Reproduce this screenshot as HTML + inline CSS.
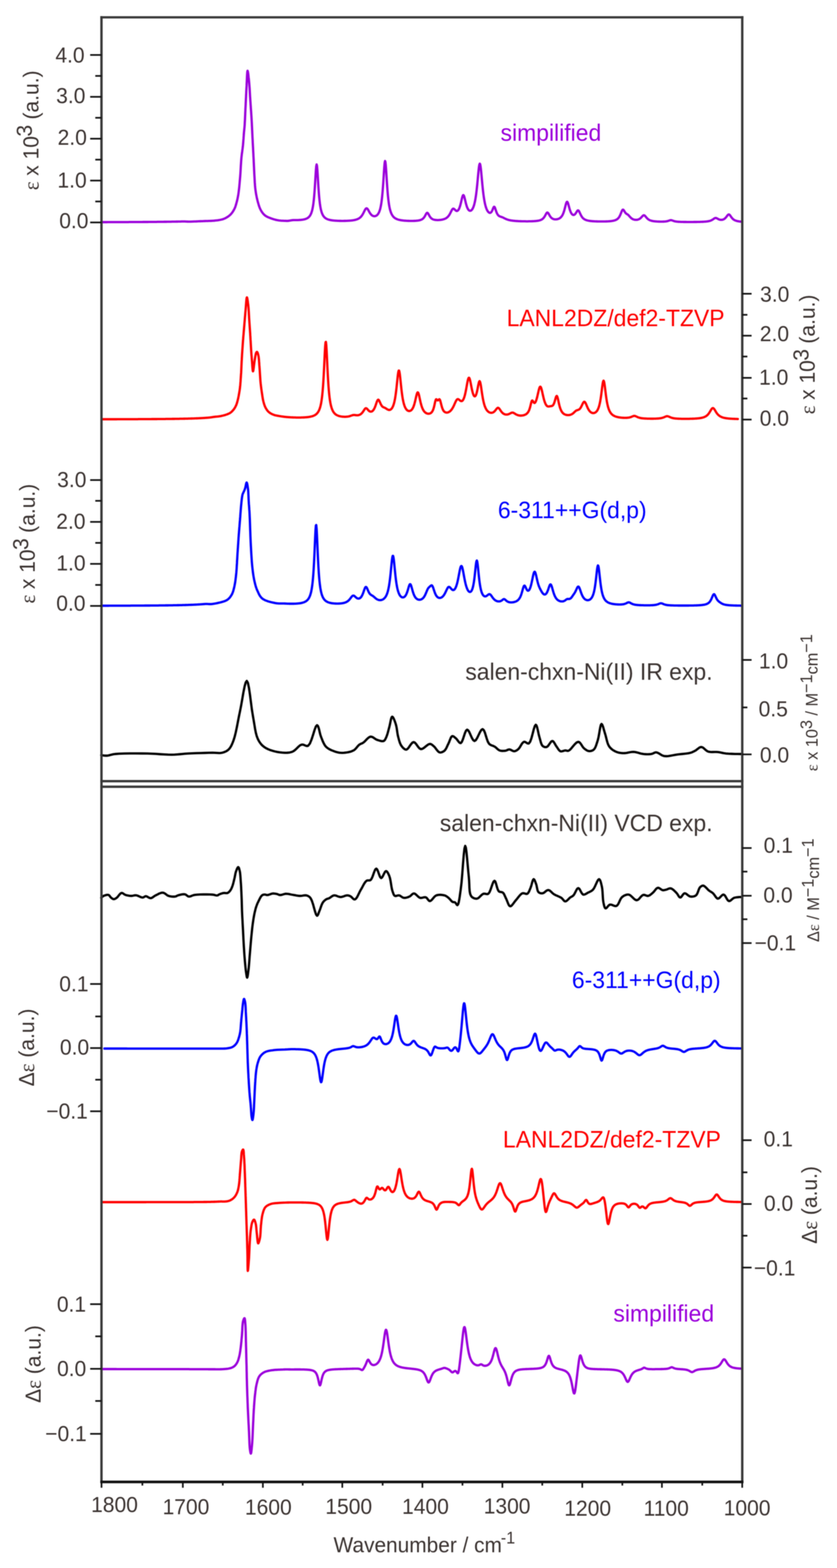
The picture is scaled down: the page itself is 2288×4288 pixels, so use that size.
<!DOCTYPE html><html><head><meta charset="utf-8"><title>IR and VCD spectra</title><style>html,body{margin:0;padding:0;background:#fff}svg{display:block;filter:blur(0.8px)}text{font-family:"Liberation Sans",Arial,sans-serif}</style></head><body>
<svg width="2288" height="4288" viewBox="0 0 2288 4288">
<rect x="0" y="0" width="2288" height="4288" fill="#fff"/>
<path d="M277.5 607.5 L278.5 607.5 L279.5 607.5 L280.5 607.5 L281.5 607.5 L282.5 607.5 L283.5 607.5 L284.5 607.5 L285.5 607.5 L286.5 607.5 L287.5 607.5 L288.5 607.5 L289.5 607.5 L290.5 607.5 L291.5 607.5 L292.5 607.5 L293.5 607.4 L294.5 607.4 L295.5 607.4 L296.5 607.4 L297.5 607.4 L298.5 607.4 L299.5 607.4 L300.5 607.4 L301.5 607.4 L302.5 607.4 L303.5 607.4 L304.5 607.4 L305.5 607.4 L306.5 607.4 L307.5 607.4 L308.5 607.4 L309.5 607.4 L310.5 607.4 L311.5 607.4 L312.5 607.4 L313.5 607.4 L314.5 607.4 L315.5 607.4 L316.5 607.4 L317.5 607.4 L318.5 607.4 L319.5 607.4 L320.5 607.4 L321.5 607.4 L322.5 607.4 L323.5 607.4 L324.5 607.4 L325.5 607.4 L326.5 607.3 L327.5 607.3 L328.5 607.3 L329.5 607.3 L330.5 607.3 L331.5 607.3 L332.5 607.3 L333.5 607.3 L334.5 607.3 L335.5 607.3 L336.5 607.3 L337.5 607.3 L338.5 607.3 L339.5 607.3 L340.5 607.3 L341.5 607.3 L342.5 607.3 L343.5 607.3 L344.5 607.3 L345.5 607.3 L346.5 607.3 L347.5 607.3 L348.5 607.3 L349.5 607.3 L350.5 607.3 L351.5 607.3 L352.5 607.2 L353.5 607.2 L354.5 607.2 L355.5 607.2 L356.5 607.2 L357.5 607.2 L358.5 607.2 L359.5 607.2 L360.5 607.2 L361.5 607.2 L362.5 607.2 L363.5 607.2 L364.5 607.2 L365.5 607.2 L366.5 607.2 L367.5 607.2 L368.5 607.2 L369.5 607.2 L370.5 607.2 L371.5 607.2 L372.5 607.2 L373.5 607.1 L374.5 607.1 L375.5 607.1 L376.5 607.1 L377.5 607.1 L378.5 607.1 L379.5 607.1 L380.5 607.1 L381.5 607.1 L382.5 607.1 L383.5 607.1 L384.5 607.1 L385.5 607.1 L386.5 607.1 L387.5 607.1 L388.5 607.1 L389.5 607.1 L390.5 607 L391.5 607 L392.5 607 L393.5 607 L394.5 607 L395.5 607 L396.5 607 L397.5 607 L398.5 607 L399.5 607 L400.5 607 L401.5 607 L402.5 607 L403.5 607 L404.5 607 L405.5 606.9 L406.5 606.9 L407.5 606.9 L408.5 606.9 L409.5 606.9 L410.5 606.9 L411.5 606.9 L412.5 606.9 L413.5 606.9 L414.5 606.9 L415.5 606.9 L416.5 606.9 L417.5 606.9 L418.5 606.8 L419.5 606.8 L420.5 606.8 L421.5 606.8 L422.5 606.8 L423.5 606.8 L424.5 606.8 L425.5 606.8 L426.5 606.8 L427.5 606.8 L428.5 606.8 L429.5 606.7 L430.5 606.7 L431.5 606.7 L432.5 606.7 L433.5 606.7 L434.5 606.7 L435.5 606.7 L436.5 606.7 L437.5 606.7 L438.5 606.7 L439.5 606.6 L440.5 606.6 L441.5 606.6 L442.5 606.6 L443.5 606.6 L444.5 606.6 L445.5 606.6 L446.5 606.6 L447.5 606.6 L448.5 606.5 L449.5 606.5 L450.5 606.5 L451.5 606.5 L452.5 606.5 L453.5 606.5 L454.5 606.5 L455.5 606.5 L456.5 606.4 L457.5 606.4 L458.5 606.4 L459.5 606.4 L460.5 606.4 L461.5 606.4 L462.5 606.4 L463.5 606.3 L464.5 606.3 L465.5 606.3 L466.5 606.3 L467.5 606.3 L468.5 606.3 L469.5 606.2 L470.5 606.2 L471.5 606.2 L472.5 606.2 L473.5 606.2 L474.5 606.2 L475.5 606.1 L476.5 606.1 L477.5 606.1 L478.5 606.1 L479.5 606.1 L480.5 606.1 L481.5 606 L482.5 606 L483.5 606 L484.5 606 L485.5 606 L486.5 605.9 L487.5 605.9 L488.5 605.9 L489.5 605.9 L490.5 605.9 L491.5 605.8 L492.5 605.8 L493.5 605.8 L494.5 605.8 L495.5 605.7 L496.5 605.7 L497.5 605.7 L498.5 605.7 L499.5 605.6 L500.5 605.6 L501.5 605.6 L502.5 605.6 L503.5 605.6 L504.5 605.7 L505.5 605.7 L506.5 605.7 L507.5 605.8 L508.5 605.8 L509.5 605.9 L510.5 605.9 L511.5 606 L512.5 606 L513.5 606.1 L514.5 606.1 L515.5 606.1 L516.5 606.2 L517.5 606.2 L518.5 606.1 L519.5 606.1 L521.1 606.1 L526.5 605.8 L531.6 605.6 L536.2 605.5 L540 605.3 L542.3 605.2 L544.4 605.1 L546.4 605 L548.3 605 L550.2 604.9 L552.1 604.8 L554 604.8 L555.9 604.7 L557.9 604.6 L560 604.5 L562.6 604.4 L565.3 604.3 L568.1 604.3 L571 604.2 L573.9 604.1 L576.7 604 L579.6 603.9 L582.5 603.7 L585.3 603.5 L588 603.2 L590.5 602.9 L593 602.6 L595.5 602.3 L598 601.9 L600.5 601.5 L602.9 601 L605.2 600.5 L607.6 599.9 L609.8 599.2 L612 598.4 L614 597.6 L615.9 596.7 L617.8 595.7 L619.6 594.6 L621.5 593.5 L623.2 592.4 L624.9 591.2 L626.5 589.9 L628.1 588.6 L629.6 587.2 L631 585.8 L632.3 584.4 L633.5 582.9 L634.7 581.3 L635.9 579.7 L636.9 578 L638 576.4 L639 574.7 L639.9 572.9 L640.8 571.2 L641.7 569.4 L642.4 567.6 L643.2 565.7 L643.8 563.9 L644.4 561.9 L645 560 L645.6 558 L646.1 556 L646.7 554 L647.2 552 L647.8 549.8 L648.3 547.5 L648.9 545.3 L649.4 543 L649.8 540.6 L650.3 538.3 L650.7 535.8 L651.2 533.3 L651.6 530.7 L652 528 L652.5 524.2 L653 520.2 L653.5 516 L654 511.7 L654.4 507.3 L654.8 502.8 L655.2 498.2 L655.6 493.6 L656 489 L656.4 484.4 L656.8 479.3 L657.2 474.1 L657.5 468.7 L657.8 463.3 L658.1 457.8 L658.4 452.4 L658.8 447.1 L659.1 441.9 L659.5 436.8 L659.9 432 L660.3 428.2 L660.7 424.6 L661.1 421 L661.6 417.5 L662.1 414.1 L662.5 410.7 L663 407.4 L663.4 404 L663.8 400.6 L664.2 397.1 L664.5 393.6 L664.8 389.9 L665.1 386.2 L665.4 382.5 L665.7 378.9 L665.9 375.2 L666.2 371.7 L666.4 368.3 L666.7 365.1 L666.9 362.1 L667.1 360.2 L667.3 358.4 L667.4 356.7 L667.6 355.2 L667.8 353.6 L667.9 352 L668.1 350.4 L668.3 348.7 L668.4 346.8 L668.6 344.7 L668.9 340.6 L669.1 336 L669.4 331.1 L669.7 325.8 L669.9 320.3 L670.2 314.6 L670.4 308.9 L670.7 303.2 L670.9 297.7 L671.2 292.3 L671.5 287 L671.7 281.8 L672 276.5 L672.2 271.2 L672.5 265.9 L672.7 260.6 L673 255.4 L673.2 250.2 L673.5 245 L673.8 239.9 L674.1 234.7 L674.3 229 L674.6 222.9 L674.9 216.7 L675.1 210.8 L675.4 205.3 L675.7 200.6 L676 196.9 L676.4 194.5 L676.8 193.6 L677.1 194.1 L677.5 195.5 L677.9 197.7 L678.4 200.5 L678.8 203.8 L679.2 207.5 L679.6 211.3 L680.1 215.2 L680.4 218.9 L680.8 222.4 L681.2 227 L681.6 231.9 L682 237 L682.4 242.2 L682.7 247.6 L683 253.1 L683.3 258.6 L683.6 264.1 L684 269.5 L684.3 274.8 L684.7 280 L685 285.3 L685.4 290.5 L685.7 295.8 L686.1 301 L686.5 306.2 L686.8 311.5 L687.2 316.7 L687.5 322 L687.8 327.2 L688.1 332.4 L688.4 337.7 L688.6 342.9 L688.9 348.2 L689.1 353.4 L689.4 358.6 L689.6 363.9 L689.9 369.1 L690.1 374.4 L690.4 379.6 L690.7 384.8 L690.9 390.1 L691.2 395.3 L691.5 400.6 L691.8 405.8 L692 411 L692.3 416.3 L692.6 421.5 L692.8 426.8 L693.1 432 L693.4 437.3 L693.6 442.6 L693.9 448 L694.1 453.4 L694.4 458.8 L694.6 464.2 L694.9 469.4 L695.1 474.6 L695.4 479.6 L695.7 484.4 L695.9 488.2 L696.1 492 L696.3 495.7 L696.5 499.2 L696.8 502.8 L697 506.2 L697.3 509.7 L697.6 513.1 L698 516.6 L698.4 520 L698.9 523.3 L699.4 526.6 L699.9 529.9 L700.5 533.2 L701.2 536.5 L701.8 539.7 L702.5 542.9 L703.3 546 L704 549.1 L704.8 552 L705.5 554.5 L706.2 556.9 L706.9 559.3 L707.6 561.6 L708.3 563.9 L709.1 566.1 L710 568.3 L710.8 570.4 L711.8 572.4 L712.8 574.4 L713.7 576.1 L714.7 577.7 L715.7 579.3 L716.8 580.8 L717.8 582.3 L719 583.7 L720.2 585.1 L721.4 586.4 L722.7 587.6 L724 588.8 L725.4 589.9 L726.8 590.8 L728.4 591.7 L729.9 592.6 L731.5 593.4 L733.2 594.1 L734.9 594.8 L736.6 595.5 L738.3 596.1 L740 596.8 L741.9 597.5 L743.8 598.2 L745.7 598.8 L747.6 599.4 L749.6 600 L751.6 600.6 L753.7 601.1 L755.7 601.6 L757.8 602 L760 602.4 L762.6 602.8 L765.3 603.1 L768 603.4 L770.9 603.6 L773.7 603.7 L776.6 603.8 L779.4 603.9 L782.1 604 L784.8 604.1 L785.5 604.1 L786.5 604 L787.5 604 L788.5 603.9 L789.5 603.7 L790.5 603.6 L791.5 603.4 L792.5 603.2 L793.5 603 L794.5 602.9 L795.5 602.7 L796.5 602.5 L797.5 602.4 L798.5 602.2 L799.5 602.1 L800.5 602 L801.5 601.9 L802.5 601.9 L803.5 601.9 L804.5 601.9 L805.5 601.9 L806.5 601.9 L807.5 601.9 L808.5 601.9 L809.5 601.9 L810.5 601.9 L811.5 601.9 L812.5 601.8 L813.5 601.8 L814.5 601.8 L815.5 601.8 L816.5 601.7 L817.5 601.7 L818.5 601.6 L819.5 601.5 L820.5 601.5 L821.5 601.4 L822.5 601.3 L823.5 601.2 L824.5 601.1 L825.5 601 L826.5 600.8 L827.5 600.7 L828.5 600.5 L829.5 600.3 L830.5 600.1 L831.5 599.9 L832.5 599.7 L833.5 599.4 L834.5 599.1 L835.5 598.8 L836.5 598.4 L837.5 598 L838.5 597.5 L839.5 597 L840.5 596.4 L841.5 595.8 L842.5 595.1 L843.5 594.2 L844.5 593.3 L845.5 592.2 L846.5 591 L847.5 589.6 L848.5 587.9 L849.5 586 L850.5 583.8 L851.5 581.1 L852.5 578 L853.5 574.3 L854.5 569.8 L855.5 564.3 L856.5 557.7 L857.5 549.7 L858.5 539.9 L859.5 528.1 L860.5 514.2 L861.5 498.4 L862.5 481.6 L863.5 465.9 L864.5 454.3 L865.5 449.7 L866.5 453.4 L867.5 464.5 L868.5 480 L869.5 496.7 L870.5 512.7 L871.5 526.9 L872.5 538.9 L873.5 549 L874.5 557.2 L875.5 564 L876.5 569.6 L877.5 574.2 L878.5 578 L879.5 581.2 L880.5 584 L881.5 586.3 L882.5 588.2 L883.5 589.9 L884.5 591.4 L885.5 592.7 L886.5 593.8 L887.5 594.8 L888.5 595.7 L889.5 596.4 L890.5 597.1 L891.5 597.7 L892.5 598.3 L893.5 598.8 L894.5 599.2 L895.5 599.6 L896.5 600 L897.5 600.3 L898.5 600.7 L899.5 600.9 L900.5 601.2 L901.5 601.4 L902.5 601.6 L903.5 601.9 L904.5 602 L905.5 602.2 L906.5 602.4 L907.5 602.5 L908.5 602.6 L909.5 602.8 L910.5 602.9 L911.5 603 L912.5 603.1 L913.5 603.2 L914.5 603.3 L915.5 603.4 L916.5 603.4 L917.5 603.5 L918.5 603.6 L919.5 603.6 L920.5 603.7 L921.5 603.7 L922.5 603.8 L923.5 603.8 L924.5 603.9 L925.5 603.9 L926.5 603.9 L927.5 604 L928.5 604 L929.5 604 L930.5 604 L931.5 604 L932.5 604.1 L933.5 604.1 L934.5 604.1 L935.5 604.1 L936.5 604.1 L937.5 604.1 L938.5 604.1 L939.5 604.1 L940.5 604 L941.5 604 L942.5 604 L943.5 604 L944.5 604 L945.5 603.9 L946.5 603.9 L947.5 603.9 L948.5 603.8 L949.5 603.8 L950.5 603.7 L951.5 603.7 L952.5 603.6 L953.5 603.6 L954.5 603.5 L955.5 603.4 L956.5 603.4 L957.5 603.3 L958.5 603.2 L959.5 603.1 L960.5 603 L961.5 602.9 L962.5 602.8 L963.5 602.6 L964.5 602.5 L965.5 602.3 L966.5 602.2 L967.5 602 L968.5 601.8 L969.5 601.6 L970.5 601.4 L971.5 601.1 L972.5 600.9 L973.5 600.6 L974.5 600.3 L975.5 599.9 L976.5 599.5 L977.5 599.1 L978.5 598.7 L979.5 598.2 L980.5 597.6 L981.5 597 L982.5 596.4 L983.5 595.6 L984.5 594.8 L985.5 593.9 L986.5 592.9 L987.5 591.8 L988.5 590.5 L989.5 589.2 L990.5 587.7 L991.5 586 L992.5 584.3 L993.5 582.4 L994.5 580.4 L995.5 578.4 L996.5 576.3 L997.5 574.4 L998.5 572.7 L999.5 571.2 L1000.5 570.2 L1001.5 569.7 L1002.5 569.7 L1003.5 570.2 L1004.5 571.2 L1005.5 572.6 L1006.5 574.2 L1007.5 575.9 L1008.5 577.8 L1009.5 579.6 L1010.5 581.3 L1011.5 582.9 L1012.5 584.3 L1013.5 585.6 L1014.5 586.8 L1015.5 587.8 L1016.5 588.7 L1017.5 589.4 L1018.5 590 L1019.5 590.5 L1020.5 590.8 L1021.5 591.1 L1022.5 591.2 L1023.5 591.3 L1024.5 591.2 L1025.5 591.1 L1026.5 590.8 L1027.5 590.4 L1028.5 589.9 L1029.5 589.3 L1030.5 588.5 L1031.5 587.6 L1032.5 586.4 L1033.5 585.1 L1034.5 583.5 L1035.5 581.7 L1036.5 579.5 L1037.5 577 L1038.5 573.9 L1039.5 570.3 L1040.5 566 L1041.5 560.9 L1042.5 554.8 L1043.5 547.5 L1044.5 538.7 L1045.5 528.3 L1046.5 516.1 L1047.5 502 L1048.5 486.6 L1049.5 470.7 L1050.5 456.2 L1051.5 445.2 L1052.5 440.3 L1053.5 442.5 L1054.5 451.4 L1055.5 465 L1056.5 480.7 L1057.5 496.6 L1058.5 511.4 L1059.5 524.4 L1060.5 535.7 L1061.5 545.2 L1062.5 553.2 L1063.5 560 L1064.5 565.6 L1065.5 570.4 L1066.5 574.4 L1067.5 577.8 L1068.5 580.7 L1069.5 583.3 L1070.5 585.4 L1071.5 587.3 L1072.5 589 L1073.5 590.4 L1074.5 591.7 L1075.5 592.9 L1076.5 593.9 L1077.5 594.8 L1078.5 595.6 L1079.5 596.3 L1080.5 597 L1081.5 597.6 L1082.5 598.1 L1083.5 598.6 L1084.5 599 L1085.5 599.4 L1086.5 599.8 L1087.5 600.2 L1088.5 600.5 L1089.5 600.8 L1090.5 601 L1091.5 601.3 L1092.5 601.5 L1093.5 601.7 L1094.5 601.9 L1095.5 602.1 L1096.5 602.3 L1097.5 602.4 L1098.5 602.6 L1099.5 602.7 L1100.5 602.9 L1101.5 603 L1102.5 603.1 L1103.5 603.2 L1104.5 603.3 L1105.5 603.4 L1106.5 603.5 L1107.5 603.5 L1108.5 603.6 L1109.5 603.7 L1110.5 603.7 L1111.5 603.8 L1112.5 603.9 L1113.5 603.9 L1114.5 603.9 L1115.5 604 L1116.5 604 L1117.5 604 L1118.5 604.1 L1119.5 604.1 L1120.5 604.1 L1121.5 604.1 L1122.5 604.1 L1123.5 604.1 L1124.5 604.1 L1125.5 604.1 L1126.5 604.1 L1127.5 604.1 L1128.5 604.1 L1129.5 604.1 L1130.5 604.1 L1131.5 604 L1132.5 604 L1133.5 604 L1134.5 603.9 L1135.5 603.9 L1136.5 603.8 L1137.5 603.7 L1138.5 603.6 L1139.5 603.5 L1140.5 603.4 L1141.5 603.3 L1142.5 603.2 L1143.5 603 L1144.5 602.9 L1145.5 602.7 L1146.5 602.4 L1147.5 602.2 L1148.5 601.9 L1149.5 601.6 L1150.5 601.2 L1151.5 600.8 L1152.5 600.4 L1153.5 599.8 L1154.5 599.2 L1155.5 598.5 L1156.5 597.6 L1157.5 596.6 L1158.5 595.5 L1159.5 594.2 L1160.5 592.7 L1161.5 591 L1162.5 589.2 L1163.5 587.3 L1164.5 585.4 L1165.5 583.8 L1166.5 582.6 L1167.5 582 L1168.5 582.1 L1169.5 582.9 L1170.5 584.3 L1171.5 586 L1172.5 587.8 L1173.5 589.7 L1174.5 591.4 L1175.5 592.9 L1176.5 594.3 L1177.5 595.5 L1178.5 596.5 L1179.5 597.4 L1180.5 598.1 L1181.5 598.8 L1182.5 599.3 L1183.5 599.8 L1184.5 600.2 L1185.5 600.5 L1186.5 600.8 L1187.5 601 L1188.5 601.2 L1189.5 601.4 L1190.5 601.5 L1191.5 601.6 L1192.5 601.7 L1193.5 601.7 L1194.5 601.8 L1195.5 601.8 L1196.5 601.8 L1197.5 601.8 L1198.5 601.8 L1199.5 601.7 L1200.5 601.7 L1201.5 601.6 L1202.5 601.5 L1203.5 601.4 L1204.5 601.3 L1205.5 601.2 L1206.5 601 L1207.5 600.8 L1208.5 600.6 L1209.5 600.4 L1210.5 600.2 L1211.5 599.9 L1212.5 599.6 L1213.5 599.3 L1214.5 599 L1215.5 598.6 L1216.5 598.2 L1217.5 597.7 L1218.5 597.2 L1219.5 596.6 L1220.5 595.9 L1221.5 595.2 L1222.5 594.4 L1223.5 593.5 L1224.5 592.5 L1225.5 591.4 L1226.5 590.1 L1227.5 588.7 L1228.5 587.2 L1229.5 585.5 L1230.5 583.7 L1231.5 581.7 L1232.5 579.7 L1233.5 577.7 L1234.5 575.7 L1235.5 573.9 L1236.5 572.4 L1237.5 571.3 L1238.5 570.7 L1239.5 570.6 L1240.5 570.9 L1241.5 571.6 L1242.5 572.5 L1243.5 573.5 L1244.5 574.5 L1245.5 575.4 L1246.5 576.1 L1247.5 576.6 L1248.5 576.8 L1249.5 576.8 L1250.5 576.4 L1251.5 575.7 L1252.5 574.7 L1253.5 573.3 L1254.5 571.6 L1255.5 569.4 L1256.5 566.9 L1257.5 563.8 L1258.5 560.4 L1259.5 556.5 L1260.5 552.4 L1261.5 548 L1262.5 543.7 L1263.5 539.7 L1264.5 536.5 L1265.5 534.3 L1266.5 533.5 L1267.5 534.2 L1268.5 536.2 L1269.5 539.3 L1270.5 543.2 L1271.5 547.4 L1272.5 551.6 L1273.5 555.7 L1274.5 559.4 L1275.5 562.8 L1276.5 565.8 L1277.5 568.3 L1278.5 570.4 L1279.5 572.2 L1280.5 573.6 L1281.5 574.7 L1282.5 575.5 L1283.5 576.1 L1284.5 576.4 L1285.5 576.4 L1286.5 576.2 L1287.5 575.8 L1288.5 575.1 L1289.5 574.1 L1290.5 572.9 L1291.5 571.4 L1292.5 569.6 L1293.5 567.5 L1294.5 565 L1295.5 562 L1296.5 558.6 L1297.5 554.6 L1298.5 550 L1299.5 544.6 L1300.5 538.6 L1301.5 531.6 L1302.5 523.7 L1303.5 514.9 L1304.5 505.2 L1305.5 494.7 L1306.5 483.9 L1307.5 473.1 L1308.5 463.2 L1309.5 455.1 L1310.5 449.6 L1311.5 447.5 L1312.5 449 L1313.5 454 L1314.5 461.8 L1315.5 471.6 L1316.5 482.4 L1317.5 493.4 L1318.5 504.1 L1319.5 514.2 L1320.5 523.3 L1321.5 531.6 L1322.5 538.9 L1323.5 545.3 L1324.5 551 L1325.5 555.9 L1326.5 560.2 L1327.5 564 L1328.5 567.3 L1329.5 570.1 L1330.5 572.6 L1331.5 574.7 L1332.5 576.5 L1333.5 578 L1334.5 579.3 L1335.5 580.3 L1336.5 581.1 L1337.5 581.7 L1338.5 582 L1339.5 582.1 L1340.5 581.9 L1341.5 581.4 L1342.5 580.6 L1343.5 579.4 L1344.5 577.8 L1345.5 575.8 L1346.5 573.5 L1347.5 571 L1348.5 568.5 L1349.5 566.5 L1350.5 565.5 L1351.5 565.6 L1352.5 567 L1353.5 569.4 L1354.5 572.4 L1355.5 575.5 L1356.5 578.4 L1357.5 581.1 L1358.5 583.4 L1359.5 585.3 L1360.5 586.9 L1361.5 588.2 L1362.5 589.3 L1363.5 590.1 L1364.5 590.8 L1365.5 591.4 L1366.5 591.8 L1367.5 592.2 L1368.5 592.6 L1369.5 592.9 L1370.5 593.2 L1371.5 593.5 L1372.5 593.9 L1373.5 594.3 L1374.5 594.7 L1375.5 595.2 L1376.5 595.6 L1377.5 596.2 L1378.5 596.7 L1379.5 597.2 L1380.5 597.7 L1381.5 598.2 L1382.5 598.6 L1383.5 599.1 L1384.5 599.5 L1385.5 599.9 L1386.5 600.3 L1387.5 600.6 L1388.5 600.9 L1389.5 601.2 L1390.5 601.5 L1391.5 601.8 L1392.5 602 L1393.5 602.2 L1394.5 602.4 L1395.5 602.6 L1396.5 602.8 L1397.5 602.9 L1398.5 603.1 L1399.5 603.2 L1400.5 603.4 L1401.5 603.5 L1402.5 603.6 L1403.5 603.7 L1404.5 603.8 L1405.5 603.9 L1406.5 604 L1407.5 604.1 L1408.5 604.2 L1409.5 604.3 L1410.5 604.4 L1411.5 604.4 L1412.5 604.5 L1413.5 604.5 L1414.5 604.6 L1415.5 604.7 L1416.5 604.7 L1417.5 604.8 L1418.5 604.8 L1419.5 604.8 L1420.5 604.9 L1421.5 604.9 L1422.5 605 L1423.5 605 L1424.5 605 L1425.5 605.1 L1426.5 605.1 L1427.5 605.1 L1428.5 605.1 L1429.5 605.2 L1430.5 605.2 L1431.5 605.2 L1432.5 605.2 L1433.5 605.2 L1434.5 605.2 L1435.5 605.2 L1436.5 605.2 L1437.5 605.3 L1438.5 605.3 L1439.5 605.3 L1440.5 605.3 L1441.5 605.3 L1442.5 605.3 L1443.5 605.3 L1444.5 605.2 L1445.5 605.2 L1446.5 605.2 L1447.5 605.2 L1448.5 605.2 L1449.5 605.2 L1450.5 605.1 L1451.5 605.1 L1452.5 605.1 L1453.5 605.1 L1454.5 605 L1455.5 605 L1456.5 604.9 L1457.5 604.9 L1458.5 604.8 L1459.5 604.8 L1460.5 604.7 L1461.5 604.7 L1462.5 604.6 L1463.5 604.5 L1464.5 604.4 L1465.5 604.3 L1466.5 604.2 L1467.5 604.1 L1468.5 603.9 L1469.5 603.8 L1470.5 603.6 L1471.5 603.5 L1472.5 603.3 L1473.5 603 L1474.5 602.8 L1475.5 602.5 L1476.5 602.2 L1477.5 601.8 L1478.5 601.4 L1479.5 601 L1480.5 600.5 L1481.5 599.9 L1482.5 599.2 L1483.5 598.4 L1484.5 597.5 L1485.5 596.5 L1486.5 595.3 L1487.5 594 L1488.5 592.5 L1489.5 590.8 L1490.5 589 L1491.5 587.1 L1492.5 585.3 L1493.5 583.6 L1494.5 582.2 L1495.5 581.4 L1496.5 581.2 L1497.5 581.7 L1498.5 582.7 L1499.5 584.2 L1500.5 585.9 L1501.5 587.7 L1502.5 589.5 L1503.5 591.1 L1504.5 592.5 L1505.5 593.8 L1506.5 595 L1507.5 595.9 L1508.5 596.7 L1509.5 597.4 L1510.5 598 L1511.5 598.5 L1512.5 598.9 L1513.5 599.2 L1514.5 599.5 L1515.5 599.7 L1516.5 599.8 L1517.5 599.9 L1518.5 599.9 L1519.5 599.9 L1520.5 599.8 L1521.5 599.7 L1522.5 599.6 L1523.5 599.4 L1524.5 599.1 L1525.5 598.8 L1526.5 598.5 L1527.5 598.1 L1528.5 597.6 L1529.5 597 L1530.5 596.4 L1531.5 595.7 L1532.5 594.8 L1533.5 593.8 L1534.5 592.7 L1535.5 591.4 L1536.5 590 L1537.5 588.3 L1538.5 586.3 L1539.5 584.1 L1540.5 581.5 L1541.5 578.6 L1542.5 575.3 L1543.5 571.7 L1544.5 567.8 L1545.5 563.8 L1546.5 559.9 L1547.5 556.4 L1548.5 553.7 L1549.5 552.1 L1550.5 551.9 L1551.5 553 L1552.5 555.3 L1553.5 558.4 L1554.5 562 L1555.5 565.8 L1556.5 569.5 L1557.5 572.9 L1558.5 575.9 L1559.5 578.6 L1560.5 580.9 L1561.5 582.8 L1562.5 584.3 L1563.5 585.6 L1564.5 586.6 L1565.5 587.2 L1566.5 587.7 L1567.5 587.9 L1568.5 587.8 L1569.5 587.5 L1570.5 586.9 L1571.5 586.1 L1572.5 585 L1573.5 583.7 L1574.5 582.2 L1575.5 580.6 L1576.5 578.9 L1577.5 577.4 L1578.5 576.1 L1579.5 575.4 L1580.5 575.3 L1581.5 575.9 L1582.5 577.1 L1583.5 578.9 L1584.5 581 L1585.5 583.2 L1586.5 585.4 L1587.5 587.5 L1588.5 589.4 L1589.5 591.2 L1590.5 592.7 L1591.5 594.1 L1592.5 595.4 L1593.5 596.4 L1594.5 597.4 L1595.5 598.2 L1596.5 598.9 L1597.5 599.6 L1598.5 600.2 L1599.5 600.7 L1600.5 601.1 L1601.5 601.5 L1602.5 601.9 L1603.5 602.2 L1604.5 602.5 L1605.5 602.8 L1606.5 603 L1607.5 603.3 L1608.5 603.5 L1609.5 603.7 L1610.5 603.8 L1611.5 604 L1612.5 604.1 L1613.5 604.3 L1614.5 604.4 L1615.5 604.5 L1616.5 604.6 L1617.5 604.7 L1618.5 604.8 L1619.5 604.9 L1620.5 605 L1621.5 605 L1622.5 605.1 L1623.5 605.2 L1624.5 605.2 L1625.5 605.3 L1626.5 605.3 L1627.5 605.4 L1628.5 605.4 L1629.5 605.4 L1630.5 605.5 L1631.5 605.5 L1632.5 605.5 L1633.5 605.6 L1634.5 605.6 L1635.5 605.6 L1636.5 605.6 L1637.5 605.7 L1638.5 605.7 L1639.5 605.7 L1640.5 605.7 L1641.5 605.7 L1642.5 605.7 L1643.5 605.7 L1644.5 605.7 L1645.5 605.7 L1646.5 605.7 L1647.5 605.7 L1648.5 605.7 L1649.5 605.7 L1650.5 605.7 L1651.5 605.6 L1652.5 605.6 L1653.5 605.6 L1654.5 605.6 L1655.5 605.6 L1656.5 605.5 L1657.5 605.5 L1658.5 605.5 L1659.5 605.4 L1660.5 605.4 L1661.5 605.3 L1662.5 605.3 L1663.5 605.2 L1664.5 605.1 L1665.5 605.1 L1666.5 605 L1667.5 604.9 L1668.5 604.8 L1669.5 604.7 L1670.5 604.6 L1671.5 604.5 L1672.5 604.3 L1673.5 604.2 L1674.5 604 L1675.5 603.8 L1676.5 603.6 L1677.5 603.4 L1678.5 603.2 L1679.5 602.9 L1680.5 602.6 L1681.5 602.3 L1682.5 601.9 L1683.5 601.4 L1684.5 601 L1685.5 600.4 L1686.5 599.8 L1687.5 599.1 L1688.5 598.3 L1689.5 597.3 L1690.5 596.2 L1691.5 595 L1692.5 593.6 L1693.5 591.9 L1694.5 590 L1695.5 587.9 L1696.5 585.6 L1697.5 583 L1698.5 580.4 L1699.5 577.9 L1700.5 575.7 L1701.5 574.1 L1702.5 573.3 L1703.5 573.3 L1704.5 574.1 L1705.5 575.4 L1706.5 577.1 L1707.5 578.8 L1708.5 580.4 L1709.5 581.8 L1710.5 583 L1711.5 583.9 L1712.5 584.6 L1713.5 585.3 L1714.5 585.9 L1715.5 586.5 L1716.5 587.2 L1717.5 588.1 L1718.5 589.1 L1719.5 590.2 L1720.5 591.3 L1721.5 592.5 L1722.5 593.6 L1723.5 594.6 L1724.5 595.6 L1725.5 596.5 L1726.5 597.3 L1727.5 598 L1728.5 598.6 L1729.5 599.1 L1730.5 599.6 L1731.5 600 L1732.5 600.3 L1733.5 600.6 L1734.5 600.8 L1735.5 600.9 L1736.5 601.1 L1737.5 601.1 L1738.5 601.2 L1739.5 601.1 L1740.5 601.1 L1741.5 601 L1742.5 600.8 L1743.5 600.6 L1744.5 600.3 L1745.5 599.9 L1746.5 599.5 L1747.5 599 L1748.5 598.4 L1749.5 597.8 L1750.5 597 L1751.5 596.1 L1752.5 595.1 L1753.5 594.1 L1754.5 593 L1755.5 591.8 L1756.5 590.8 L1757.5 589.8 L1758.5 589.1 L1759.5 588.7 L1760.5 588.7 L1761.5 589 L1762.5 589.7 L1763.5 590.7 L1764.5 591.8 L1765.5 593 L1766.5 594.2 L1767.5 595.4 L1768.5 596.5 L1769.5 597.5 L1770.5 598.5 L1771.5 599.3 L1772.5 600 L1773.5 600.7 L1774.5 601.3 L1775.5 601.8 L1776.5 602.2 L1777.5 602.7 L1778.5 603 L1779.5 603.3 L1780.5 603.6 L1781.5 603.9 L1782.5 604.1 L1783.5 604.3 L1784.5 604.5 L1785.5 604.7 L1786.5 604.8 L1787.5 605 L1788.5 605.1 L1789.5 605.2 L1790.5 605.3 L1791.5 605.4 L1792.5 605.5 L1793.5 605.6 L1794.5 605.7 L1795.5 605.7 L1796.5 605.8 L1797.5 605.8 L1798.5 605.9 L1799.5 605.9 L1800.5 606 L1801.5 606 L1802.5 606 L1803.5 606.1 L1804.5 606.1 L1805.5 606.1 L1806.5 606.1 L1807.5 606.1 L1808.5 606.1 L1809.5 606.1 L1810.5 606.1 L1811.5 606.1 L1812.5 606 L1813.5 606 L1814.5 606 L1815.5 605.9 L1816.5 605.9 L1817.5 605.8 L1818.5 605.7 L1819.5 605.6 L1820.5 605.5 L1821.5 605.3 L1822.5 605.1 L1823.5 604.9 L1824.5 604.7 L1825.5 604.4 L1826.5 604.1 L1827.5 603.8 L1828.5 603.4 L1829.5 603.1 L1830.5 602.7 L1831.5 602.4 L1832.5 602.2 L1833.5 602.1 L1834.5 602.1 L1835.5 602.2 L1836.5 602.5 L1837.5 602.8 L1838.5 603.2 L1839.5 603.6 L1840.5 603.9 L1841.5 604.3 L1842.5 604.6 L1843.5 604.9 L1844.5 605.1 L1845.5 605.4 L1846.5 605.6 L1847.5 605.7 L1848.5 605.9 L1849.5 606 L1850.5 606.1 L1851.5 606.2 L1852.5 606.3 L1853.5 606.4 L1854.5 606.5 L1855.5 606.5 L1856.5 606.6 L1857.5 606.6 L1858.5 606.7 L1859.5 606.7 L1860.5 606.8 L1861.5 606.8 L1862.5 606.8 L1863.5 606.9 L1864.5 606.9 L1865.5 606.9 L1866.5 606.9 L1867.5 606.9 L1868.5 607 L1869.5 607 L1870.5 607 L1871.5 607 L1872.5 607 L1873.5 607 L1874.5 607 L1875.5 607 L1876.5 607.1 L1877.5 607.1 L1878.5 607.1 L1879.5 607.1 L1880.5 607.1 L1881.5 607.1 L1882.5 607.1 L1883.5 607.1 L1884.5 607.1 L1885.5 607.1 L1886.5 607.1 L1887.5 607.1 L1888.5 607.1 L1889.5 607.1 L1890.5 607.1 L1891.5 607.1 L1892.5 607.1 L1893.5 607.1 L1894.5 607.1 L1895.5 607.1 L1896.5 607 L1897.5 607 L1898.5 607 L1899.5 607 L1900.5 607 L1901.5 607 L1902.5 607 L1903.5 607 L1904.5 607 L1905.5 606.9 L1906.5 606.9 L1907.5 606.9 L1908.5 606.9 L1909.5 606.9 L1910.5 606.8 L1911.5 606.8 L1912.5 606.8 L1913.5 606.8 L1914.5 606.7 L1915.5 606.7 L1916.5 606.7 L1917.5 606.6 L1918.5 606.6 L1919.5 606.6 L1920.5 606.5 L1921.5 606.5 L1922.5 606.4 L1923.5 606.4 L1924.5 606.3 L1925.5 606.2 L1926.5 606.2 L1927.5 606.1 L1928.5 606 L1929.5 605.9 L1930.5 605.8 L1931.5 605.7 L1932.5 605.6 L1933.5 605.4 L1934.5 605.3 L1935.5 605.1 L1936.5 604.9 L1937.5 604.7 L1938.5 604.5 L1939.5 604.3 L1940.5 604 L1941.5 603.7 L1942.5 603.3 L1943.5 602.9 L1944.5 602.5 L1945.5 602 L1946.5 601.4 L1947.5 600.8 L1948.5 600.2 L1949.5 599.5 L1950.5 598.8 L1951.5 598.1 L1952.5 597.4 L1953.5 596.8 L1954.5 596.4 L1955.5 596.1 L1956.5 596.1 L1957.5 596.2 L1958.5 596.5 L1959.5 596.9 L1960.5 597.5 L1961.5 598 L1962.5 598.6 L1963.5 599.1 L1964.5 599.6 L1965.5 600 L1966.5 600.4 L1967.5 600.7 L1968.5 600.9 L1969.5 601.1 L1970.5 601.2 L1971.5 601.2 L1972.5 601.2 L1973.5 601.1 L1974.5 600.9 L1975.5 600.7 L1976.5 600.4 L1977.5 600 L1978.5 599.5 L1979.5 599 L1980.5 598.3 L1981.5 597.5 L1982.5 596.6 L1983.5 595.6 L1984.5 594.4 L1985.5 593.2 L1986.5 591.9 L1987.5 590.5 L1988.5 589.2 L1989.5 588 L1990.5 587.1 L1991.5 586.6 L1992.5 586.5 L1993.5 586.8 L1994.5 587.6 L1995.5 588.7 L1996.5 590 L1997.5 591.5 L1998.5 592.9 L1999.5 594.3 L2000.5 595.6 L2001.5 596.8 L2002.5 597.9 L2003.5 598.8 L2004.5 599.7 L2005.5 600.5 L2006.5 601.1 L2007.5 601.7 L2008.5 602.2 L2009.5 602.7 L2010.5 603.1 L2011.5 603.5 L2012.5 603.8 L2013.5 604.1 L2014.5 604.4 L2015.5 604.6 L2016.5 604.8 L2017.5 605 L2018.5 605.2 L2019.5 605.4 L2020.5 605.5 L2021.5 605.6 L2022.5 605.8 L2023.5 605.9 L2024.5 606 L2025.5 606.1 L2026.5 606.2 L2027.5 606.2 L2028.5 606.3" fill="none" stroke="#9B00DB" stroke-width="6.3" stroke-linejoin="round" stroke-linecap="round"/>
<path d="M278.9 1146.5 L279.9 1146.5 L280.9 1146.5 L281.9 1146.5 L282.9 1146.5 L283.9 1146.5 L284.9 1146.5 L285.9 1146.5 L286.9 1146.5 L287.9 1146.5 L288.9 1146.5 L289.9 1146.5 L290.9 1146.5 L291.9 1146.5 L292.9 1146.5 L293.9 1146.5 L294.9 1146.5 L295.9 1146.5 L296.9 1146.5 L297.9 1146.5 L298.9 1146.5 L299.9 1146.5 L300.9 1146.5 L301.9 1146.5 L302.9 1146.5 L303.9 1146.5 L304.9 1146.5 L305.9 1146.5 L306.9 1146.5 L307.9 1146.5 L308.9 1146.5 L309.9 1146.5 L310.9 1146.5 L311.9 1146.5 L312.9 1146.5 L313.9 1146.5 L314.9 1146.5 L315.9 1146.5 L316.9 1146.5 L317.9 1146.5 L318.9 1146.5 L319.9 1146.4 L320.9 1146.4 L321.9 1146.4 L322.9 1146.4 L323.9 1146.4 L324.9 1146.4 L325.9 1146.4 L326.9 1146.4 L327.9 1146.4 L328.9 1146.4 L329.9 1146.4 L330.9 1146.4 L331.9 1146.4 L332.9 1146.4 L333.9 1146.4 L334.9 1146.4 L335.9 1146.4 L336.9 1146.4 L337.9 1146.4 L338.9 1146.4 L339.9 1146.4 L340.9 1146.4 L341.9 1146.4 L342.9 1146.4 L343.9 1146.4 L344.9 1146.4 L345.9 1146.4 L346.9 1146.4 L347.9 1146.4 L348.9 1146.4 L349.9 1146.4 L350.9 1146.4 L351.9 1146.3 L352.9 1146.3 L353.9 1146.3 L354.9 1146.3 L355.9 1146.3 L356.9 1146.3 L357.9 1146.3 L358.9 1146.3 L359.9 1146.3 L360.9 1146.3 L361.9 1146.3 L362.9 1146.3 L363.9 1146.3 L364.9 1146.3 L365.9 1146.3 L366.9 1146.3 L367.9 1146.3 L368.9 1146.3 L369.9 1146.3 L370.9 1146.3 L371.9 1146.3 L372.9 1146.3 L373.9 1146.3 L374.9 1146.3 L375.9 1146.3 L376.9 1146.3 L377.9 1146.2 L378.9 1146.2 L379.9 1146.2 L380.9 1146.2 L381.9 1146.2 L382.9 1146.2 L383.9 1146.2 L384.9 1146.2 L385.9 1146.2 L386.9 1146.2 L387.9 1146.2 L388.9 1146.2 L389.9 1146.2 L390.9 1146.2 L391.9 1146.2 L392.9 1146.2 L393.9 1146.2 L394.9 1146.2 L395.9 1146.2 L396.9 1146.2 L397.9 1146.1 L398.9 1146.1 L399.9 1146.1 L400.9 1146.1 L401.9 1146.1 L402.9 1146.1 L403.9 1146.1 L404.9 1146.1 L405.9 1146.1 L406.9 1146.1 L407.9 1146.1 L408.9 1146.1 L409.9 1146.1 L410.9 1146.1 L411.9 1146.1 L412.9 1146.1 L413.9 1146.1 L414.9 1146 L415.9 1146 L416.9 1146 L417.9 1146 L418.9 1146 L419.9 1146 L420.9 1146 L421.9 1146 L422.9 1146 L423.9 1146 L424.9 1146 L425.9 1146 L426.9 1146 L427.9 1146 L428.9 1146 L429.9 1145.9 L430.9 1145.9 L431.9 1145.9 L432.9 1145.9 L433.9 1145.9 L434.9 1145.9 L435.9 1145.9 L436.9 1145.9 L437.9 1145.9 L438.9 1145.9 L439.9 1145.9 L440.9 1145.9 L441.9 1145.8 L442.9 1145.8 L443.9 1145.8 L444.9 1145.8 L445.9 1145.8 L446.9 1145.8 L447.9 1145.8 L448.9 1145.8 L449.9 1145.8 L450.9 1145.8 L451.9 1145.8 L452.9 1145.7 L453.9 1145.7 L454.9 1145.7 L455.9 1145.7 L456.9 1145.7 L457.9 1145.7 L458.9 1145.7 L459.9 1145.7 L460.9 1145.7 L461.9 1145.6 L462.9 1145.6 L463.9 1145.6 L464.9 1145.6 L465.9 1145.6 L466.9 1145.6 L467.9 1145.6 L468.9 1145.6 L469.9 1145.6 L470.9 1145.5 L471.9 1145.5 L472.9 1145.5 L473.9 1145.5 L474.9 1145.5 L475.9 1145.5 L476.9 1145.5 L477.9 1145.4 L478.9 1145.4 L479.9 1145.4 L480.9 1145.4 L481.9 1145.4 L482.9 1145.4 L483.9 1145.4 L484.9 1145.3 L485.9 1145.3 L486.9 1145.3 L487.9 1145.3 L488.9 1145.3 L489.9 1145.3 L490.9 1145.2 L491.9 1145.2 L492.9 1145.2 L493.9 1145.2 L494.9 1145.2 L495.9 1145.2 L496.9 1145.1 L497.9 1145.1 L498.9 1145.1 L499.9 1145.1 L500.9 1145.1 L501.9 1145 L502.9 1145 L503.9 1145 L504.9 1145 L505.9 1144.9 L506.9 1144.9 L507.9 1144.9 L508.9 1144.9 L509.9 1144.9 L510.9 1144.8 L511.9 1144.8 L512.9 1144.8 L513.9 1144.8 L514.9 1144.7 L515.9 1144.7 L516.9 1144.7 L517.9 1144.7 L518.9 1144.6 L519.9 1144.6 L520.9 1144.6 L521.9 1144.5 L522.9 1144.5 L523.9 1144.5 L524.9 1144.5 L525.9 1144.4 L526.9 1144.4 L527.9 1144.4 L528.9 1144.3 L529.9 1144.3 L530.9 1144.3 L531.9 1144.2 L532.9 1144.2 L533.9 1144.2 L534.9 1144.1 L535.9 1144.1 L536.9 1144 L537.9 1144 L538.9 1144 L539.9 1143.9 L540.9 1143.9 L541.9 1143.8 L542.9 1143.8 L543.9 1143.7 L544.9 1143.7 L545.9 1143.6 L546.9 1143.6 L547.9 1143.6 L548.9 1143.5 L549.9 1143.4 L550.9 1143.4 L551.9 1143.3 L552.9 1143.3 L553.9 1143.2 L554.9 1143.2 L555.9 1143.1 L556.9 1143.1 L557.9 1143 L558.9 1142.9 L559.9 1142.9 L560.9 1142.8 L561.9 1142.7 L562.9 1142.7 L563.9 1142.6 L564.9 1142.5 L565.9 1142.4 L566.9 1142.4 L567.9 1142.3 L568.9 1142.2 L569.9 1142.1 L570.9 1142 L571.9 1141.9 L572.9 1141.8 L573.9 1141.7 L574.9 1141.6 L575.9 1141.4 L576.9 1141.3 L577.9 1141.1 L578.9 1141 L579.9 1140.8 L580.9 1140.7 L581.9 1140.5 L582.9 1140.4 L583.9 1140.2 L584.9 1140.1 L585.9 1140 L586.9 1139.9 L587.9 1139.7 L588.9 1139.6 L589.9 1139.5 L590.9 1139.4 L591.9 1139.3 L594 1139.2 L597.2 1138.8 L600 1138.4 L601.9 1138.1 L603.7 1137.8 L605.5 1137.4 L607.2 1137 L608.9 1136.7 L610.5 1136.3 L612.1 1135.8 L613.7 1135.4 L615.2 1134.9 L616.8 1134.4 L618.2 1133.9 L619.5 1133.5 L620.9 1133 L622.2 1132.5 L623.5 1132 L624.8 1131.4 L626.1 1130.8 L627.3 1130.2 L628.5 1129.5 L629.6 1128.8 L630.7 1128 L631.8 1127.2 L632.8 1126.3 L633.8 1125.3 L634.8 1124.4 L635.7 1123.4 L636.6 1122.3 L637.5 1121.3 L638.4 1120.3 L639.2 1119.2 L640 1118.2 L640.7 1117.1 L641.4 1116.1 L642.1 1115 L642.7 1113.9 L643.3 1112.8 L643.9 1111.6 L644.5 1110.4 L645.1 1109.2 L645.6 1108 L646.2 1106.5 L646.8 1105 L647.3 1103.5 L647.8 1101.9 L648.3 1100.2 L648.7 1098.6 L649.2 1096.9 L649.6 1095.3 L650 1093.6 L650.4 1092 L650.8 1090.4 L651.2 1088.8 L651.5 1087.2 L651.8 1085.6 L652.1 1084 L652.5 1082.4 L652.7 1080.8 L653 1079.2 L653.3 1077.6 L653.6 1076 L653.9 1074.4 L654.1 1072.9 L654.4 1071.4 L654.6 1069.9 L654.9 1068.4 L655.1 1066.9 L655.3 1065.3 L655.6 1063.6 L655.8 1061.9 L656 1060 L656.3 1056.9 L656.7 1053.6 L657 1050.1 L657.3 1046.3 L657.6 1042.5 L657.8 1038.6 L658.1 1034.6 L658.4 1030.6 L658.6 1026.6 L658.9 1022.7 L659.2 1018.5 L659.4 1014.2 L659.6 1009.9 L659.8 1005.5 L660 1001.1 L660.2 996.7 L660.4 992.3 L660.6 987.9 L660.9 983.5 L661.1 979.1 L661.4 974.7 L661.6 970.4 L661.9 966 L662.2 961.7 L662.5 957.3 L662.8 952.9 L663.1 948.6 L663.4 944.2 L663.7 939.9 L664 935.5 L664.3 931.1 L664.7 926.8 L665 922.4 L665.4 918 L665.8 913.6 L666.1 909.3 L666.5 904.9 L666.9 900.5 L667.2 896.2 L667.6 891.8 L668 887.4 L668.3 883 L668.7 878.6 L669.1 874.1 L669.4 869.7 L669.8 865.3 L670.2 860.9 L670.5 856.6 L670.9 852.4 L671.3 848.2 L671.6 844.2 L672 839.9 L672.3 835.3 L672.7 830.6 L673 826.2 L673.4 822.1 L673.7 818.5 L674.1 815.8 L674.5 814 L674.9 813.3 L675.2 813.6 L675.6 814.6 L676 816.1 L676.3 818.1 L676.7 820.4 L677.1 823 L677.5 825.6 L677.8 828.4 L678.2 831.1 L678.5 833.6 L678.9 837.3 L679.3 841.3 L679.6 845.5 L679.9 849.9 L680.2 854.4 L680.4 859 L680.7 863.7 L680.9 868.3 L681.2 872.9 L681.5 877.3 L681.8 881.7 L682.1 886.1 L682.4 890.5 L682.7 894.9 L683 899.3 L683.3 903.7 L683.6 908.1 L683.9 912.4 L684.1 916.7 L684.4 920.9 L684.6 924.7 L684.8 928.5 L685.1 932.2 L685.3 935.9 L685.5 939.6 L685.7 943.2 L685.9 946.8 L686.1 950.3 L686.3 953.8 L686.5 957.3 L686.7 960.3 L686.9 963.3 L687.1 966.3 L687.3 969.2 L687.5 972.1 L687.8 974.9 L688 977.8 L688.2 980.6 L688.5 983.5 L688.7 986.4 L689 989.6 L689.2 993.2 L689.5 997 L689.7 1000.8 L690 1004.6 L690.3 1008 L690.6 1011 L690.9 1013.4 L691.2 1014.9 L691.6 1015.5 L692 1014.9 L692.4 1013.3 L692.8 1010.9 L693.2 1007.9 L693.7 1004.3 L694.1 1000.5 L694.6 996.7 L695.1 992.9 L695.5 989.4 L696 986.4 L696.4 984 L696.8 981.4 L697.2 978.8 L697.6 976.3 L698 973.8 L698.5 971.4 L698.9 969.2 L699.4 967.3 L699.9 965.7 L700.4 964.5 L700.6 964.1 L700.8 963.8 L701 963.5 L701.2 963.2 L701.4 962.9 L701.7 962.7 L701.9 962.6 L702.1 962.4 L702.3 962.4 L702.5 962.4 L702.9 962.6 L703.3 963.1 L703.7 963.8 L704.1 964.6 L704.5 965.7 L704.8 966.8 L705.2 968 L705.6 969.3 L705.9 970.5 L706.2 971.8 L706.7 974.1 L707.1 976.6 L707.4 979.3 L707.7 982.3 L708 985.3 L708.2 988.5 L708.5 991.8 L708.7 995.1 L708.9 998.5 L709.2 1001.8 L709.5 1005.9 L709.8 1010.3 L710.1 1014.8 L710.4 1019.4 L710.7 1024.1 L711 1028.7 L711.3 1033.3 L711.6 1037.8 L711.9 1042.1 L712.3 1046.2 L712.6 1049.4 L713 1052.4 L713.3 1055.4 L713.7 1058.3 L714 1061.2 L714.4 1064 L714.8 1066.8 L715.2 1069.6 L715.6 1072.3 L716 1075 L716.4 1077.4 L716.7 1079.8 L717.1 1082.2 L717.4 1084.6 L717.8 1086.9 L718.2 1089.2 L718.6 1091.5 L719 1093.7 L719.5 1095.9 L720 1098 L720.5 1099.8 L721 1101.7 L721.5 1103.4 L722 1105.2 L722.6 1106.9 L723.2 1108.6 L723.8 1110.3 L724.5 1111.9 L725.2 1113.5 L726 1115 L726.7 1116.4 L727.5 1117.7 L728.3 1119 L729.1 1120.2 L730 1121.5 L730.9 1122.7 L731.8 1123.8 L732.8 1124.9 L733.9 1126 L735 1127 L736.3 1128 L737.6 1129 L739 1129.9 L740.4 1130.8 L742 1131.6 L743.5 1132.3 L745.1 1133.1 L746.7 1133.7 L748.3 1134.4 L750 1135 L750.9 1135.3 L751.9 1135.6 L752.9 1135.8 L753.9 1136 L754.9 1136.2 L755.9 1136.4 L756.9 1136.6 L757.9 1136.8 L758.9 1137 L759.9 1137.1 L760.9 1137.3 L761.9 1137.5 L762.9 1137.7 L763.9 1137.8 L764.9 1138 L765.9 1138.2 L766.9 1138.3 L767.9 1138.5 L768.9 1138.7 L769.9 1138.8 L770.9 1139 L771.9 1139.1 L772.9 1139.2 L773.9 1139.4 L774.9 1139.5 L775.9 1139.6 L776.9 1139.8 L777.9 1139.9 L778.9 1140 L779.9 1140.1 L780.9 1140.2 L781.9 1140.3 L782.9 1140.4 L783.9 1140.5 L784.9 1140.6 L785.9 1140.6 L786.9 1140.7 L787.9 1140.8 L788.9 1140.9 L789.9 1140.9 L790.9 1141 L791.9 1141.1 L792.9 1141.1 L793.9 1141.2 L794.9 1141.3 L795.9 1141.3 L796.9 1141.4 L797.9 1141.4 L798.9 1141.4 L799.9 1141.5 L800.9 1141.5 L801.9 1141.6 L802.9 1141.6 L803.9 1141.6 L804.9 1141.7 L805.9 1141.7 L806.9 1141.7 L807.9 1141.7 L808.9 1141.8 L809.9 1141.8 L810.9 1141.8 L811.9 1141.8 L812.9 1141.8 L813.9 1141.8 L814.9 1141.8 L815.9 1141.8 L816.9 1141.8 L817.9 1141.8 L818.9 1141.8 L819.9 1141.8 L820.9 1141.8 L821.9 1141.8 L822.9 1141.8 L823.9 1141.7 L824.9 1141.7 L825.9 1141.7 L826.9 1141.7 L827.9 1141.6 L828.9 1141.6 L829.9 1141.5 L830.9 1141.5 L831.9 1141.4 L832.9 1141.4 L833.9 1141.3 L834.9 1141.2 L835.9 1141.2 L836.9 1141.1 L837.9 1141 L838.9 1140.9 L839.9 1140.8 L840.9 1140.7 L841.9 1140.6 L842.9 1140.5 L843.9 1140.3 L844.9 1140.2 L845.9 1140 L846.9 1139.8 L847.9 1139.6 L848.9 1139.4 L849.9 1139.2 L850.9 1139 L851.9 1138.7 L852.9 1138.5 L853.9 1138.2 L854.9 1137.8 L855.9 1137.5 L856.9 1137.1 L857.9 1136.7 L858.9 1136.2 L859.9 1135.7 L860.9 1135.1 L861.9 1134.5 L862.9 1133.8 L863.9 1133.1 L864.9 1132.2 L865.9 1131.3 L866.9 1130.2 L867.9 1129 L868.9 1127.7 L869.9 1126.2 L870.9 1124.5 L871.9 1122.5 L872.9 1120.2 L873.9 1117.6 L874.9 1114.5 L875.9 1111 L876.9 1106.8 L877.9 1101.8 L878.9 1095.9 L879.9 1088.8 L880.9 1080.3 L881.9 1070.1 L882.9 1057.9 L883.9 1043.2 L884.9 1026 L885.9 1006.4 L886.9 985.2 L887.9 964.3 L888.9 946.7 L889.9 936 L890.9 935 L891.9 943.9 L892.9 960.3 L893.9 980.9 L894.9 1002.2 L895.9 1022.2 L896.9 1039.9 L897.9 1055.1 L898.9 1067.8 L899.9 1078.4 L900.9 1087.2 L901.9 1094.5 L902.9 1100.6 L903.9 1105.8 L904.9 1110.1 L905.9 1113.8 L906.9 1116.9 L907.9 1119.6 L908.9 1121.9 L909.9 1123.9 L910.9 1125.7 L911.9 1127.3 L912.9 1128.6 L913.9 1129.8 L914.9 1130.9 L915.9 1131.8 L916.9 1132.7 L917.9 1133.5 L918.9 1134.1 L919.9 1134.8 L920.9 1135.3 L921.9 1135.8 L922.9 1136.3 L923.9 1136.7 L924.9 1137.1 L925.9 1137.4 L926.9 1137.7 L927.9 1138 L928.9 1138.2 L929.9 1138.5 L930.9 1138.7 L931.9 1138.8 L932.9 1139 L933.9 1139.2 L934.9 1139.3 L935.9 1139.4 L936.9 1139.5 L937.9 1139.6 L938.9 1139.6 L939.9 1139.7 L940.9 1139.7 L941.9 1139.8 L942.9 1139.8 L943.9 1139.8 L944.9 1139.7 L945.9 1139.7 L946.9 1139.6 L947.9 1139.5 L948.9 1139.4 L949.9 1139.3 L950.9 1139.2 L951.9 1139 L952.9 1138.8 L953.9 1138.6 L954.9 1138.4 L955.9 1138.1 L956.9 1137.8 L957.9 1137.4 L958.9 1137.1 L959.9 1136.7 L960.9 1136.3 L961.9 1136 L962.9 1135.6 L963.9 1135.4 L964.9 1135.1 L965.9 1135 L966.9 1134.9 L967.9 1134.9 L968.9 1134.9 L969.9 1135 L970.9 1135.1 L971.9 1135.3 L972.9 1135.4 L973.9 1135.5 L974.9 1135.6 L975.9 1135.6 L976.9 1135.6 L977.9 1135.6 L978.9 1135.5 L979.9 1135.3 L980.9 1135 L981.9 1134.7 L982.9 1134.3 L983.9 1133.9 L984.9 1133.3 L985.9 1132.7 L986.9 1131.9 L987.9 1131.1 L988.9 1130.1 L989.9 1129 L990.9 1127.8 L991.9 1126.4 L992.9 1125 L993.9 1123.4 L994.9 1121.9 L995.9 1120.3 L996.9 1118.9 L997.9 1117.7 L998.9 1116.9 L999.9 1116.4 L1000.9 1116.4 L1001.9 1116.8 L1002.9 1117.5 L1003.9 1118.5 L1004.9 1119.6 L1005.9 1120.8 L1006.9 1121.9 L1007.9 1122.9 L1008.9 1123.8 L1009.9 1124.5 L1010.9 1125.1 L1011.9 1125.5 L1012.9 1125.7 L1013.9 1125.7 L1014.9 1125.6 L1015.9 1125.3 L1016.9 1124.9 L1017.9 1124.2 L1018.9 1123.4 L1019.9 1122.3 L1020.9 1121.1 L1021.9 1119.6 L1022.9 1117.8 L1023.9 1115.8 L1024.9 1113.5 L1025.9 1111 L1026.9 1108.2 L1027.9 1105.2 L1028.9 1102.3 L1029.9 1099.4 L1030.9 1096.8 L1031.9 1094.8 L1032.9 1093.5 L1033.9 1093 L1034.9 1093.4 L1035.9 1094.6 L1036.9 1096.3 L1037.9 1098.5 L1038.9 1100.8 L1039.9 1103.1 L1040.9 1105.2 L1041.9 1107.2 L1042.9 1108.8 L1043.9 1110.2 L1044.9 1111.4 L1045.9 1112.3 L1046.9 1113 L1047.9 1113.5 L1048.9 1114 L1049.9 1114.4 L1050.9 1114.8 L1051.9 1115.2 L1052.9 1115.7 L1053.9 1116.3 L1054.9 1116.9 L1055.9 1117.6 L1056.9 1118.2 L1057.9 1118.9 L1058.9 1119.5 L1059.9 1120 L1060.9 1120.4 L1061.9 1120.8 L1062.9 1121 L1063.9 1121.1 L1064.9 1121 L1065.9 1120.8 L1066.9 1120.4 L1067.9 1119.9 L1068.9 1119.1 L1069.9 1118.2 L1070.9 1117 L1071.9 1115.6 L1072.9 1113.8 L1073.9 1111.8 L1074.9 1109.4 L1075.9 1106.6 L1076.9 1103.3 L1077.9 1099.5 L1078.9 1095 L1079.9 1089.8 L1080.9 1083.7 L1081.9 1076.8 L1082.9 1069 L1083.9 1060.3 L1084.9 1050.9 L1085.9 1041.2 L1086.9 1031.7 L1087.9 1023.2 L1088.9 1016.8 L1089.9 1013.4 L1090.9 1013.4 L1091.9 1016.9 L1092.9 1023.3 L1093.9 1031.8 L1094.9 1041.4 L1095.9 1051.2 L1096.9 1060.6 L1097.9 1069.3 L1098.9 1077.2 L1099.9 1084.2 L1100.9 1090.3 L1101.9 1095.5 L1102.9 1100.1 L1103.9 1104 L1104.9 1107.4 L1105.9 1110.3 L1106.9 1112.8 L1107.9 1114.9 L1108.9 1116.8 L1109.9 1118.3 L1110.9 1119.7 L1111.9 1120.8 L1112.9 1121.7 L1113.9 1122.5 L1114.9 1123.1 L1115.9 1123.5 L1116.9 1123.8 L1117.9 1124 L1118.9 1124 L1119.9 1123.9 L1120.9 1123.6 L1121.9 1123.2 L1122.9 1122.7 L1123.9 1122 L1124.9 1121.1 L1125.9 1119.9 L1126.9 1118.6 L1127.9 1117 L1128.9 1115.2 L1129.9 1113 L1130.9 1110.5 L1131.9 1107.6 L1132.9 1104.3 L1133.9 1100.6 L1134.9 1096.6 L1135.9 1092.2 L1136.9 1087.7 L1137.9 1083.3 L1138.9 1079.3 L1139.9 1076 L1140.9 1073.8 L1141.9 1073 L1142.9 1073.6 L1143.9 1075.8 L1144.9 1079 L1145.9 1083.1 L1146.9 1087.6 L1147.9 1092.3 L1148.9 1096.9 L1149.9 1101.2 L1150.9 1105.1 L1151.9 1108.7 L1152.9 1111.8 L1153.9 1114.6 L1154.9 1117.1 L1155.9 1119.3 L1156.9 1121.2 L1157.9 1122.8 L1158.9 1124.3 L1159.9 1125.5 L1160.9 1126.6 L1161.9 1127.5 L1162.9 1128.4 L1163.9 1129.1 L1164.9 1129.6 L1165.9 1130.1 L1166.9 1130.6 L1167.9 1130.9 L1168.9 1131.1 L1169.9 1131.3 L1170.9 1131.4 L1171.9 1131.4 L1172.9 1131.3 L1173.9 1131.1 L1174.9 1130.8 L1175.9 1130.5 L1176.9 1130 L1177.9 1129.3 L1178.9 1128.5 L1179.9 1127.5 L1180.9 1126.3 L1181.9 1124.8 L1182.9 1122.9 L1183.9 1120.7 L1184.9 1117.9 L1185.9 1114.6 L1186.9 1110.7 L1187.9 1106.3 L1188.9 1101.7 L1189.9 1097.3 L1190.9 1094 L1191.9 1092.1 L1192.9 1091.8 L1193.9 1092.7 L1194.9 1093.9 L1195.9 1094.8 L1196.9 1095 L1197.9 1094.4 L1198.9 1093.4 L1199.9 1092.4 L1200.9 1091.8 L1201.9 1092.4 L1202.9 1094.2 L1203.9 1097.3 L1204.9 1101.1 L1205.9 1105.2 L1206.9 1109.1 L1207.9 1112.7 L1208.9 1115.8 L1209.9 1118.4 L1210.9 1120.6 L1211.9 1122.4 L1212.9 1123.9 L1213.9 1125.1 L1214.9 1126 L1215.9 1126.8 L1216.9 1127.3 L1217.9 1127.8 L1218.9 1128.1 L1219.9 1128.2 L1220.9 1128.3 L1221.9 1128.3 L1222.9 1128.2 L1223.9 1128 L1224.9 1127.7 L1225.9 1127.3 L1226.9 1126.8 L1227.9 1126.2 L1228.9 1125.6 L1229.9 1124.9 L1230.9 1124 L1231.9 1123 L1232.9 1122 L1233.9 1120.8 L1234.9 1119.5 L1235.9 1118 L1236.9 1116.4 L1237.9 1114.7 L1238.9 1112.9 L1239.9 1110.9 L1240.9 1108.8 L1241.9 1106.5 L1242.9 1104.3 L1243.9 1102 L1244.9 1099.8 L1245.9 1097.7 L1246.9 1095.8 L1247.9 1094.2 L1248.9 1092.9 L1249.9 1092 L1250.9 1091.6 L1251.9 1091.5 L1252.9 1091.8 L1253.9 1092.3 L1254.9 1093 L1255.9 1093.9 L1256.9 1094.8 L1257.9 1095.6 L1258.9 1096.2 L1259.9 1096.7 L1260.9 1096.9 L1261.9 1096.9 L1262.9 1096.6 L1263.9 1095.9 L1264.9 1094.9 L1265.9 1093.5 L1266.9 1091.7 L1267.9 1089.5 L1268.9 1086.8 L1269.9 1083.6 L1270.9 1080 L1271.9 1075.8 L1272.9 1071.1 L1273.9 1066.1 L1274.9 1060.7 L1275.9 1055.1 L1276.9 1049.5 L1277.9 1044.2 L1278.9 1039.6 L1279.9 1036 L1280.9 1033.7 L1281.9 1033 L1282.9 1033.8 L1283.9 1036.1 L1284.9 1039.6 L1285.9 1044 L1286.9 1049 L1287.9 1054.3 L1288.9 1059.4 L1289.9 1064.3 L1290.9 1068.8 L1291.9 1072.8 L1292.9 1076.2 L1293.9 1079 L1294.9 1081.2 L1295.9 1082.7 L1296.9 1083.6 L1297.9 1083.9 L1298.9 1083.5 L1299.9 1082.4 L1300.9 1080.6 L1301.9 1078.1 L1302.9 1074.8 L1303.9 1070.9 L1304.9 1066.3 L1305.9 1061.2 L1306.9 1055.9 L1307.9 1050.9 L1308.9 1046.6 L1309.9 1043.6 L1310.9 1042.4 L1311.9 1043.4 L1312.9 1046.4 L1313.9 1051.1 L1314.9 1057.1 L1315.9 1063.8 L1316.9 1070.7 L1317.9 1077.4 L1318.9 1083.6 L1319.9 1089.4 L1320.9 1094.5 L1321.9 1099.1 L1322.9 1103.1 L1323.9 1106.7 L1324.9 1109.8 L1325.9 1112.5 L1326.9 1114.9 L1327.9 1117 L1328.9 1118.8 L1329.9 1120.5 L1330.9 1121.9 L1331.9 1123.1 L1332.9 1124.2 L1333.9 1125.1 L1334.9 1126 L1335.9 1126.7 L1336.9 1127.3 L1337.9 1127.8 L1338.9 1128.2 L1339.9 1128.5 L1340.9 1128.7 L1341.9 1128.8 L1342.9 1128.9 L1343.9 1128.8 L1344.9 1128.7 L1345.9 1128.5 L1346.9 1128.2 L1347.9 1127.7 L1348.9 1127.2 L1349.9 1126.5 L1350.9 1125.7 L1351.9 1124.8 L1352.9 1123.7 L1353.9 1122.5 L1354.9 1121.3 L1355.9 1120 L1356.9 1118.6 L1357.9 1117.4 L1358.9 1116.4 L1359.9 1115.6 L1360.9 1115.2 L1361.9 1115.2 L1362.9 1115.7 L1363.9 1116.5 L1364.9 1117.6 L1365.9 1119 L1366.9 1120.5 L1367.9 1122 L1368.9 1123.5 L1369.9 1124.9 L1370.9 1126.2 L1371.9 1127.4 L1372.9 1128.5 L1373.9 1129.4 L1374.9 1130.3 L1375.9 1131 L1376.9 1131.6 L1377.9 1132.2 L1378.9 1132.6 L1379.9 1133 L1380.9 1133.3 L1381.9 1133.5 L1382.9 1133.6 L1383.9 1133.7 L1384.9 1133.7 L1385.9 1133.7 L1386.9 1133.5 L1387.9 1133.4 L1388.9 1133.1 L1389.9 1132.8 L1390.9 1132.4 L1391.9 1132 L1392.9 1131.5 L1393.9 1131 L1394.9 1130.4 L1395.9 1129.9 L1396.9 1129.4 L1397.9 1129 L1398.9 1128.6 L1399.9 1128.4 L1400.9 1128.4 L1401.9 1128.5 L1402.9 1128.7 L1403.9 1129.1 L1404.9 1129.7 L1405.9 1130.2 L1406.9 1130.9 L1407.9 1131.5 L1408.9 1132.2 L1409.9 1132.8 L1410.9 1133.3 L1411.9 1133.9 L1412.9 1134.3 L1413.9 1134.7 L1414.9 1135.1 L1415.9 1135.4 L1416.9 1135.7 L1417.9 1135.9 L1418.9 1136.1 L1419.9 1136.3 L1420.9 1136.4 L1421.9 1136.5 L1422.9 1136.5 L1423.9 1136.5 L1424.9 1136.5 L1425.9 1136.4 L1426.9 1136.3 L1427.9 1136.2 L1428.9 1136.1 L1429.9 1135.9 L1430.9 1135.7 L1431.9 1135.4 L1432.9 1135.1 L1433.9 1134.7 L1434.9 1134.3 L1435.9 1133.9 L1436.9 1133.4 L1437.9 1132.8 L1438.9 1132.1 L1439.9 1131.3 L1440.9 1130.3 L1441.9 1129.3 L1442.9 1128 L1443.9 1126.6 L1444.9 1124.8 L1445.9 1122.8 L1446.9 1120.3 L1447.9 1117.4 L1448.9 1114.1 L1449.9 1110.2 L1450.9 1106.1 L1451.9 1101.9 L1452.9 1098.3 L1453.9 1095.9 L1454.9 1095.1 L1455.9 1095.7 L1456.9 1097.3 L1457.9 1099.1 L1458.9 1100.6 L1459.9 1101.6 L1460.9 1102 L1461.9 1101.7 L1462.9 1100.7 L1463.9 1099.2 L1464.9 1097.1 L1465.9 1094.4 L1466.9 1091.3 L1467.9 1087.7 L1468.9 1083.7 L1469.9 1079.4 L1470.9 1075 L1471.9 1070.6 L1472.9 1066.4 L1473.9 1062.8 L1474.9 1059.9 L1475.9 1058.1 L1476.9 1057.4 L1477.9 1058.1 L1478.9 1059.9 L1479.9 1062.8 L1480.9 1066.4 L1481.9 1070.6 L1482.9 1075.1 L1483.9 1079.6 L1484.9 1084 L1485.9 1088.2 L1486.9 1092.1 L1487.9 1095.6 L1488.9 1098.7 L1489.9 1101.4 L1490.9 1103.8 L1491.9 1105.8 L1492.9 1107.4 L1493.9 1108.8 L1494.9 1109.9 L1495.9 1110.7 L1496.9 1111.2 L1497.9 1111.5 L1498.9 1111.7 L1499.9 1111.7 L1500.9 1111.5 L1501.9 1111.4 L1502.9 1111.2 L1503.9 1111 L1504.9 1110.8 L1505.9 1110.7 L1506.9 1110.6 L1507.9 1110.4 L1508.9 1110.1 L1509.9 1109.7 L1510.9 1108.9 L1511.9 1107.8 L1512.9 1106.4 L1513.9 1104.4 L1514.9 1102 L1515.9 1099 L1516.9 1095.7 L1517.9 1092.1 L1518.9 1088.6 L1519.9 1085.5 L1520.9 1083.5 L1521.9 1082.8 L1522.9 1083.8 L1523.9 1086.3 L1524.9 1090 L1525.9 1094.4 L1526.9 1099 L1527.9 1103.6 L1528.9 1107.8 L1529.9 1111.6 L1530.9 1115 L1531.9 1117.9 L1532.9 1120.4 L1533.9 1122.6 L1534.9 1124.5 L1535.9 1126.1 L1536.9 1127.5 L1537.9 1128.8 L1538.9 1129.8 L1539.9 1130.7 L1540.9 1131.5 L1541.9 1132.2 L1542.9 1132.8 L1543.9 1133.3 L1544.9 1133.7 L1545.9 1134.1 L1546.9 1134.4 L1547.9 1134.6 L1548.9 1134.8 L1549.9 1135 L1550.9 1135.1 L1551.9 1135.2 L1552.9 1135.2 L1553.9 1135.2 L1554.9 1135.1 L1555.9 1135 L1556.9 1134.8 L1557.9 1134.6 L1558.9 1134.4 L1559.9 1134.1 L1560.9 1133.7 L1561.9 1133.3 L1562.9 1132.8 L1563.9 1132.2 L1564.9 1131.6 L1565.9 1130.8 L1566.9 1130.1 L1567.9 1129.2 L1568.9 1128.3 L1569.9 1127.3 L1570.9 1126.3 L1571.9 1125.4 L1572.9 1124.5 L1573.9 1123.7 L1574.9 1123 L1575.9 1122.4 L1576.9 1122 L1577.9 1121.7 L1578.9 1121.4 L1579.9 1121.1 L1580.9 1120.8 L1581.9 1120.3 L1582.9 1119.8 L1583.9 1119 L1584.9 1118.1 L1585.9 1116.9 L1586.9 1115.5 L1587.9 1113.9 L1588.9 1112.1 L1589.9 1110.1 L1590.9 1108 L1591.9 1105.9 L1592.9 1103.8 L1593.9 1101.9 L1594.9 1100.4 L1595.9 1099.3 L1596.9 1098.7 L1597.9 1098.8 L1598.9 1099.6 L1599.9 1100.9 L1600.9 1102.7 L1601.9 1104.8 L1602.9 1107.1 L1603.9 1109.5 L1604.9 1111.9 L1605.9 1114.2 L1606.9 1116.3 L1607.9 1118.3 L1608.9 1120.1 L1609.9 1121.7 L1610.9 1123.1 L1611.9 1124.4 L1612.9 1125.5 L1613.9 1126.4 L1614.9 1127.2 L1615.9 1127.9 L1616.9 1128.5 L1617.9 1128.9 L1618.9 1129.3 L1619.9 1129.5 L1620.9 1129.6 L1621.9 1129.7 L1622.9 1129.6 L1623.9 1129.4 L1624.9 1129.2 L1625.9 1128.8 L1626.9 1128.3 L1627.9 1127.7 L1628.9 1126.9 L1629.9 1126 L1630.9 1124.9 L1631.9 1123.7 L1632.9 1122.2 L1633.9 1120.4 L1634.9 1118.3 L1635.9 1115.9 L1636.9 1113.1 L1637.9 1109.8 L1638.9 1105.9 L1639.9 1101.5 L1640.9 1096.3 L1641.9 1090.4 L1642.9 1083.7 L1643.9 1076.3 L1644.9 1068.5 L1645.9 1060.4 L1646.9 1052.9 L1647.9 1046.6 L1648.9 1042.4 L1649.9 1041 L1650.9 1042.6 L1651.9 1046.9 L1652.9 1053.4 L1653.9 1061.1 L1654.9 1069.3 L1655.9 1077.3 L1656.9 1084.9 L1657.9 1091.7 L1658.9 1097.8 L1659.9 1103.1 L1660.9 1107.8 L1661.9 1111.8 L1662.9 1115.3 L1663.9 1118.3 L1664.9 1121 L1665.9 1123.3 L1666.9 1125.3 L1667.9 1127.1 L1668.9 1128.6 L1669.9 1130 L1670.9 1131.2 L1671.9 1132.3 L1672.9 1133.3 L1673.9 1134.1 L1674.9 1134.9 L1675.9 1135.6 L1676.9 1136.2 L1677.9 1136.8 L1678.9 1137.4 L1679.9 1137.8 L1680.9 1138.3 L1681.9 1138.7 L1682.9 1139 L1683.9 1139.4 L1684.9 1139.7 L1685.9 1140 L1686.9 1140.2 L1687.9 1140.5 L1688.9 1140.7 L1689.9 1140.9 L1690.9 1141.1 L1691.9 1141.3 L1692.9 1141.4 L1693.9 1141.6 L1694.9 1141.7 L1695.9 1141.9 L1696.9 1142 L1697.9 1142.1 L1698.9 1142.2 L1699.9 1142.3 L1700.9 1142.3 L1701.9 1142.4 L1702.9 1142.5 L1703.9 1142.5 L1704.9 1142.6 L1705.9 1142.6 L1706.9 1142.6 L1707.9 1142.7 L1708.9 1142.7 L1709.9 1142.7 L1710.9 1142.6 L1711.9 1142.6 L1712.9 1142.6 L1713.9 1142.5 L1714.9 1142.4 L1715.9 1142.3 L1716.9 1142.2 L1717.9 1142.1 L1718.9 1141.9 L1719.9 1141.8 L1720.9 1141.6 L1721.9 1141.3 L1722.9 1141 L1723.9 1140.7 L1724.9 1140.4 L1725.9 1140 L1726.9 1139.6 L1727.9 1139.2 L1728.9 1138.7 L1729.9 1138.3 L1730.9 1137.9 L1731.9 1137.6 L1732.9 1137.4 L1733.9 1137.4 L1734.9 1137.4 L1735.9 1137.6 L1736.9 1137.9 L1737.9 1138.3 L1738.9 1138.7 L1739.9 1139.2 L1740.9 1139.7 L1741.9 1140.2 L1742.9 1140.6 L1743.9 1141.1 L1744.9 1141.5 L1745.9 1141.8 L1746.9 1142.1 L1747.9 1142.4 L1748.9 1142.7 L1749.9 1142.9 L1750.9 1143.1 L1751.9 1143.3 L1752.9 1143.5 L1753.9 1143.6 L1754.9 1143.8 L1755.9 1143.9 L1756.9 1144 L1757.9 1144.1 L1758.9 1144.2 L1759.9 1144.3 L1760.9 1144.4 L1761.9 1144.4 L1762.9 1144.5 L1763.9 1144.5 L1764.9 1144.6 L1765.9 1144.7 L1766.9 1144.7 L1767.9 1144.7 L1768.9 1144.8 L1769.9 1144.8 L1770.9 1144.8 L1771.9 1144.9 L1772.9 1144.9 L1773.9 1144.9 L1774.9 1144.9 L1775.9 1144.9 L1776.9 1144.9 L1777.9 1145 L1778.9 1145 L1779.9 1145 L1780.9 1145 L1781.9 1145 L1782.9 1145 L1783.9 1145 L1784.9 1145 L1785.9 1145 L1786.9 1144.9 L1787.9 1144.9 L1788.9 1144.9 L1789.9 1144.9 L1790.9 1144.9 L1791.9 1144.8 L1792.9 1144.8 L1793.9 1144.7 L1794.9 1144.7 L1795.9 1144.6 L1796.9 1144.6 L1797.9 1144.5 L1798.9 1144.5 L1799.9 1144.4 L1800.9 1144.3 L1801.9 1144.2 L1802.9 1144.1 L1803.9 1143.9 L1804.9 1143.8 L1805.9 1143.6 L1806.9 1143.5 L1807.9 1143.3 L1808.9 1143 L1809.9 1142.8 L1810.9 1142.5 L1811.9 1142.2 L1812.9 1141.9 L1813.9 1141.5 L1814.9 1141.1 L1815.9 1140.7 L1816.9 1140.3 L1817.9 1139.8 L1818.9 1139.4 L1819.9 1139 L1820.9 1138.6 L1821.9 1138.4 L1822.9 1138.2 L1823.9 1138.2 L1824.9 1138.3 L1825.9 1138.5 L1826.9 1138.8 L1827.9 1139.2 L1828.9 1139.6 L1829.9 1140 L1830.9 1140.5 L1831.9 1140.9 L1832.9 1141.3 L1833.9 1141.7 L1834.9 1142.1 L1835.9 1142.4 L1836.9 1142.7 L1837.9 1143 L1838.9 1143.2 L1839.9 1143.5 L1840.9 1143.6 L1841.9 1143.8 L1842.9 1144 L1843.9 1144.1 L1844.9 1144.3 L1845.9 1144.4 L1846.9 1144.5 L1847.9 1144.6 L1848.9 1144.7 L1849.9 1144.7 L1850.9 1144.8 L1851.9 1144.9 L1852.9 1144.9 L1853.9 1145 L1854.9 1145 L1855.9 1145.1 L1856.9 1145.1 L1857.9 1145.1 L1858.9 1145.2 L1859.9 1145.2 L1860.9 1145.2 L1861.9 1145.3 L1862.9 1145.3 L1863.9 1145.3 L1864.9 1145.3 L1865.9 1145.3 L1866.9 1145.3 L1867.9 1145.3 L1868.9 1145.3 L1869.9 1145.4 L1870.9 1145.4 L1871.9 1145.4 L1872.9 1145.4 L1873.9 1145.4 L1874.9 1145.4 L1875.9 1145.4 L1876.9 1145.4 L1877.9 1145.3 L1878.9 1145.3 L1879.9 1145.3 L1880.9 1145.3 L1881.9 1145.3 L1882.9 1145.3 L1883.9 1145.3 L1884.9 1145.3 L1885.9 1145.2 L1886.9 1145.2 L1887.9 1145.2 L1888.9 1145.2 L1889.9 1145.1 L1890.9 1145.1 L1891.9 1145.1 L1892.9 1145 L1893.9 1145 L1894.9 1145 L1895.9 1144.9 L1896.9 1144.9 L1897.9 1144.8 L1898.9 1144.8 L1899.9 1144.7 L1900.9 1144.7 L1901.9 1144.6 L1902.9 1144.5 L1903.9 1144.5 L1904.9 1144.4 L1905.9 1144.3 L1906.9 1144.2 L1907.9 1144.1 L1908.9 1144 L1909.9 1143.9 L1910.9 1143.8 L1911.9 1143.7 L1912.9 1143.5 L1913.9 1143.4 L1914.9 1143.2 L1915.9 1143.1 L1916.9 1142.9 L1917.9 1142.7 L1918.9 1142.4 L1919.9 1142.2 L1920.9 1141.9 L1921.9 1141.7 L1922.9 1141.3 L1923.9 1141 L1924.9 1140.6 L1925.9 1140.2 L1926.9 1139.8 L1927.9 1139.3 L1928.9 1138.7 L1929.9 1138.1 L1930.9 1137.4 L1931.9 1136.7 L1932.9 1135.8 L1933.9 1134.9 L1934.9 1133.9 L1935.9 1132.8 L1936.9 1131.5 L1937.9 1130.2 L1938.9 1128.7 L1939.9 1127.1 L1940.9 1125.5 L1941.9 1123.8 L1942.9 1122.1 L1943.9 1120.4 L1944.9 1118.9 L1945.9 1117.6 L1946.9 1116.7 L1947.9 1116.1 L1948.9 1116 L1949.9 1116.3 L1950.9 1117 L1951.9 1118.1 L1952.9 1119.5 L1953.9 1121 L1954.9 1122.7 L1955.9 1124.4 L1956.9 1126.1 L1957.9 1127.7 L1958.9 1129.2 L1959.9 1130.6 L1960.9 1131.9 L1961.9 1133 L1962.9 1134.1 L1963.9 1135.1 L1964.9 1135.9 L1965.9 1136.7 L1966.9 1137.4 L1967.9 1138.1 L1968.9 1138.7 L1969.9 1139.2 L1970.9 1139.7 L1971.9 1140.2 L1972.9 1140.6 L1973.9 1141 L1974.9 1141.4 L1975.9 1141.7 L1976.9 1142 L1977.9 1142.3 L1978.9 1142.5 L1979.9 1142.8 L1980.9 1143 L1981.9 1143.2 L1982.9 1143.4 L1983.9 1143.5 L1984.9 1143.7 L1985.9 1143.9 L1986.9 1144 L1987.9 1144.1 L1988.9 1144.2 L1989.9 1144.3 L1990.9 1144.5 L1991.9 1144.6 L1992.9 1144.6 L1993.9 1144.7 L1994.9 1144.8 L1995.9 1144.9 L1996.9 1145 L1997.9 1145 L1998.9 1145.1 L1999.9 1145.1 L2000.9 1145.2 L2001.9 1145.3 L2002.9 1145.3 L2003.9 1145.4 L2004.9 1145.4 L2005.9 1145.4 L2006.9 1145.5 L2007.9 1145.5 L2008.9 1145.6 L2009.9 1145.6 L2010.9 1145.6 L2011.9 1145.7 L2012.9 1145.7 L2013.9 1145.7 L2014.9 1145.8 L2015.9 1145.8 L2016.9 1145.8" fill="none" stroke="#FF0000" stroke-width="6.3" stroke-linejoin="round" stroke-linecap="round"/>
<path d="M277.5 1656.5 L278.5 1656.5 L279.5 1656.5 L280.5 1656.5 L281.5 1656.5 L282.5 1656.5 L283.5 1656.5 L284.5 1656.5 L285.5 1656.5 L286.5 1656.5 L287.5 1656.5 L288.5 1656.5 L289.5 1656.5 L290.5 1656.5 L291.5 1656.5 L292.5 1656.5 L293.5 1656.5 L294.5 1656.5 L295.5 1656.5 L296.5 1656.5 L297.5 1656.4 L298.5 1656.4 L299.5 1656.4 L300.5 1656.4 L301.5 1656.4 L302.5 1656.4 L303.5 1656.4 L304.5 1656.4 L305.5 1656.4 L306.5 1656.4 L307.5 1656.4 L308.5 1656.4 L309.5 1656.4 L310.5 1656.4 L311.5 1656.4 L312.5 1656.4 L313.5 1656.4 L314.5 1656.4 L315.5 1656.4 L316.5 1656.4 L317.5 1656.4 L318.5 1656.4 L319.5 1656.4 L320.5 1656.4 L321.5 1656.4 L322.5 1656.4 L323.5 1656.4 L324.5 1656.4 L325.5 1656.4 L326.5 1656.4 L327.5 1656.4 L328.5 1656.4 L329.5 1656.4 L330.5 1656.4 L331.5 1656.3 L332.5 1656.3 L333.5 1656.3 L334.5 1656.3 L335.5 1656.3 L336.5 1656.3 L337.5 1656.3 L338.5 1656.3 L339.5 1656.3 L340.5 1656.3 L341.5 1656.3 L342.5 1656.3 L343.5 1656.3 L344.5 1656.3 L345.5 1656.3 L346.5 1656.3 L347.5 1656.3 L348.5 1656.3 L349.5 1656.3 L350.5 1656.3 L351.5 1656.3 L352.5 1656.3 L353.5 1656.3 L354.5 1656.3 L355.5 1656.3 L356.5 1656.3 L357.5 1656.2 L358.5 1656.2 L359.5 1656.2 L360.5 1656.2 L361.5 1656.2 L362.5 1656.2 L363.5 1656.2 L364.5 1656.2 L365.5 1656.2 L366.5 1656.2 L367.5 1656.2 L368.5 1656.2 L369.5 1656.2 L370.5 1656.2 L371.5 1656.2 L372.5 1656.2 L373.5 1656.2 L374.5 1656.2 L375.5 1656.2 L376.5 1656.2 L377.5 1656.2 L378.5 1656.1 L379.5 1656.1 L380.5 1656.1 L381.5 1656.1 L382.5 1656.1 L383.5 1656.1 L384.5 1656.1 L385.5 1656.1 L386.5 1656.1 L387.5 1656.1 L388.5 1656.1 L389.5 1656.1 L390.5 1656.1 L391.5 1656.1 L392.5 1656.1 L393.5 1656.1 L394.5 1656.1 L395.5 1656 L396.5 1656 L397.5 1656 L398.5 1656 L399.5 1656 L400.5 1656 L401.5 1656 L402.5 1656 L403.5 1656 L404.5 1656 L405.5 1656 L406.5 1656 L407.5 1656 L408.5 1656 L409.5 1656 L410.5 1655.9 L411.5 1655.9 L412.5 1655.9 L413.5 1655.9 L414.5 1655.9 L415.5 1655.9 L416.5 1655.9 L417.5 1655.9 L418.5 1655.9 L419.5 1655.9 L420.5 1655.9 L421.5 1655.9 L422.5 1655.9 L423.5 1655.8 L424.5 1655.8 L425.5 1655.8 L426.5 1655.8 L427.5 1655.8 L428.5 1655.8 L429.5 1655.8 L430.5 1655.8 L431.5 1655.8 L432.5 1655.8 L433.5 1655.8 L434.5 1655.7 L435.5 1655.7 L436.5 1655.7 L437.5 1655.7 L438.5 1655.7 L439.5 1655.7 L440.5 1655.7 L441.5 1655.7 L442.5 1655.7 L443.5 1655.7 L444.5 1655.6 L445.5 1655.6 L446.5 1655.6 L447.5 1655.6 L448.5 1655.6 L449.5 1655.6 L450.5 1655.6 L451.5 1655.6 L452.5 1655.5 L453.5 1655.5 L454.5 1655.5 L455.5 1655.5 L456.5 1655.5 L457.5 1655.5 L458.5 1655.5 L459.5 1655.5 L460.5 1655.4 L461.5 1655.4 L462.5 1655.4 L463.5 1655.4 L464.5 1655.4 L465.5 1655.4 L466.5 1655.4 L467.5 1655.3 L468.5 1655.3 L469.5 1655.3 L470.5 1655.3 L471.5 1655.3 L472.5 1655.3 L473.5 1655.2 L474.5 1655.2 L475.5 1655.2 L476.5 1655.2 L477.5 1655.2 L478.5 1655.2 L479.5 1655.1 L480.5 1655.1 L481.5 1655.1 L482.5 1655.1 L483.5 1655.1 L484.5 1655 L485.5 1655 L486.5 1655 L487.5 1655 L488.5 1655 L489.5 1654.9 L490.5 1654.9 L491.5 1654.9 L492.5 1654.9 L493.5 1654.9 L494.5 1654.8 L495.5 1654.8 L496.5 1654.8 L497.5 1654.8 L498.5 1654.7 L499.5 1654.7 L500.5 1654.7 L501.5 1654.7 L502.5 1654.6 L503.5 1654.6 L504.5 1654.6 L505.5 1654.6 L506.5 1654.5 L507.5 1654.5 L508.5 1654.5 L509.5 1654.4 L510.5 1654.4 L511.5 1654.4 L512.5 1654.3 L513.5 1654.3 L514.5 1654.3 L515.5 1654.2 L516.5 1654.2 L517.5 1654.2 L518.5 1654.1 L519.5 1654.1 L520.5 1654.1 L521.5 1654 L522.5 1654 L523.5 1654 L524.5 1653.9 L525.5 1653.9 L526.5 1653.8 L527.5 1653.8 L528.5 1653.8 L529.5 1653.7 L530.5 1653.7 L531.5 1653.6 L532.5 1653.6 L533.5 1653.5 L534.5 1653.5 L535.5 1653.4 L536.5 1653.4 L537.5 1653.3 L538.5 1653.3 L539.5 1653.2 L540.5 1653.2 L541.5 1653.1 L542.5 1653 L543.5 1653 L544.5 1652.9 L545.5 1652.9 L546.5 1652.8 L547.5 1652.7 L548.5 1652.7 L549.5 1652.6 L550.5 1652.5 L551.5 1652.4 L552.5 1652.4 L553.5 1652.3 L554.5 1652.2 L555.5 1652.1 L556.5 1652 L557.5 1652 L558.5 1651.9 L559.5 1651.8 L560.5 1651.7 L561.5 1651.6 L562.5 1651.6 L563.5 1651.6 L564.5 1651.6 L565.5 1651.6 L566.5 1651.7 L567.5 1651.7 L568.5 1651.8 L569.5 1651.9 L570.5 1651.9 L571.5 1652 L572.5 1652 L573.5 1652 L574.5 1652.1 L575.5 1652.1 L576.5 1652 L577.5 1652 L578.5 1651.9 L579.5 1651.8 L582.6 1651.3 L587.2 1650.6 L591.3 1649.9 L594.9 1649.1 L597.8 1648.4 L600.6 1647.8 L603.5 1647.1 L606.3 1646.3 L609.1 1645.6 L611.7 1644.7 L614.3 1643.8 L616.7 1642.8 L619 1641.7 L621.1 1640.4 L622.7 1639.3 L624.2 1638.1 L625.5 1636.8 L626.8 1635.5 L628.1 1634.1 L629.2 1632.7 L630.3 1631.2 L631.3 1629.6 L632.3 1628 L633.3 1626.4 L634.3 1624.6 L635.2 1622.7 L636 1620.7 L636.7 1618.7 L637.4 1616.7 L638 1614.6 L638.6 1612.4 L639.2 1610.2 L639.7 1607.9 L640.3 1605.5 L641 1602.4 L641.6 1599.2 L642.2 1596 L642.8 1592.6 L643.3 1589.1 L643.8 1585.5 L644.2 1581.9 L644.7 1578.2 L645.1 1574.4 L645.5 1570.6 L646 1565.8 L646.4 1560.8 L646.8 1555.7 L647.1 1550.4 L647.4 1545.1 L647.8 1539.7 L648 1534.3 L648.4 1528.9 L648.7 1523.5 L649 1518.2 L649.3 1512.9 L649.7 1507.6 L650 1502.3 L650.4 1497 L650.7 1491.7 L651.1 1486.4 L651.4 1481.2 L651.8 1476 L652.1 1470.8 L652.5 1465.8 L652.8 1461.3 L653.2 1456.8 L653.5 1452.4 L653.9 1448.1 L654.2 1443.8 L654.6 1439.5 L654.9 1435.2 L655.3 1430.9 L655.6 1426.5 L656 1422.2 L656.3 1417.8 L656.7 1413.3 L657 1408.7 L657.3 1404.2 L657.7 1399.6 L658 1395.2 L658.4 1390.8 L658.7 1386.5 L659.1 1382.4 L659.5 1378.5 L659.8 1375.5 L660.1 1372.5 L660.4 1369.6 L660.7 1366.7 L661.1 1363.8 L661.4 1361.2 L661.8 1358.6 L662.2 1356.3 L662.6 1354.2 L663 1352.4 L663.2 1351.6 L663.5 1351 L663.7 1350.3 L663.9 1349.8 L664.2 1349.3 L664.4 1348.8 L664.7 1348.2 L664.9 1347.7 L665.2 1347.1 L665.5 1346.5 L665.9 1345.6 L666.3 1344.7 L666.7 1343.8 L667.2 1342.8 L667.6 1341.8 L668.1 1340.8 L668.5 1339.7 L669 1338.6 L669.4 1337.5 L669.8 1336.4 L670.3 1334.8 L670.8 1332.8 L671.2 1330.6 L671.7 1328.4 L672.1 1326.2 L672.6 1324.1 L673 1322.3 L673.4 1320.9 L673.8 1319.9 L674.2 1319.6 L674.6 1319.9 L675 1320.7 L675.4 1322 L675.8 1323.6 L676.2 1325.5 L676.5 1327.6 L676.9 1329.8 L677.2 1332.1 L677.5 1334.3 L677.8 1336.4 L678.2 1339.5 L678.5 1342.8 L678.7 1346.3 L678.9 1350 L679.1 1353.8 L679.3 1357.7 L679.4 1361.5 L679.6 1365.4 L679.8 1369.1 L680 1372.7 L680.2 1375.9 L680.4 1379 L680.7 1382 L680.9 1384.9 L681.1 1387.8 L681.3 1390.9 L681.5 1394 L681.8 1397.3 L682 1400.9 L682.2 1404.7 L682.5 1411.8 L682.9 1419.7 L683.2 1428.2 L683.5 1437.3 L683.8 1446.6 L684.2 1456.1 L684.5 1465.6 L684.9 1474.9 L685.3 1483.7 L685.7 1492 L686.1 1498.6 L686.4 1505.2 L686.8 1511.7 L687.2 1518.1 L687.6 1524.3 L688 1530.4 L688.4 1536.4 L688.9 1542.2 L689.4 1547.7 L690 1553.1 L690.4 1557 L690.9 1560.8 L691.3 1564.5 L691.8 1568 L692.3 1571.5 L692.8 1574.9 L693.4 1578.2 L694 1581.5 L694.6 1584.8 L695.3 1588 L695.9 1590.8 L696.6 1593.6 L697.2 1596.3 L697.9 1598.9 L698.6 1601.6 L699.4 1604.2 L700.2 1606.7 L701.1 1609.2 L702 1611.7 L703.1 1614.2 L704.2 1616.6 L705.3 1619.1 L706.4 1621.6 L707.6 1624.1 L708.8 1626.5 L710.2 1628.8 L711.6 1631 L713.3 1633.1 L715.1 1635.1 L717.1 1636.9 L719.8 1638.8 L722.9 1640.5 L726.2 1642.1 L729.8 1643.4 L733.5 1644.7 L737.3 1645.7 L741.1 1646.7 L744.9 1647.6 L748.5 1648.4 L752 1649.1 L755.1 1649.6 L758.6 1650.1 L760.5 1650.2 L761.5 1650.3 L762.5 1650.3 L763.5 1650.4 L764.5 1650.4 L765.5 1650.4 L766.5 1650.4 L767.5 1650.3 L768.5 1650.3 L769.5 1650.3 L770.5 1650.3 L771.5 1650.3 L772.5 1650.3 L773.5 1650.3 L774.5 1650.3 L775.5 1650.3 L776.5 1650.4 L777.5 1650.4 L778.5 1650.5 L779.5 1650.5 L780.5 1650.6 L781.5 1650.6 L782.5 1650.7 L783.5 1650.7 L784.5 1650.8 L785.5 1650.8 L786.5 1650.8 L787.5 1650.9 L788.5 1650.9 L789.5 1650.9 L790.5 1651 L791.5 1651 L792.5 1651 L793.5 1651 L794.5 1651 L795.5 1651 L796.5 1651 L797.5 1651 L798.5 1651 L799.5 1651 L800.5 1651 L801.5 1651 L802.5 1651 L803.5 1651 L804.5 1650.9 L805.5 1650.9 L806.5 1650.9 L807.5 1650.8 L808.5 1650.8 L809.5 1650.7 L810.5 1650.6 L811.5 1650.6 L812.5 1650.5 L813.5 1650.4 L814.5 1650.3 L815.5 1650.2 L816.5 1650.1 L817.5 1650 L818.5 1649.9 L819.5 1649.8 L820.5 1649.6 L821.5 1649.4 L822.5 1649.3 L823.5 1649.1 L824.5 1648.9 L825.5 1648.6 L826.5 1648.4 L827.5 1648.1 L828.5 1647.8 L829.5 1647.5 L830.5 1647.1 L831.5 1646.8 L832.5 1646.3 L833.5 1645.9 L834.5 1645.3 L835.5 1644.8 L836.5 1644.1 L837.5 1643.4 L838.5 1642.6 L839.5 1641.8 L840.5 1640.8 L841.5 1639.7 L842.5 1638.4 L843.5 1637 L844.5 1635.4 L845.5 1633.5 L846.5 1631.3 L847.5 1628.8 L848.5 1625.9 L849.5 1622.5 L850.5 1618.5 L851.5 1613.7 L852.5 1607.9 L853.5 1601 L854.5 1592.6 L855.5 1582.4 L856.5 1570 L857.5 1555 L858.5 1537 L859.5 1516.1 L860.5 1492.9 L861.5 1469.6 L862.5 1449.4 L863.5 1437 L864.5 1435.8 L865.5 1446.2 L866.5 1465.1 L867.5 1488.2 L868.5 1511.6 L869.5 1533.1 L870.5 1551.7 L871.5 1567.3 L872.5 1580.2 L873.5 1590.8 L874.5 1599.5 L875.5 1606.7 L876.5 1612.7 L877.5 1617.7 L878.5 1621.8 L879.5 1625.4 L880.5 1628.4 L881.5 1631 L882.5 1633.2 L883.5 1635.1 L884.5 1636.8 L885.5 1638.2 L886.5 1639.5 L887.5 1640.7 L888.5 1641.7 L889.5 1642.6 L890.5 1643.4 L891.5 1644.1 L892.5 1644.8 L893.5 1645.4 L894.5 1645.9 L895.5 1646.4 L896.5 1646.8 L897.5 1647.2 L898.5 1647.5 L899.5 1647.9 L900.5 1648.2 L901.5 1648.4 L902.5 1648.7 L903.5 1648.9 L904.5 1649.1 L905.5 1649.3 L906.5 1649.5 L907.5 1649.6 L908.5 1649.8 L909.5 1649.9 L910.5 1650 L911.5 1650.1 L912.5 1650.2 L913.5 1650.3 L914.5 1650.4 L915.5 1650.4 L916.5 1650.5 L917.5 1650.5 L918.5 1650.6 L919.5 1650.6 L920.5 1650.6 L921.5 1650.6 L922.5 1650.6 L923.5 1650.6 L924.5 1650.6 L925.5 1650.6 L926.5 1650.5 L927.5 1650.5 L928.5 1650.4 L929.5 1650.4 L930.5 1650.3 L931.5 1650.2 L932.5 1650.1 L933.5 1650 L934.5 1649.8 L935.5 1649.7 L936.5 1649.5 L937.5 1649.3 L938.5 1649.1 L939.5 1648.9 L940.5 1648.7 L941.5 1648.4 L942.5 1648.1 L943.5 1647.7 L944.5 1647.4 L945.5 1646.9 L946.5 1646.5 L947.5 1646 L948.5 1645.4 L949.5 1644.8 L950.5 1644.1 L951.5 1643.3 L952.5 1642.4 L953.5 1641.5 L954.5 1640.5 L955.5 1639.3 L956.5 1638.1 L957.5 1636.8 L958.5 1635.5 L959.5 1634.2 L960.5 1632.8 L961.5 1631.6 L962.5 1630.5 L963.5 1629.6 L964.5 1629 L965.5 1628.8 L966.5 1628.8 L967.5 1629.1 L968.5 1629.7 L969.5 1630.5 L970.5 1631.4 L971.5 1632.3 L972.5 1633.3 L973.5 1634.1 L974.5 1634.9 L975.5 1635.6 L976.5 1636.1 L977.5 1636.5 L978.5 1636.8 L979.5 1636.9 L980.5 1636.9 L981.5 1636.7 L982.5 1636.4 L983.5 1635.9 L984.5 1635.3 L985.5 1634.4 L986.5 1633.4 L987.5 1632.2 L988.5 1630.7 L989.5 1628.9 L990.5 1626.9 L991.5 1624.7 L992.5 1622.1 L993.5 1619.4 L994.5 1616.5 L995.5 1613.6 L996.5 1610.8 L997.5 1608.3 L998.5 1606.4 L999.5 1605.3 L1000.5 1605.1 L1001.5 1605.7 L1002.5 1607.1 L1003.5 1609 L1004.5 1611.3 L1005.5 1613.7 L1006.5 1616.1 L1007.5 1618.3 L1008.5 1620.2 L1009.5 1621.9 L1010.5 1623.4 L1011.5 1624.5 L1012.5 1625.5 L1013.5 1626.3 L1014.5 1627 L1015.5 1627.6 L1016.5 1628.2 L1017.5 1628.7 L1018.5 1629.4 L1019.5 1630 L1020.5 1630.8 L1021.5 1631.6 L1022.5 1632.4 L1023.5 1633.3 L1024.5 1634.2 L1025.5 1635.1 L1026.5 1635.9 L1027.5 1636.8 L1028.5 1637.5 L1029.5 1638.2 L1030.5 1638.8 L1031.5 1639.3 L1032.5 1639.8 L1033.5 1640.2 L1034.5 1640.5 L1035.5 1640.8 L1036.5 1641 L1037.5 1641.1 L1038.5 1641.2 L1039.5 1641.2 L1040.5 1641.1 L1041.5 1641 L1042.5 1640.8 L1043.5 1640.5 L1044.5 1640.2 L1045.5 1639.8 L1046.5 1639.3 L1047.5 1638.7 L1048.5 1638 L1049.5 1637.2 L1050.5 1636.3 L1051.5 1635.3 L1052.5 1634.1 L1053.5 1632.8 L1054.5 1631.3 L1055.5 1629.5 L1056.5 1627.5 L1057.5 1625.1 L1058.5 1622.5 L1059.5 1619.4 L1060.5 1615.8 L1061.5 1611.7 L1062.5 1607 L1063.5 1601.5 L1064.5 1595.1 L1065.5 1587.9 L1066.5 1579.6 L1067.5 1570.5 L1068.5 1560.5 L1069.5 1550.1 L1070.5 1540 L1071.5 1530.9 L1072.5 1523.9 L1073.5 1520.1 L1074.5 1520.1 L1075.5 1523.8 L1076.5 1530.7 L1077.5 1539.6 L1078.5 1549.7 L1079.5 1560 L1080.5 1569.9 L1081.5 1578.9 L1082.5 1587.1 L1083.5 1594.2 L1084.5 1600.4 L1085.5 1605.8 L1086.5 1610.4 L1087.5 1614.4 L1088.5 1617.8 L1089.5 1620.7 L1090.5 1623.2 L1091.5 1625.3 L1092.5 1627.2 L1093.5 1628.7 L1094.5 1630 L1095.5 1631 L1096.5 1631.9 L1097.5 1632.6 L1098.5 1633.1 L1099.5 1633.5 L1100.5 1633.7 L1101.5 1633.7 L1102.5 1633.6 L1103.5 1633.3 L1104.5 1632.8 L1105.5 1632.2 L1106.5 1631.3 L1107.5 1630.2 L1108.5 1628.9 L1109.5 1627.3 L1110.5 1625.4 L1111.5 1623.2 L1112.5 1620.7 L1113.5 1617.8 L1114.5 1614.7 L1115.5 1611.3 L1116.5 1607.8 L1117.5 1604.4 L1118.5 1601.4 L1119.5 1599.1 L1120.5 1597.7 L1121.5 1597.6 L1122.5 1598.6 L1123.5 1600.7 L1124.5 1603.7 L1125.5 1607.1 L1126.5 1610.8 L1127.5 1614.4 L1128.5 1617.9 L1129.5 1621.1 L1130.5 1623.9 L1131.5 1626.5 L1132.5 1628.7 L1133.5 1630.7 L1134.5 1632.4 L1135.5 1633.8 L1136.5 1635.1 L1137.5 1636.1 L1138.5 1637 L1139.5 1637.8 L1140.5 1638.4 L1141.5 1639 L1142.5 1639.4 L1143.5 1639.7 L1144.5 1639.9 L1145.5 1640 L1146.5 1640.1 L1147.5 1640.1 L1148.5 1639.9 L1149.5 1639.7 L1150.5 1639.4 L1151.5 1639.1 L1152.5 1638.6 L1153.5 1638 L1154.5 1637.3 L1155.5 1636.5 L1156.5 1635.6 L1157.5 1634.5 L1158.5 1633.2 L1159.5 1631.8 L1160.5 1630.1 L1161.5 1628.3 L1162.5 1626.3 L1163.5 1624.1 L1164.5 1621.8 L1165.5 1619.4 L1166.5 1616.9 L1167.5 1614.5 L1168.5 1612.3 L1169.5 1610.4 L1170.5 1608.7 L1171.5 1607.4 L1172.5 1606.3 L1173.5 1605.4 L1174.5 1604.5 L1175.5 1603.6 L1176.5 1602.7 L1177.5 1601.8 L1178.5 1601.1 L1179.5 1600.7 L1180.5 1600.9 L1181.5 1601.8 L1182.5 1603.4 L1183.5 1605.7 L1184.5 1608.4 L1185.5 1611.4 L1186.5 1614.5 L1187.5 1617.5 L1188.5 1620.3 L1189.5 1622.9 L1190.5 1625.1 L1191.5 1627.1 L1192.5 1628.8 L1193.5 1630.2 L1194.5 1631.4 L1195.5 1632.5 L1196.5 1633.3 L1197.5 1633.9 L1198.5 1634.4 L1199.5 1634.8 L1200.5 1635 L1201.5 1635.2 L1202.5 1635.2 L1203.5 1635 L1204.5 1634.8 L1205.5 1634.5 L1206.5 1634 L1207.5 1633.4 L1208.5 1632.8 L1209.5 1631.9 L1210.5 1631 L1211.5 1629.9 L1212.5 1628.7 L1213.5 1627.3 L1214.5 1625.8 L1215.5 1624.1 L1216.5 1622.2 L1217.5 1620.3 L1218.5 1618.2 L1219.5 1616 L1220.5 1613.9 L1221.5 1611.7 L1222.5 1609.8 L1223.5 1608.1 L1224.5 1606.6 L1225.5 1605.6 L1226.5 1605.1 L1227.5 1604.9 L1228.5 1605.2 L1229.5 1605.9 L1230.5 1606.8 L1231.5 1607.9 L1232.5 1609.1 L1233.5 1610.2 L1234.5 1611.3 L1235.5 1612.2 L1236.5 1612.9 L1237.5 1613.4 L1238.5 1613.7 L1239.5 1613.6 L1240.5 1613.3 L1241.5 1612.7 L1242.5 1611.8 L1243.5 1610.6 L1244.5 1609 L1245.5 1607.1 L1246.5 1604.8 L1247.5 1602.1 L1248.5 1599 L1249.5 1595.5 L1250.5 1591.5 L1251.5 1587.1 L1252.5 1582.3 L1253.5 1577.2 L1254.5 1571.9 L1255.5 1566.6 L1256.5 1561.4 L1257.5 1556.6 L1258.5 1552.6 L1259.5 1549.7 L1260.5 1548 L1261.5 1547.8 L1262.5 1549 L1263.5 1551.6 L1264.5 1555.4 L1265.5 1560 L1266.5 1565.2 L1267.5 1570.6 L1268.5 1576.2 L1269.5 1581.5 L1270.5 1586.6 L1271.5 1591.3 L1272.5 1595.7 L1273.5 1599.6 L1274.5 1603.1 L1275.5 1606.2 L1276.5 1608.9 L1277.5 1611.3 L1278.5 1613.3 L1279.5 1614.9 L1280.5 1616.3 L1281.5 1617.4 L1282.5 1618.2 L1283.5 1618.6 L1284.5 1618.8 L1285.5 1618.7 L1286.5 1618.2 L1287.5 1617.4 L1288.5 1616.2 L1289.5 1614.6 L1290.5 1612.5 L1291.5 1609.8 L1292.5 1606.4 L1293.5 1602.3 L1294.5 1597.2 L1295.5 1591.2 L1296.5 1584.1 L1297.5 1575.9 L1298.5 1566.7 L1299.5 1557 L1300.5 1547.6 L1301.5 1539.6 L1302.5 1534.4 L1303.5 1532.9 L1304.5 1535.6 L1305.5 1541.9 L1306.5 1550.7 L1307.5 1560.7 L1308.5 1570.8 L1309.5 1580.2 L1310.5 1588.7 L1311.5 1596.1 L1312.5 1602.4 L1313.5 1607.8 L1314.5 1612.3 L1315.5 1616.1 L1316.5 1619.3 L1317.5 1621.9 L1318.5 1624.1 L1319.5 1626 L1320.5 1627.4 L1321.5 1628.6 L1322.5 1629.5 L1323.5 1630.2 L1324.5 1630.6 L1325.5 1630.9 L1326.5 1630.9 L1327.5 1630.8 L1328.5 1630.5 L1329.5 1630 L1330.5 1629.4 L1331.5 1628.7 L1332.5 1627.9 L1333.5 1627.1 L1334.5 1626.3 L1335.5 1625.6 L1336.5 1625.1 L1337.5 1624.9 L1338.5 1625 L1339.5 1625.4 L1340.5 1626.1 L1341.5 1627.1 L1342.5 1628.3 L1343.5 1629.7 L1344.5 1631.1 L1345.5 1632.6 L1346.5 1634 L1347.5 1635.3 L1348.5 1636.6 L1349.5 1637.7 L1350.5 1638.8 L1351.5 1639.7 L1352.5 1640.6 L1353.5 1641.3 L1354.5 1642 L1355.5 1642.6 L1356.5 1643.1 L1357.5 1643.5 L1358.5 1643.9 L1359.5 1644.2 L1360.5 1644.4 L1361.5 1644.6 L1362.5 1644.7 L1363.5 1644.7 L1364.5 1644.7 L1365.5 1644.6 L1366.5 1644.4 L1367.5 1644.2 L1368.5 1643.8 L1369.5 1643.3 L1370.5 1642.8 L1371.5 1642.1 L1372.5 1641.4 L1373.5 1640.6 L1374.5 1639.8 L1375.5 1639.1 L1376.5 1638.6 L1377.5 1638.3 L1378.5 1638.4 L1379.5 1638.8 L1380.5 1639.5 L1381.5 1640.4 L1382.5 1641.3 L1383.5 1642.2 L1384.5 1643.1 L1385.5 1643.8 L1386.5 1644.5 L1387.5 1645.1 L1388.5 1645.6 L1389.5 1646 L1390.5 1646.4 L1391.5 1646.7 L1392.5 1646.9 L1393.5 1647.1 L1394.5 1647.2 L1395.5 1647.3 L1396.5 1647.3 L1397.5 1647.4 L1398.5 1647.3 L1399.5 1647.3 L1400.5 1647.2 L1401.5 1647.1 L1402.5 1647 L1403.5 1646.8 L1404.5 1646.6 L1405.5 1646.4 L1406.5 1646.1 L1407.5 1645.8 L1408.5 1645.5 L1409.5 1645.1 L1410.5 1644.7 L1411.5 1644.2 L1412.5 1643.6 L1413.5 1643 L1414.5 1642.3 L1415.5 1641.5 L1416.5 1640.6 L1417.5 1639.5 L1418.5 1638.4 L1419.5 1637 L1420.5 1635.5 L1421.5 1633.8 L1422.5 1631.8 L1423.5 1629.5 L1424.5 1626.9 L1425.5 1624 L1426.5 1620.7 L1427.5 1617.2 L1428.5 1613.5 L1429.5 1609.9 L1430.5 1606.6 L1431.5 1603.9 L1432.5 1602.1 L1433.5 1601.5 L1434.5 1601.9 L1435.5 1603.3 L1436.5 1605.3 L1437.5 1607.5 L1438.5 1609.7 L1439.5 1611.7 L1440.5 1613.3 L1441.5 1614.4 L1442.5 1615.2 L1443.5 1615.4 L1444.5 1615.2 L1445.5 1614.5 L1446.5 1613.4 L1447.5 1611.8 L1448.5 1609.7 L1449.5 1607.2 L1450.5 1604.2 L1451.5 1600.7 L1452.5 1596.7 L1453.5 1592.4 L1454.5 1587.7 L1455.5 1582.8 L1456.5 1577.9 L1457.5 1573.3 L1458.5 1569.2 L1459.5 1566.1 L1460.5 1564.1 L1461.5 1563.5 L1462.5 1564.3 L1463.5 1566.4 L1464.5 1569.6 L1465.5 1573.5 L1466.5 1577.9 L1467.5 1582.4 L1468.5 1586.8 L1469.5 1591 L1470.5 1594.8 L1471.5 1598.2 L1472.5 1601.2 L1473.5 1603.9 L1474.5 1606.3 L1475.5 1608.5 L1476.5 1610.5 L1477.5 1612.5 L1478.5 1614.3 L1479.5 1616.1 L1480.5 1617.8 L1481.5 1619.5 L1482.5 1621 L1483.5 1622.3 L1484.5 1623.4 L1485.5 1624.3 L1486.5 1625.1 L1487.5 1625.5 L1488.5 1625.8 L1489.5 1625.7 L1490.5 1625.4 L1491.5 1624.9 L1492.5 1624 L1493.5 1622.9 L1494.5 1621.4 L1495.5 1619.6 L1496.5 1617.4 L1497.5 1615 L1498.5 1612.2 L1499.5 1609.3 L1500.5 1606.2 L1501.5 1603.4 L1502.5 1600.9 L1503.5 1599.1 L1504.5 1598.2 L1505.5 1598.3 L1506.5 1599.6 L1507.5 1601.8 L1508.5 1604.7 L1509.5 1608 L1510.5 1611.6 L1511.5 1615.2 L1512.5 1618.6 L1513.5 1621.8 L1514.5 1624.7 L1515.5 1627.3 L1516.5 1629.7 L1517.5 1631.7 L1518.5 1633.6 L1519.5 1635.2 L1520.5 1636.6 L1521.5 1637.8 L1522.5 1638.9 L1523.5 1639.9 L1524.5 1640.7 L1525.5 1641.4 L1526.5 1642.1 L1527.5 1642.6 L1528.5 1643.1 L1529.5 1643.5 L1530.5 1643.9 L1531.5 1644.2 L1532.5 1644.4 L1533.5 1644.6 L1534.5 1644.7 L1535.5 1644.7 L1536.5 1644.7 L1537.5 1644.7 L1538.5 1644.6 L1539.5 1644.4 L1540.5 1644.1 L1541.5 1643.8 L1542.5 1643.3 L1543.5 1642.8 L1544.5 1642.1 L1545.5 1641.4 L1546.5 1640.6 L1547.5 1639.9 L1548.5 1639.1 L1549.5 1638.6 L1550.5 1638.2 L1551.5 1638 L1552.5 1638 L1553.5 1638 L1554.5 1638.1 L1555.5 1638.1 L1556.5 1637.9 L1557.5 1637.6 L1558.5 1637.1 L1559.5 1636.5 L1560.5 1635.7 L1561.5 1634.7 L1562.5 1633.5 L1563.5 1632.2 L1564.5 1630.8 L1565.5 1629.3 L1566.5 1627.8 L1567.5 1626.3 L1568.5 1624.9 L1569.5 1623.4 L1570.5 1621.9 L1571.5 1620.3 L1572.5 1618.5 L1573.5 1616.5 L1574.5 1614.4 L1575.5 1612.2 L1576.5 1609.9 L1577.5 1607.8 L1578.5 1606 L1579.5 1604.7 L1580.5 1604.1 L1581.5 1604.3 L1582.5 1605.3 L1583.5 1607 L1584.5 1609.3 L1585.5 1612 L1586.5 1614.9 L1587.5 1617.9 L1588.5 1620.8 L1589.5 1623.5 L1590.5 1626 L1591.5 1628.2 L1592.5 1630.3 L1593.5 1632.1 L1594.5 1633.7 L1595.5 1635.1 L1596.5 1636.3 L1597.5 1637.3 L1598.5 1638.2 L1599.5 1639 L1600.5 1639.7 L1601.5 1640.2 L1602.5 1640.6 L1603.5 1640.9 L1604.5 1641.1 L1605.5 1641.3 L1606.5 1641.3 L1607.5 1641.3 L1608.5 1641.1 L1609.5 1640.9 L1610.5 1640.6 L1611.5 1640.1 L1612.5 1639.6 L1613.5 1638.9 L1614.5 1638.1 L1615.5 1637.1 L1616.5 1635.9 L1617.5 1634.5 L1618.5 1632.9 L1619.5 1631 L1620.5 1628.7 L1621.5 1626.1 L1622.5 1622.9 L1623.5 1619.2 L1624.5 1614.9 L1625.5 1609.8 L1626.5 1603.8 L1627.5 1596.9 L1628.5 1589.1 L1629.5 1580.5 L1630.5 1571.4 L1631.5 1562.4 L1632.5 1554.5 L1633.5 1548.8 L1634.5 1546.3 L1635.5 1547.5 L1636.5 1552.1 L1637.5 1559.4 L1638.5 1568.3 L1639.5 1577.6 L1640.5 1586.6 L1641.5 1594.9 L1642.5 1602.3 L1643.5 1608.8 L1644.5 1614.4 L1645.5 1619.2 L1646.5 1623.3 L1647.5 1626.9 L1648.5 1629.9 L1649.5 1632.5 L1650.5 1634.8 L1651.5 1636.7 L1652.5 1638.4 L1653.5 1639.9 L1654.5 1641.2 L1655.5 1642.4 L1656.5 1643.4 L1657.5 1644.3 L1658.5 1645.1 L1659.5 1645.9 L1660.5 1646.5 L1661.5 1647.1 L1662.5 1647.7 L1663.5 1648.2 L1664.5 1648.6 L1665.5 1649 L1666.5 1649.4 L1667.5 1649.7 L1668.5 1650 L1669.5 1650.3 L1670.5 1650.6 L1671.5 1650.8 L1672.5 1651.1 L1673.5 1651.3 L1674.5 1651.5 L1675.5 1651.6 L1676.5 1651.8 L1677.5 1652 L1678.5 1652.1 L1679.5 1652.2 L1680.5 1652.3 L1681.5 1652.5 L1682.5 1652.6 L1683.5 1652.6 L1684.5 1652.7 L1685.5 1652.8 L1686.5 1652.9 L1687.5 1652.9 L1688.5 1653 L1689.5 1653 L1690.5 1653.1 L1691.5 1653.1 L1692.5 1653.1 L1693.5 1653.1 L1694.5 1653.1 L1695.5 1653.1 L1696.5 1653.1 L1697.5 1653 L1698.5 1653 L1699.5 1652.9 L1700.5 1652.8 L1701.5 1652.7 L1702.5 1652.6 L1703.5 1652.4 L1704.5 1652.3 L1705.5 1652.1 L1706.5 1651.8 L1707.5 1651.5 L1708.5 1651.2 L1709.5 1650.8 L1710.5 1650.4 L1711.5 1650 L1712.5 1649.5 L1713.5 1648.9 L1714.5 1648.4 L1715.5 1648 L1716.5 1647.6 L1717.5 1647.3 L1718.5 1647.2 L1719.5 1647.3 L1720.5 1647.5 L1721.5 1647.9 L1722.5 1648.4 L1723.5 1649 L1724.5 1649.6 L1725.5 1650.1 L1726.5 1650.6 L1727.5 1651.1 L1728.5 1651.6 L1729.5 1652 L1730.5 1652.3 L1731.5 1652.7 L1732.5 1652.9 L1733.5 1653.2 L1734.5 1653.4 L1735.5 1653.6 L1736.5 1653.8 L1737.5 1653.9 L1738.5 1654.1 L1739.5 1654.2 L1740.5 1654.3 L1741.5 1654.4 L1742.5 1654.5 L1743.5 1654.6 L1744.5 1654.7 L1745.5 1654.7 L1746.5 1654.8 L1747.5 1654.9 L1748.5 1654.9 L1749.5 1655 L1750.5 1655 L1751.5 1655 L1752.5 1655.1 L1753.5 1655.1 L1754.5 1655.1 L1755.5 1655.2 L1756.5 1655.2 L1757.5 1655.2 L1758.5 1655.2 L1759.5 1655.3 L1760.5 1655.3 L1761.5 1655.3 L1762.5 1655.3 L1763.5 1655.3 L1764.5 1655.3 L1765.5 1655.3 L1766.5 1655.3 L1767.5 1655.3 L1768.5 1655.3 L1769.5 1655.3 L1770.5 1655.3 L1771.5 1655.3 L1772.5 1655.3 L1773.5 1655.3 L1774.5 1655.3 L1775.5 1655.3 L1776.5 1655.3 L1777.5 1655.3 L1778.5 1655.2 L1779.5 1655.2 L1780.5 1655.2 L1781.5 1655.1 L1782.5 1655.1 L1783.5 1655 L1784.5 1655 L1785.5 1654.9 L1786.5 1654.8 L1787.5 1654.7 L1788.5 1654.6 L1789.5 1654.5 L1790.5 1654.4 L1791.5 1654.2 L1792.5 1654.1 L1793.5 1653.9 L1794.5 1653.6 L1795.5 1653.4 L1796.5 1653.1 L1797.5 1652.8 L1798.5 1652.5 L1799.5 1652.1 L1800.5 1651.7 L1801.5 1651.2 L1802.5 1650.8 L1803.5 1650.4 L1804.5 1650.1 L1805.5 1649.9 L1806.5 1649.8 L1807.5 1649.8 L1808.5 1650 L1809.5 1650.3 L1810.5 1650.6 L1811.5 1651 L1812.5 1651.5 L1813.5 1651.9 L1814.5 1652.3 L1815.5 1652.7 L1816.5 1653 L1817.5 1653.4 L1818.5 1653.6 L1819.5 1653.9 L1820.5 1654.1 L1821.5 1654.3 L1822.5 1654.5 L1823.5 1654.6 L1824.5 1654.8 L1825.5 1654.9 L1826.5 1655 L1827.5 1655.1 L1828.5 1655.2 L1829.5 1655.2 L1830.5 1655.3 L1831.5 1655.4 L1832.5 1655.4 L1833.5 1655.5 L1834.5 1655.5 L1835.5 1655.6 L1836.5 1655.6 L1837.5 1655.7 L1838.5 1655.7 L1839.5 1655.7 L1840.5 1655.7 L1841.5 1655.8 L1842.5 1655.8 L1843.5 1655.8 L1844.5 1655.8 L1845.5 1655.9 L1846.5 1655.9 L1847.5 1655.9 L1848.5 1655.9 L1849.5 1655.9 L1850.5 1655.9 L1851.5 1655.9 L1852.5 1655.9 L1853.5 1656 L1854.5 1656 L1855.5 1656 L1856.5 1656 L1857.5 1656 L1858.5 1656 L1859.5 1656 L1860.5 1656 L1861.5 1656 L1862.5 1656 L1863.5 1656 L1864.5 1656 L1865.5 1656 L1866.5 1656 L1867.5 1656 L1868.5 1656 L1869.5 1656 L1870.5 1656 L1871.5 1656 L1872.5 1656 L1873.5 1656 L1874.5 1656 L1875.5 1656 L1876.5 1656 L1877.5 1656 L1878.5 1656 L1879.5 1656 L1880.5 1656 L1881.5 1656 L1882.5 1656 L1883.5 1655.9 L1884.5 1655.9 L1885.5 1655.9 L1886.5 1655.9 L1887.5 1655.9 L1888.5 1655.9 L1889.5 1655.9 L1890.5 1655.9 L1891.5 1655.8 L1892.5 1655.8 L1893.5 1655.8 L1894.5 1655.8 L1895.5 1655.8 L1896.5 1655.8 L1897.5 1655.7 L1898.5 1655.7 L1899.5 1655.7 L1900.5 1655.7 L1901.5 1655.6 L1902.5 1655.6 L1903.5 1655.6 L1904.5 1655.5 L1905.5 1655.5 L1906.5 1655.4 L1907.5 1655.4 L1908.5 1655.3 L1909.5 1655.3 L1910.5 1655.2 L1911.5 1655.2 L1912.5 1655.1 L1913.5 1655 L1914.5 1655 L1915.5 1654.9 L1916.5 1654.8 L1917.5 1654.7 L1918.5 1654.6 L1919.5 1654.5 L1920.5 1654.4 L1921.5 1654.2 L1922.5 1654.1 L1923.5 1653.9 L1924.5 1653.8 L1925.5 1653.6 L1926.5 1653.4 L1927.5 1653.1 L1928.5 1652.9 L1929.5 1652.6 L1930.5 1652.2 L1931.5 1651.9 L1932.5 1651.4 L1933.5 1651 L1934.5 1650.4 L1935.5 1649.8 L1936.5 1649.1 L1937.5 1648.3 L1938.5 1647.4 L1939.5 1646.4 L1940.5 1645.1 L1941.5 1643.7 L1942.5 1642.1 L1943.5 1640.3 L1944.5 1638.3 L1945.5 1636 L1946.5 1633.6 L1947.5 1631.2 L1948.5 1628.9 L1949.5 1626.9 L1950.5 1625.6 L1951.5 1625 L1952.5 1625.2 L1953.5 1626.3 L1954.5 1628 L1955.5 1630.1 L1956.5 1632.3 L1957.5 1634.5 L1958.5 1636.5 L1959.5 1638.4 L1960.5 1640 L1961.5 1641.4 L1962.5 1642.6 L1963.5 1643.6 L1964.5 1644.5 L1965.5 1645.4 L1966.5 1646.1 L1967.5 1646.8 L1968.5 1647.5 L1969.5 1648.2 L1970.5 1648.9 L1971.5 1649.5 L1972.5 1650.1 L1973.5 1650.7 L1974.5 1651.2 L1975.5 1651.6 L1976.5 1652 L1977.5 1652.4 L1978.5 1652.7 L1979.5 1653 L1980.5 1653.3 L1981.5 1653.5 L1982.5 1653.8 L1983.5 1654 L1984.5 1654.1 L1985.5 1654.3 L1986.5 1654.4 L1987.5 1654.6 L1988.5 1654.7 L1989.5 1654.8 L1990.5 1654.9 L1991.5 1655 L1992.5 1655.1 L1993.5 1655.2 L1994.5 1655.3 L1995.5 1655.3 L1996.5 1655.4 L1997.5 1655.4 L1998.5 1655.5 L1999.5 1655.6 L2000.5 1655.6 L2001.5 1655.7 L2002.5 1655.7 L2003.5 1655.7 L2004.5 1655.8 L2005.5 1655.8 L2006.5 1655.9 L2007.5 1655.9 L2008.5 1655.9 L2009.5 1655.9 L2010.5 1656 L2011.5 1656 L2012.5 1656 L2013.5 1656 L2014.5 1656.1 L2015.5 1656.1 L2016.5 1656.1 L2017.5 1656.1 L2018.5 1656.2 L2019.5 1656.2 L2020.5 1656.2 L2021.5 1656.2 L2022.5 1656.2 L2023.5 1656.2 L2024.5 1656.3 L2025.5 1656.3 L2026.5 1656.3 L2027.5 1656.3 L2028.5 1656.3" fill="none" stroke="#0000FF" stroke-width="6.3" stroke-linejoin="round" stroke-linecap="round"/>
<path d="M276.7 2065.1 L277.5 2065.2 L279.5 2065.5 L282.3 2065.9 L285.7 2066.3 L289.1 2066.5 L292.2 2066.5 L295.5 2066.1 L298.8 2065.4 L302.1 2064.5 L305.7 2063.6 L309.8 2062.7 L314.4 2062 L325.9 2061.1 L340 2060.6 L355.8 2060.4 L372.3 2060.4 L388.4 2060.5 L403.1 2060.7 L414.9 2061.1 L426.5 2061.7 L437.8 2062.5 L448.8 2063.2 L459.4 2063.7 L469.6 2063.8 L477.4 2063.6 L484.7 2063.1 L491.8 2062.5 L498.9 2061.8 L506.2 2061.2 L514 2060.7 L524.7 2060.2 L536.3 2059.7 L548.3 2059.3 L560.1 2059 L571.1 2058.7 L580.6 2058.5 L585.8 2058.6 L590.6 2058.8 L595.1 2059.1 L599.3 2059.3 L603.3 2059.1 L607.2 2058.5 L610.5 2057.6 L613.7 2056.5 L616.7 2055.2 L619.6 2053.7 L622.3 2051.8 L624.9 2049.6 L627.6 2046.6 L630 2043.2 L632.2 2039.4 L634.2 2035.1 L636.2 2030.4 L638.2 2025.2 L641.5 2014.7 L644.6 2002.2 L647.5 1988.4 L650.3 1973.8 L653.1 1959.3 L656 1945.3 L659.1 1929.6 L662.3 1911.5 L665.4 1893.3 L668.6 1877.4 L671.7 1866.2 L674.6 1862 L677.6 1867.2 L680.5 1880.8 L683.3 1899.7 L686 1920.9 L688.7 1941.6 L691.5 1958.7 L693.5 1970.3 L695.4 1981.7 L697.2 1992.8 L699.2 2003.2 L701.7 2012.6 L704.8 2020.8 L707.2 2025.5 L709.7 2029.7 L712.5 2033.5 L715.4 2036.9 L718.8 2040.1 L722.5 2043 L727.4 2046.1 L733 2048.9 L739 2051.3 L745.3 2053.3 L751.7 2055 L758 2056.3 L764.6 2057.4 L771.5 2058.2 L778.5 2058.6 L785.4 2058.5 L791.9 2057.8 L798 2056.3 L803 2053.7 L807.7 2050 L812.1 2045.7 L816.3 2041.6 L820.4 2038.2 L824.6 2036.3 L827.7 2036.2 L830.7 2037.1 L833.7 2038.4 L836.7 2039.6 L839.6 2040.1 L842.3 2039.4 L847.1 2033.4 L851.6 2022.4 L855.9 2009.2 L859.8 1996.5 L863.4 1986.9 L866.7 1983.2 L868.8 1984.9 L870.7 1989.4 L872.4 1995.5 L874 2002.5 L875.7 2009.4 L877.7 2015.3 L879.6 2020.1 L881.5 2025 L883.5 2029.7 L885.7 2034.2 L888.2 2038.4 L891.1 2042 L894.2 2044.8 L897.7 2047.3 L901.5 2049.4 L905.4 2051.3 L909.3 2052.9 L913.2 2054.4 L916.8 2055.7 L920.4 2056.7 L924 2057.6 L927.7 2058.3 L931.5 2058.7 L935.4 2058.8 L940.4 2058.6 L945.9 2058 L951.5 2057.1 L956.9 2055.9 L962 2054.2 L966.5 2052.2 L969.6 2050 L972.4 2047.3 L974.9 2044.4 L977.2 2041.5 L979.6 2038.8 L982 2036.6 L983.9 2035.4 L985.7 2034.5 L987.4 2033.7 L989.3 2033 L991.1 2032.1 L993.1 2030.9 L996.1 2028.4 L999.4 2025.1 L1002.7 2021.5 L1006.2 2018.2 L1009.6 2015.7 L1013 2014.5 L1015.9 2014.8 L1018.9 2016 L1021.8 2017.9 L1024.8 2020 L1027.8 2021.9 L1030.8 2023.3 L1033.8 2024.3 L1037.1 2025.3 L1040.3 2026.2 L1043.4 2026.8 L1046.2 2026.9 L1048.6 2026.4 L1050.1 2025.6 L1051.3 2024.4 L1052.4 2023 L1053.3 2021.4 L1054.2 2019.6 L1055.2 2017.6 L1056.8 2013.8 L1058.4 2009.3 L1059.9 2004.3 L1061.3 1999 L1062.7 1993.7 L1064.1 1988.7 L1065.4 1983.3 L1066.7 1977 L1067.9 1970.8 L1069.2 1965.4 L1070.6 1961.5 L1072.1 1959.9 L1073.6 1960.8 L1075.3 1963.2 L1077 1966.9 L1078.8 1971.2 L1080.4 1975.7 L1081.8 1979.9 L1083.2 1985.2 L1084.4 1991.1 L1085.3 1997.3 L1086.2 2003.6 L1087.2 2009.7 L1088.5 2015.3 L1089.7 2019.8 L1090.9 2024.3 L1092.2 2028.7 L1093.7 2032.8 L1095.4 2036.5 L1097.4 2039.8 L1099.3 2042.2 L1101.4 2044.7 L1103.6 2046.8 L1105.9 2048.6 L1108.3 2049.7 L1110.7 2050 L1113.8 2048.3 L1117.1 2044.5 L1120.4 2039.6 L1123.8 2034.8 L1127.2 2031 L1130.6 2029.5 L1133.9 2030.8 L1137.1 2034.2 L1140.3 2038.7 L1143.6 2043.2 L1147 2046.9 L1150.6 2048.6 L1154.5 2047.8 L1158.8 2045.3 L1163.1 2041.8 L1167.4 2038.3 L1171.4 2035.5 L1175 2034.4 L1177.1 2034.7 L1179 2035.5 L1180.8 2036.6 L1182.5 2038 L1184.3 2039.5 L1186.1 2041.1 L1188.6 2043.6 L1191.1 2046.8 L1193.7 2050.3 L1196.3 2053.5 L1198.9 2056.1 L1201.6 2057.5 L1203.8 2057.8 L1206.1 2057.5 L1208.4 2056.8 L1210.7 2055.8 L1212.9 2054.5 L1214.9 2053 L1217.1 2050.6 L1219.1 2047.6 L1220.9 2044.1 L1222.6 2040.3 L1224.3 2036.6 L1226 2033.1 L1227.7 2029.4 L1229.3 2025.2 L1230.9 2021.1 L1232.5 2017.3 L1234.3 2014.5 L1236.2 2013.1 L1237.7 2013.1 L1239.3 2013.7 L1240.9 2014.7 L1242.6 2016.1 L1244.3 2017.5 L1246 2018.9 L1248.2 2021.1 L1250.4 2024 L1252.7 2027.1 L1254.9 2029.8 L1257.1 2031.7 L1259.3 2032.2 L1262.3 2029.1 L1265.2 2022.3 L1268.1 2013.6 L1270.9 2004.9 L1273.9 1998.2 L1277 1995.4 L1280.1 1997.6 L1283.4 2003.2 L1286.7 2010.7 L1290.1 2018.2 L1293.5 2024 L1297 2026.4 L1300.7 2024 L1304.5 2017.9 L1308.3 2010 L1312.1 2002.2 L1315.8 1996.2 L1319.2 1994 L1322.4 1996.6 L1325.3 2002.9 L1327.9 2011.3 L1330.7 2020.3 L1333.6 2028.4 L1337 2034 L1339.4 2036.1 L1342 2037.6 L1344.7 2038.7 L1347.4 2039.6 L1350 2040.7 L1352.5 2042 L1354.8 2043.7 L1357 2045.6 L1359.1 2047.6 L1361.2 2049.4 L1363.4 2051 L1365.8 2052.2 L1368.3 2052.9 L1370.9 2053.3 L1373.6 2053.5 L1376.2 2053.4 L1378.9 2053.3 L1381.3 2053 L1383.3 2052.6 L1385.1 2051.8 L1386.9 2051 L1388.7 2050.3 L1390.5 2049.7 L1392.4 2049.5 L1394.6 2049.9 L1396.8 2050.9 L1399.1 2052.1 L1401.3 2053.3 L1403.6 2054.1 L1405.7 2054.4 L1407.6 2054.1 L1409.5 2053.5 L1411.3 2052.6 L1413.2 2051.4 L1415 2050.1 L1416.8 2048.6 L1419.4 2045.7 L1421.9 2041.9 L1424.4 2037.7 L1426.9 2033.6 L1429.6 2030.5 L1432.3 2028.7 L1434.5 2028.7 L1436.7 2029.7 L1439 2031.1 L1441.3 2032.5 L1443.5 2033.4 L1445.6 2033.1 L1449.4 2028 L1452.9 2018.1 L1456.1 2006.1 L1459.1 1994.4 L1461.9 1985.6 L1464.5 1982.1 L1466.4 1983.9 L1468.1 1988.5 L1469.7 1994.9 L1471.3 2002.2 L1472.8 2009.3 L1474.4 2015.3 L1475.7 2019.9 L1477 2024.6 L1478.2 2029.3 L1479.6 2033.5 L1481.2 2037.1 L1483.2 2039.8 L1484.8 2041.1 L1486.6 2042.1 L1488.5 2042.8 L1490.4 2043.2 L1492.4 2043.2 L1494.3 2042.9 L1496.9 2041.2 L1499.6 2037.9 L1502.3 2034 L1505 2030.2 L1507.5 2027.4 L1509.9 2026.4 L1511.9 2027.2 L1513.8 2029.3 L1515.6 2032.1 L1517.4 2035.2 L1519.2 2038.4 L1521 2041.1 L1522.8 2043.6 L1524.5 2046.2 L1526.2 2048.9 L1528 2051.2 L1529.9 2053.2 L1532 2054.4 L1534.1 2054.8 L1536.3 2054.5 L1538.6 2053.9 L1540.9 2053.2 L1543.2 2052.5 L1545.3 2052.2 L1546.9 2052.3 L1548.3 2052.6 L1549.7 2053 L1551.1 2053.3 L1552.6 2053.3 L1554.2 2053 L1558.1 2050.4 L1562.5 2045.6 L1567.3 2039.8 L1572.1 2034.3 L1576.7 2030.2 L1580.8 2028.7 L1583.7 2029.8 L1586.4 2032.5 L1588.9 2036 L1591.3 2039.9 L1593.8 2043.6 L1596.4 2046.4 L1598.6 2048.2 L1600.8 2049.8 L1603 2051.3 L1605.2 2052.6 L1607.4 2053.5 L1609.7 2054 L1611.9 2054.1 L1614.3 2053.9 L1616.6 2053.4 L1618.9 2052.6 L1621 2051.5 L1623 2050 L1625.4 2047.2 L1627.5 2043.4 L1629.3 2039.1 L1630.9 2034.3 L1632.5 2029.2 L1634.1 2024.2 L1636 2016.6 L1637.7 2007.2 L1639.3 1997.4 L1640.9 1988.7 L1642.5 1982.4 L1644.3 1979.9 L1645.8 1981.1 L1647.4 1984.6 L1649.1 1989.6 L1650.7 1995.4 L1652.4 2001.2 L1654 2006.5 L1655.7 2012.2 L1657.2 2018.3 L1658.8 2024.6 L1660.5 2030.7 L1662.5 2036.3 L1665.1 2041 L1667.6 2044.2 L1670.3 2047 L1673.2 2049.5 L1676.3 2051.7 L1679.6 2053.6 L1682.9 2055.3 L1686.3 2056.7 L1689.9 2057.8 L1693.5 2058.6 L1697.3 2059.1 L1701.1 2059.5 L1705 2059.7 L1709.3 2059.5 L1713.7 2058.8 L1718.2 2057.9 L1722.7 2057 L1727.2 2056.4 L1731.7 2056.2 L1736.2 2056.7 L1740.7 2057.6 L1745.1 2058.8 L1749.6 2060.1 L1754 2061.2 L1758.3 2061.9 L1762.2 2062.3 L1766.1 2062.5 L1769.9 2062.6 L1773.6 2062.5 L1777.2 2062.3 L1780.5 2061.9 L1782.9 2061.3 L1785.1 2060.3 L1787.2 2059.3 L1789.3 2058.3 L1791.5 2057.7 L1793.8 2057.5 L1797.1 2058.3 L1800.6 2060 L1804.2 2062.2 L1807.9 2064.6 L1811.9 2066.5 L1816 2067.7 L1821.4 2068 L1827.1 2067.6 L1833.2 2066.7 L1839.3 2065.5 L1845.5 2064.3 L1851.5 2063.3 L1857.6 2062.6 L1864 2062 L1870.4 2061.4 L1876.5 2060.7 L1882.1 2059.9 L1887 2058.8 L1889.6 2058 L1891.9 2057.1 L1894 2056.2 L1896.1 2055.2 L1898.1 2054.1 L1900.3 2053 L1903 2051.3 L1905.8 2049.1 L1908.6 2046.9 L1911.4 2044.8 L1914.2 2043.4 L1917.1 2042.9 L1920.1 2043.7 L1923.1 2045.7 L1926.1 2048.3 L1929.1 2051.1 L1932.4 2053.6 L1935.8 2055.3 L1939.9 2056.2 L1944.3 2056.6 L1948.9 2056.5 L1953.5 2056.4 L1958 2056.3 L1962.4 2056.6 L1966.1 2057.1 L1969.7 2057.8 L1973.2 2058.6 L1976.8 2059.4 L1980.5 2060 L1984.6 2060.6 L1991.5 2061.1 L2000 2061.5 L2008.8 2061.8 L2016.7 2061.9 L2022.3 2062 L2024.5 2062" fill="none" stroke="#000000" stroke-width="6.3" stroke-linejoin="round" stroke-linecap="round"/>
<path d="M276.7 2455.3 L277 2455 L277.8 2454.2 L279 2453.1 L280.4 2451.9 L281.8 2450.8 L283.3 2450 L285.3 2449.2 L287.5 2448.4 L290 2447.7 L292.4 2447.2 L294.7 2447.1 L296.6 2447.4 L297.9 2448.1 L299.1 2449.2 L300.1 2450.6 L301.1 2452 L302.2 2453.4 L303.3 2454.5 L304.5 2455.5 L305.7 2456.4 L306.9 2457.3 L308.2 2458.1 L309.5 2458.7 L310.8 2458.9 L312.1 2458.8 L313.4 2458.5 L314.7 2457.9 L316.1 2457.1 L317.4 2456.3 L318.8 2455.3 L320.9 2453.4 L323.1 2450.8 L325.3 2447.9 L327.6 2445.2 L329.8 2443.1 L332.1 2442 L333.9 2442.1 L335.7 2442.8 L337.5 2444 L339.3 2445.3 L341.2 2446.5 L343.2 2447.4 L345.6 2448.1 L348.2 2448.7 L350.8 2449.2 L353.5 2449.6 L356.1 2449.9 L358.7 2450 L361 2449.9 L363.1 2449.5 L365.3 2449 L367.5 2448.5 L369.7 2448.3 L372 2448.3 L374.9 2449 L378 2450.2 L381.2 2451.7 L384.2 2453.1 L387.2 2454.1 L389.8 2454.5 L391.4 2454.2 L392.9 2453.5 L394.3 2452.7 L395.7 2451.8 L397.1 2451.2 L398.7 2450.9 L400.8 2451.3 L403 2452.3 L405.2 2453.7 L407.5 2455 L409.8 2455.9 L412 2456.2 L414.2 2455.7 L416.3 2454.6 L418.5 2453.2 L420.6 2451.6 L422.9 2450 L425.3 2448.7 L428.4 2447.2 L431.7 2445.4 L435.2 2443.7 L438.6 2442.3 L442 2441.4 L445.2 2441.2 L447.9 2441.9 L450.5 2443.3 L453 2445.1 L455.5 2447 L458.1 2448.8 L460.8 2450 L463.7 2450.8 L466.8 2451.4 L469.9 2451.8 L473 2452 L475.9 2452 L478.5 2451.8 L480.1 2451.4 L481.6 2450.9 L483 2450.2 L484.3 2449.5 L485.8 2448.9 L487.4 2448.3 L490 2447.6 L493 2446.8 L496.2 2446.1 L499.3 2445.6 L502.4 2445.4 L505.1 2445.6 L507.1 2446.3 L509 2447.4 L510.7 2448.8 L512.4 2450.1 L514.2 2451.2 L516.2 2451.8 L518.5 2451.7 L520.8 2451.1 L523.2 2450.2 L525.8 2449.1 L528.6 2448.1 L531.8 2447.4 L538.7 2446.7 L547.2 2446.2 L556.4 2446 L565.6 2446 L573.9 2446.2 L580.6 2446.5 L583.4 2446.8 L585.9 2447.4 L588.1 2448 L590.2 2448.5 L592.1 2448.8 L593.9 2448.7 L595.1 2448.4 L596.1 2447.9 L597 2447.3 L597.9 2446.7 L598.9 2446.1 L600 2445.6 L601.7 2444.9 L603.6 2444.2 L605.6 2443.5 L607.6 2442.9 L609.6 2442.4 L611.6 2442.1 L613.4 2442 L615.1 2442.1 L616.9 2442.3 L618.6 2442.4 L620.3 2442.4 L621.8 2442.1 L623.2 2441.4 L624.5 2440.5 L625.7 2439.5 L626.9 2438.3 L628 2437.1 L629.1 2435.7 L630.2 2434.1 L631.3 2432.4 L632.2 2430.6 L633.2 2428.6 L634 2426.5 L634.9 2424.3 L636 2421.2 L637 2417.8 L638 2414.1 L638.9 2410.4 L639.8 2406.7 L640.7 2403.1 L641.5 2399.7 L642.1 2396.3 L642.8 2392.8 L643.4 2389.5 L644.2 2386.2 L645.1 2383.3 L646 2380.8 L647 2378.1 L648.1 2375.5 L649.2 2373.3 L650.3 2371.8 L651.2 2371.3 L652 2371.8 L652.7 2373.1 L653.5 2374.9 L654.1 2377.2 L654.7 2379.6 L655.3 2381.9 L656.1 2385.9 L656.6 2390.5 L657.1 2395.4 L657.5 2400.7 L657.8 2406.2 L658.2 2411.6 L658.7 2418.2 L659.1 2425.2 L659.4 2432.4 L659.8 2439.7 L660.1 2447 L660.4 2454.1 L660.7 2461.2 L660.9 2468.3 L661.1 2475.3 L661.3 2482.4 L661.5 2489.5 L661.8 2496.6 L662.1 2503.6 L662.5 2510.7 L662.9 2517.8 L663.2 2524.9 L663.6 2531.9 L664 2539 L664.4 2546.1 L664.7 2553.2 L665.1 2560.3 L665.4 2567.4 L665.8 2574.4 L666.2 2581.5 L666.6 2588.7 L667.1 2595.8 L667.5 2603 L668 2610.1 L668.5 2617.1 L669.1 2624 L669.6 2630.2 L670.2 2636.6 L670.8 2642.9 L671.4 2648.9 L672 2654.5 L672.7 2659.4 L673.2 2662.5 L673.6 2665.6 L674.1 2668.6 L674.6 2671.1 L675.1 2672.9 L675.6 2673.5 L676.2 2672.5 L676.9 2669.8 L677.5 2666 L678.1 2661.5 L678.7 2656.7 L679.3 2652.3 L680 2646.1 L680.6 2639.2 L681.2 2632 L681.8 2624.6 L682.3 2617.1 L682.9 2609.9 L683.5 2602.7 L684.1 2595.5 L684.7 2588.3 L685.3 2581.2 L685.9 2574.2 L686.5 2567.3 L687.1 2561.2 L687.7 2555.2 L688.3 2549.2 L688.9 2543.4 L689.5 2537.6 L690.2 2532 L690.8 2527.1 L691.5 2522.2 L692.2 2517.5 L692.9 2512.8 L693.7 2508.2 L694.5 2503.7 L695.3 2499.5 L696.2 2495.3 L697.2 2491.2 L698.2 2487.1 L699.2 2483.3 L700.4 2479.5 L701.5 2476.5 L702.6 2473.5 L703.7 2470.7 L705 2468 L706.3 2465.3 L707.6 2462.6 L708.9 2460 L710.3 2457.2 L711.7 2454.5 L713.2 2452.1 L714.8 2450 L716.4 2448.4 L717.5 2447.7 L718.7 2447.1 L719.9 2446.8 L721.2 2446.5 L722.4 2446.4 L723.6 2446.3 L724.8 2446.4 L725.9 2446.7 L727.1 2447 L728.3 2447.4 L729.5 2447.6 L730.9 2447.7 L733.1 2447.4 L735.5 2446.6 L738 2445.7 L740.6 2444.7 L743.1 2443.9 L745.5 2443.5 L747.5 2443.5 L749.5 2443.6 L751.5 2443.8 L753.4 2444.1 L755.3 2444.5 L757.1 2444.9 L758.6 2445.3 L760 2445.9 L761.4 2446.5 L762.7 2447.1 L764.2 2447.5 L765.8 2447.7 L768.2 2447.5 L770.7 2446.9 L773.4 2446.1 L776.2 2445.2 L779 2444.5 L781.8 2444.2 L784.7 2444.3 L787.7 2444.6 L790.8 2445.2 L793.8 2445.8 L796.9 2446.5 L800 2447 L803.3 2447.6 L806.7 2448.2 L810.1 2448.8 L813.4 2449.3 L816.8 2449.8 L820.1 2450 L823.2 2449.9 L826.3 2449.5 L829.4 2448.9 L832.4 2448.5 L835.3 2448.3 L837.9 2448.7 L840 2449.4 L841.9 2450.2 L843.8 2451.2 L845.6 2452.5 L847.3 2454.2 L849 2456.2 L852.3 2462.7 L855.6 2472.4 L858.6 2483.4 L861.5 2493.6 L864.2 2501.2 L866.7 2504.2 L867.9 2503.6 L869 2501.9 L870.1 2499.5 L871.1 2496.6 L872.2 2493.6 L873.3 2490.8 L874.7 2487.3 L876.1 2483.4 L877.5 2479.3 L878.9 2475.4 L880.5 2471.7 L882.2 2468.6 L883.5 2466.7 L885 2465 L886.4 2463.4 L888 2462.1 L889.5 2460.8 L891.1 2459.7 L892.5 2458.9 L893.9 2458.3 L895.4 2457.8 L896.9 2457.4 L898.4 2456.9 L900 2456.2 L902 2455 L904.1 2453.5 L906.3 2451.9 L908.5 2450.4 L910.8 2449.3 L913.2 2448.6 L916 2448.7 L918.9 2449.4 L921.9 2450.6 L924.9 2451.8 L928 2452.7 L931 2453.1 L934 2452.8 L937.1 2451.9 L940.2 2450.9 L943.2 2449.8 L946.1 2448.9 L948.7 2448.6 L950.4 2448.7 L951.9 2448.9 L953.3 2449.2 L954.7 2449.6 L956.1 2450.1 L957.6 2450.8 L959.6 2452.1 L961.7 2454.1 L963.8 2456.2 L965.9 2458.2 L968 2459.4 L970 2459.7 L972.8 2457.9 L975.6 2454.2 L978.3 2449.2 L981 2443.6 L983.7 2438 L986.4 2433.1 L989 2428.7 L991.5 2423.9 L994 2419.2 L996.6 2414.9 L999.2 2411.3 L1002 2408.7 L1003.8 2407.9 L1005.7 2407.6 L1007.6 2407.7 L1009.5 2407.7 L1011.3 2407.4 L1013.1 2406.5 L1016 2402.6 L1018.7 2396.4 L1021.2 2389.2 L1023.7 2382.5 L1026.1 2377.4 L1028.6 2375.4 L1030.8 2377.3 L1033 2382 L1035.2 2388.2 L1037.4 2394.4 L1039.6 2399.2 L1041.9 2401.2 L1044.1 2399.9 L1046.3 2396.4 L1048.6 2391.7 L1050.9 2387.1 L1053.1 2383.5 L1055.2 2382.1 L1056.8 2382.7 L1058.4 2384.2 L1059.9 2386.5 L1061.4 2389.3 L1062.8 2392.3 L1064.1 2395.4 L1066 2401.3 L1067.5 2408.5 L1068.8 2416.5 L1070 2424.4 L1071.4 2431.7 L1073 2437.5 L1074 2440.2 L1074.9 2442.8 L1075.8 2445.2 L1076.9 2447.3 L1078.1 2448.9 L1079.6 2450 L1081.2 2450.4 L1082.9 2450.2 L1084.8 2449.6 L1086.8 2449 L1088.8 2448.6 L1090.7 2448.6 L1092.9 2449.3 L1095 2450.5 L1097.2 2452 L1099.4 2453.5 L1101.7 2454.7 L1104 2455.3 L1106.5 2455.4 L1109.1 2455.1 L1111.8 2454.5 L1114.5 2453.7 L1117.1 2452.7 L1119.5 2451.7 L1121.6 2450.4 L1123.6 2448.6 L1125.5 2446.7 L1127.5 2445 L1129.4 2443.8 L1131.5 2443.3 L1134.1 2444.1 L1136.9 2446.1 L1139.7 2448.7 L1142.6 2451.5 L1145.5 2453.9 L1148.4 2455.3 L1151 2455.6 L1153.7 2455.2 L1156.4 2454.5 L1159 2453.9 L1161.6 2453.6 L1163.9 2453.9 L1166 2455.2 L1167.8 2457.2 L1169.5 2459.6 L1171.3 2461.8 L1173 2463.5 L1175 2464.2 L1177.6 2463.2 L1180.4 2460.8 L1183.3 2457.4 L1186.3 2453.8 L1189.4 2450.6 L1192.7 2448.6 L1196.2 2447.6 L1200.1 2447.1 L1204 2447 L1208 2447.3 L1211.6 2447.9 L1214.9 2448.6 L1217.1 2449.3 L1219 2450.3 L1220.8 2451.4 L1222.6 2452.6 L1224.3 2453.9 L1226 2455.3 L1227.9 2457.1 L1229.8 2459.1 L1231.7 2461.3 L1233.5 2463.4 L1235.3 2465.1 L1237.1 2466.4 L1238.3 2466.8 L1239.4 2467 L1240.6 2467.1 L1241.7 2467.1 L1242.8 2467.3 L1243.8 2467.7 L1245 2468.8 L1246.2 2470.4 L1247.3 2472.2 L1248.4 2473.8 L1249.4 2474.9 L1250.4 2475.2 L1252.3 2472.9 L1253.9 2467.7 L1255.3 2460.4 L1256.7 2451.7 L1258 2442.3 L1259.3 2433.1 L1261.6 2413.9 L1263.7 2388.9 L1265.7 2362.1 L1267.7 2337.8 L1269.7 2320.1 L1271.7 2313.3 L1273.4 2317.8 L1275.1 2329.6 L1276.7 2346.1 L1278.4 2364.7 L1280 2382.7 L1281.5 2397.6 L1282.3 2407.8 L1282.8 2418.2 L1283.2 2428.3 L1283.9 2437.4 L1285.4 2445.1 L1288.1 2450.8 L1290.2 2453.1 L1292.7 2454.9 L1295.4 2456.3 L1298.2 2457.2 L1301 2457.6 L1303.7 2457.5 L1306.7 2456.4 L1309.6 2454.2 L1312.6 2451.3 L1315.5 2448.4 L1318.5 2445.8 L1321.4 2444.2 L1323.7 2443.9 L1326 2444.1 L1328.2 2444.6 L1330.5 2445 L1332.6 2445 L1334.7 2444.2 L1338 2440.1 L1341 2433 L1343.8 2424.8 L1346.5 2416.9 L1349.1 2411 L1351.6 2408.7 L1353.7 2410.5 L1355.5 2415.1 L1357.3 2421.3 L1359.1 2427.9 L1361.2 2433.7 L1363.6 2437.5 L1365.3 2438.6 L1367.2 2439.2 L1369.1 2439.4 L1371.1 2439.7 L1372.9 2440.1 L1374.6 2441.1 L1376.4 2443 L1378 2445.5 L1379.3 2448.3 L1380.7 2451.4 L1382 2454.5 L1383.5 2457.5 L1385.2 2461.3 L1386.9 2465.7 L1388.7 2470.2 L1390.5 2474.2 L1392.5 2477.1 L1394.6 2478.4 L1396.9 2477.8 L1399.4 2475.6 L1402 2472.5 L1404.7 2468.8 L1407.4 2465.1 L1410.1 2461.9 L1413 2458.5 L1415.9 2454.8 L1418.9 2451 L1421.9 2447.5 L1424.9 2444.7 L1427.9 2442.9 L1430.2 2442.6 L1432.5 2442.9 L1434.9 2443.6 L1437.1 2444.3 L1439.3 2444.6 L1441.2 2444.2 L1443.1 2442.7 L1444.7 2440.5 L1446.1 2437.9 L1447.4 2434.9 L1448.7 2431.7 L1450 2428.7 L1451.6 2424.4 L1453.1 2419.3 L1454.5 2413.9 L1455.9 2409.1 L1457.4 2405.7 L1458.8 2404.3 L1459.9 2404.9 L1461.1 2406.6 L1462.2 2409 L1463.4 2411.9 L1464.5 2414.8 L1465.5 2417.6 L1466.6 2421.2 L1467.4 2425.3 L1468.3 2429.6 L1469.2 2433.7 L1470.4 2437.2 L1472.1 2439.8 L1473.6 2441 L1475.4 2441.9 L1477.2 2442.6 L1479.2 2442.9 L1481.2 2443 L1483.2 2442.9 L1485.7 2442 L1488.3 2440.3 L1490.9 2438.1 L1493.6 2436 L1496.2 2434.5 L1498.8 2434 L1501.4 2434.7 L1503.9 2436.4 L1506.4 2438.6 L1508.9 2441.1 L1511.6 2443.5 L1514.3 2445.5 L1517.5 2447.3 L1521 2448.9 L1524.5 2450.4 L1528 2452 L1531.3 2453.6 L1534.3 2455.3 L1536.4 2457 L1538.3 2459.1 L1540 2461.2 L1541.7 2463.1 L1543.4 2464.5 L1545.3 2465 L1547.5 2464.5 L1549.7 2463 L1552.1 2460.8 L1554.4 2458.5 L1556.6 2456.2 L1558.7 2454.4 L1560.3 2453.4 L1561.7 2452.5 L1563.2 2451.7 L1564.6 2450.9 L1566 2449.9 L1567.5 2448.6 L1569.7 2445.6 L1571.9 2441.5 L1574.1 2437.1 L1576.3 2432.9 L1578.5 2429.9 L1580.8 2428.7 L1583 2429.9 L1585.1 2432.9 L1587.2 2437 L1589.5 2441.2 L1591.8 2444.6 L1594.2 2446.4 L1596.3 2446.5 L1598.5 2446 L1600.7 2445 L1603 2443.7 L1605.3 2442.3 L1607.5 2441.1 L1609.8 2440 L1612 2439 L1614.3 2437.8 L1616.5 2436.6 L1618.7 2435 L1620.8 2433.1 L1623.9 2428.8 L1626.9 2422.8 L1629.9 2416.2 L1632.7 2410.2 L1635.3 2405.9 L1637.6 2404.3 L1639.2 2405.3 L1640.7 2407.8 L1642 2411.3 L1643.1 2415.5 L1644.2 2419.9 L1645.2 2424.2 L1646.3 2430.8 L1647 2438.5 L1647.5 2446.7 L1648 2454.9 L1648.6 2462.3 L1649.6 2468.6 L1650.4 2472 L1651.1 2475.4 L1651.9 2478.5 L1652.9 2481.2 L1654 2483.1 L1655.4 2484.1 L1657 2483.7 L1658.8 2482.1 L1660.7 2479.7 L1662.8 2477.3 L1665.1 2475.1 L1667.4 2473.9 L1670.1 2473.9 L1673.1 2474.7 L1676.2 2476 L1679.4 2477.2 L1682.4 2477.9 L1685.1 2477.5 L1688 2475.1 L1690.6 2471.1 L1692.9 2466.2 L1695.2 2461.1 L1697.7 2456.5 L1700.6 2453.1 L1703.3 2451.1 L1706.2 2449.3 L1709.2 2447.9 L1712.2 2446.9 L1715.3 2446.3 L1718.4 2446.4 L1722.1 2447.9 L1725.8 2450.9 L1729.6 2454.6 L1733.4 2458.2 L1737.1 2460.9 L1740.6 2461.9 L1743.7 2460.8 L1746.7 2458.3 L1749.6 2455 L1752.5 2451.7 L1755.4 2448.9 L1758.3 2447.3 L1760.5 2447.2 L1762.8 2447.7 L1765 2448.5 L1767.3 2449.4 L1769.4 2450 L1771.6 2450 L1773.9 2449.3 L1776.2 2448.1 L1778.4 2446.5 L1780.6 2444.8 L1782.8 2442.9 L1784.9 2441.1 L1787.2 2438.8 L1789.4 2436.1 L1791.5 2433.3 L1793.7 2430.7 L1795.9 2428.8 L1798.2 2427.8 L1800.4 2428 L1802.6 2429.1 L1804.9 2430.6 L1807.2 2432.2 L1809.4 2433.6 L1811.5 2434.4 L1813 2434.5 L1814.5 2434.4 L1815.9 2434.2 L1817.4 2433.8 L1818.8 2433.5 L1820.4 2433.1 L1822.5 2432.5 L1824.7 2431.6 L1826.9 2430.6 L1829.2 2429.8 L1831.5 2429.4 L1833.7 2429.5 L1836.4 2430.5 L1839.1 2432.3 L1841.8 2434.5 L1844.4 2437 L1847 2439.6 L1849.3 2442 L1851.2 2444.3 L1852.9 2446.9 L1854.5 2449.6 L1856.1 2452 L1857.8 2453.7 L1859.5 2454.4 L1861.4 2453.7 L1863.2 2451.6 L1865.2 2448.9 L1867.2 2446.2 L1869.2 2444 L1871.4 2442.9 L1873.8 2443.3 L1876.3 2444.7 L1878.9 2446.8 L1881.6 2448.9 L1884.3 2450.7 L1887 2451.7 L1889.6 2452 L1892.3 2452 L1895.1 2451.6 L1897.7 2451 L1900.2 2450 L1902.5 2448.6 L1904.8 2445.9 L1906.8 2442 L1908.4 2437.6 L1910 2433.2 L1911.6 2429.3 L1913.6 2426.4 L1915 2425.1 L1916.4 2424 L1917.9 2423 L1919.4 2422.4 L1920.9 2422 L1922.5 2422 L1924.9 2422.9 L1927.5 2424.9 L1930.2 2427.5 L1932.9 2430.3 L1935.5 2433.1 L1938 2435.3 L1939.9 2436.7 L1941.8 2437.9 L1943.6 2439 L1945.5 2440.2 L1947.3 2441.4 L1949.1 2442.9 L1951.3 2445.3 L1953.5 2448.3 L1955.6 2451.5 L1957.8 2454.3 L1960 2456.5 L1962.4 2457.5 L1964.9 2456.8 L1967.5 2454.7 L1970.2 2451.9 L1972.9 2449.1 L1975.5 2447 L1978 2446.4 L1980.6 2447.9 L1983 2451.1 L1985.3 2455.2 L1987.7 2459.4 L1990.1 2462.6 L1992.6 2464.2 L1994.8 2463.9 L1997.1 2462.6 L1999.4 2460.7 L2001.8 2458.6 L2004.2 2456.7 L2006.8 2455.3 L2010 2454.5 L2013.8 2453.9 L2017.7 2453.5 L2021.1 2453.2 L2023.6 2453.1 L2024.5 2453.1" fill="none" stroke="#000000" stroke-width="6.3" stroke-linejoin="round" stroke-linecap="round"/>
<path d="M285.5 2867.5 L286.5 2867.5 L287.5 2867.5 L288.5 2867.5 L289.5 2867.5 L290.5 2867.5 L291.5 2867.5 L292.5 2867.5 L293.5 2867.5 L294.5 2867.5 L295.5 2867.5 L296.5 2867.5 L297.5 2867.5 L298.5 2867.5 L299.5 2867.5 L300.5 2867.5 L301.5 2867.5 L302.5 2867.5 L303.5 2867.5 L304.5 2867.5 L305.5 2867.5 L306.5 2867.5 L307.5 2867.5 L308.5 2867.5 L309.5 2867.5 L310.5 2867.5 L311.5 2867.5 L312.5 2867.5 L313.5 2867.5 L314.5 2867.5 L315.5 2867.5 L316.5 2867.5 L317.5 2867.5 L318.5 2867.5 L319.5 2867.5 L320.5 2867.5 L321.5 2867.5 L322.5 2867.5 L323.5 2867.5 L324.5 2867.5 L325.5 2867.5 L326.5 2867.5 L327.5 2867.5 L328.5 2867.5 L329.5 2867.5 L330.5 2867.5 L331.5 2867.5 L332.5 2867.5 L333.5 2867.5 L334.5 2867.5 L335.5 2867.5 L336.5 2867.5 L337.5 2867.5 L338.5 2867.5 L339.5 2867.5 L340.5 2867.5 L341.5 2867.5 L342.5 2867.5 L343.5 2867.5 L344.5 2867.5 L345.5 2867.5 L346.5 2867.5 L347.5 2867.6 L348.5 2867.6 L349.5 2867.6 L350.5 2867.6 L351.5 2867.6 L352.5 2867.6 L353.5 2867.6 L354.5 2867.6 L355.5 2867.6 L356.5 2867.6 L357.5 2867.6 L358.5 2867.6 L359.5 2867.6 L360.5 2867.6 L361.5 2867.6 L362.5 2867.6 L363.5 2867.6 L364.5 2867.6 L365.5 2867.6 L366.5 2867.6 L367.5 2867.6 L368.5 2867.6 L369.5 2867.6 L370.5 2867.6 L371.5 2867.6 L372.5 2867.6 L373.5 2867.6 L374.5 2867.6 L375.5 2867.6 L376.5 2867.6 L377.5 2867.6 L378.5 2867.6 L379.5 2867.6 L380.5 2867.6 L381.5 2867.6 L382.5 2867.6 L383.5 2867.6 L384.5 2867.6 L385.5 2867.6 L386.5 2867.6 L387.5 2867.6 L388.5 2867.6 L389.5 2867.6 L390.5 2867.6 L391.5 2867.6 L392.5 2867.6 L393.5 2867.6 L394.5 2867.6 L395.5 2867.6 L396.5 2867.6 L397.5 2867.6 L398.5 2867.6 L399.5 2867.6 L400.5 2867.6 L401.5 2867.6 L402.5 2867.6 L403.5 2867.6 L404.5 2867.6 L405.5 2867.6 L406.5 2867.6 L407.5 2867.6 L408.5 2867.6 L409.5 2867.6 L410.5 2867.6 L411.5 2867.6 L412.5 2867.6 L413.5 2867.6 L414.5 2867.6 L415.5 2867.6 L416.5 2867.6 L417.5 2867.6 L418.5 2867.6 L419.5 2867.6 L420.5 2867.6 L421.5 2867.6 L422.5 2867.6 L423.5 2867.6 L424.5 2867.6 L425.5 2867.6 L426.5 2867.6 L427.5 2867.6 L428.5 2867.6 L429.5 2867.6 L430.5 2867.6 L431.5 2867.6 L432.5 2867.6 L433.5 2867.6 L434.5 2867.6 L435.5 2867.6 L436.5 2867.6 L437.5 2867.6 L438.5 2867.6 L439.5 2867.6 L440.5 2867.6 L441.5 2867.6 L442.5 2867.6 L443.5 2867.6 L444.5 2867.6 L445.5 2867.6 L446.5 2867.6 L447.5 2867.6 L448.5 2867.6 L449.5 2867.6 L450.5 2867.6 L451.5 2867.6 L452.5 2867.6 L453.5 2867.6 L454.5 2867.6 L455.5 2867.6 L456.5 2867.6 L457.5 2867.6 L458.5 2867.6 L459.5 2867.6 L460.5 2867.6 L461.5 2867.6 L462.5 2867.6 L463.5 2867.6 L464.5 2867.6 L465.5 2867.6 L466.5 2867.6 L467.5 2867.6 L468.5 2867.6 L469.5 2867.6 L470.5 2867.6 L471.5 2867.6 L472.5 2867.6 L473.5 2867.6 L474.5 2867.6 L475.5 2867.6 L476.5 2867.6 L477.5 2867.6 L478.5 2867.6 L479.5 2867.6 L480.5 2867.6 L481.5 2867.6 L482.5 2867.6 L483.5 2867.6 L484.5 2867.6 L485.5 2867.6 L486.5 2867.6 L487.5 2867.6 L488.5 2867.6 L489.5 2867.6 L490.5 2867.6 L491.5 2867.6 L492.5 2867.6 L493.5 2867.6 L494.5 2867.6 L495.5 2867.6 L496.5 2867.6 L497.5 2867.6 L498.5 2867.6 L499.5 2867.6 L500.5 2867.6 L501.5 2867.6 L502.5 2867.6 L503.5 2867.6 L504.5 2867.6 L505.5 2867.6 L506.5 2867.7 L507.5 2867.7 L508.5 2867.7 L509.5 2867.7 L510.5 2867.7 L511.5 2867.7 L512.5 2867.7 L513.5 2867.7 L514.5 2867.7 L515.5 2867.7 L516.5 2867.7 L517.5 2867.7 L518.5 2867.7 L519.5 2867.7 L520.5 2867.7 L521.5 2867.7 L522.5 2867.7 L523.5 2867.7 L524.5 2867.7 L525.5 2867.7 L526.5 2867.7 L527.5 2867.7 L528.5 2867.7 L529.5 2867.7 L530.5 2867.7 L531.5 2867.7 L532.5 2867.7 L533.5 2867.7 L534.5 2867.7 L535.5 2867.7 L536.5 2867.7 L537.5 2867.7 L538.5 2867.7 L539.5 2867.7 L540.5 2867.7 L541.5 2867.7 L542.5 2867.7 L543.5 2867.7 L544.5 2867.7 L545.5 2867.7 L546.5 2867.7 L547.5 2867.7 L548.5 2867.7 L549.5 2867.7 L550.5 2867.7 L551.5 2867.7 L552.5 2867.7 L553.5 2867.7 L554.5 2867.7 L555.5 2867.7 L556.5 2867.7 L557.5 2867.7 L558.5 2867.7 L559.5 2867.7 L560.5 2867.7 L561.5 2867.7 L562.5 2867.7 L563.5 2867.7 L564.5 2867.7 L565.5 2867.7 L566.5 2867.7 L567.5 2867.7 L568.5 2867.7 L569.5 2867.7 L570.5 2867.7 L571.5 2867.7 L572.5 2867.7 L573.5 2867.7 L574.5 2867.7 L575.5 2867.7 L576.5 2867.7 L577.5 2867.7 L578.5 2867.7 L579.5 2867.7 L580.5 2867.7 L581.5 2867.7 L582.5 2867.7 L583.5 2867.7 L584.5 2867.7 L585.5 2867.7 L586.5 2867.7 L587.5 2867.7 L588.5 2867.7 L589.5 2867.7 L590.5 2867.7 L591.5 2867.7 L592.5 2867.7 L593.5 2867.6 L594.5 2867.6 L595.5 2867.6 L596.5 2867.6 L597.5 2867.6 L598.5 2867.6 L599.5 2867.6 L600.5 2867.6 L601.5 2867.6 L602.5 2867.6 L603.5 2867.6 L604.5 2867.6 L605.5 2867.6 L606.5 2867.6 L607.5 2867.6 L608.5 2867.6 L609.5 2867.6 L610.5 2867.6 L611.5 2867.6 L612.5 2867.5 L613.5 2867.5 L614.5 2867.5 L615.5 2867.4 L616.5 2867.4 L617.5 2867.3 L618.5 2867.2 L619.5 2867.1 L622.1 2866.7 L623.7 2866.4 L625.3 2866.1 L626.9 2865.8 L628.5 2865.5 L630 2865.1 L631.4 2864.7 L632.9 2864.2 L634.3 2863.6 L635.6 2863 L636.9 2862.3 L638.1 2861.5 L639.3 2860.7 L640.4 2859.7 L641.5 2858.8 L642.6 2857.7 L643.6 2856.6 L644.6 2855.5 L645.5 2854.3 L646.4 2853.1 L647.2 2851.9 L648 2850.6 L648.7 2849.2 L649.4 2847.8 L650 2846.4 L650.6 2844.9 L651.1 2843.3 L651.7 2841.8 L652.1 2840.3 L652.6 2838.7 L653.1 2837.2 L653.6 2835.6 L654 2834.1 L654.4 2832.5 L654.8 2831 L655.2 2829.4 L655.6 2827.8 L655.9 2826.2 L656.2 2824.5 L656.5 2822.8 L656.8 2821 L657.1 2818.7 L657.4 2816.4 L657.6 2814 L657.8 2811.5 L658 2808.9 L658.2 2806.4 L658.4 2803.8 L658.6 2801.1 L658.8 2798.5 L659 2795.9 L659.3 2793 L659.5 2790.1 L659.8 2787.2 L660.1 2784.2 L660.4 2781.2 L660.7 2778.2 L661 2775.2 L661.3 2772.2 L661.6 2769.3 L661.9 2766.4 L662.2 2763.6 L662.5 2760.7 L662.7 2757.8 L663 2754.9 L663.3 2752 L663.6 2749.3 L663.9 2746.6 L664.2 2744.1 L664.6 2741.8 L664.9 2739.8 L665.1 2738.7 L665.3 2737.6 L665.5 2736.5 L665.7 2735.4 L665.9 2734.4 L666.2 2733.5 L666.4 2732.8 L666.6 2732.2 L666.9 2731.8 L667.1 2731.7 L667.4 2731.9 L667.7 2732.3 L668 2733 L668.3 2733.9 L668.6 2734.9 L669 2736.1 L669.3 2737.4 L669.6 2738.7 L669.8 2740 L670.1 2741.3 L670.5 2743.7 L670.8 2746.5 L671.1 2749.5 L671.3 2752.7 L671.5 2756 L671.6 2759.5 L671.8 2763.1 L671.9 2766.7 L672.1 2770.3 L672.3 2773.8 L672.5 2777.9 L672.8 2782.2 L673 2786.6 L673.2 2791 L673.5 2795.5 L673.7 2800 L673.9 2804.5 L674.1 2809 L674.3 2813.5 L674.5 2818 L674.7 2822.4 L674.8 2826.9 L675 2831.3 L675.2 2835.7 L675.3 2840.1 L675.4 2844.6 L675.6 2849 L675.7 2853.4 L675.9 2857.9 L676 2862.3 L676.1 2866.7 L676.3 2871.1 L676.4 2875.6 L676.5 2880 L676.7 2884.4 L676.8 2888.8 L676.9 2893.2 L677.1 2897.7 L677.2 2902.1 L677.4 2906.5 L677.6 2910.9 L677.8 2915.4 L678 2919.8 L678.2 2924.2 L678.4 2928.7 L678.6 2933.1 L678.9 2937.5 L679.1 2941.9 L679.3 2946.4 L679.6 2950.8 L679.9 2955.3 L680.1 2959.8 L680.4 2964.3 L680.7 2968.9 L681 2973.5 L681.3 2978 L681.6 2982.4 L681.9 2986.7 L682.3 2990.9 L682.6 2995 L682.9 2998.2 L683.2 3001.3 L683.5 3004.3 L683.8 3007.2 L684.1 3010.1 L684.4 3013 L684.7 3015.8 L685 3018.7 L685.2 3021.6 L685.5 3024.5 L685.7 3027.5 L686 3030.7 L686.2 3033.9 L686.4 3037.1 L686.6 3040.3 L686.8 3043.4 L687 3046.4 L687.2 3049.2 L687.5 3051.8 L687.8 3054 L688 3055.2 L688.2 3056.4 L688.4 3057.6 L688.6 3058.8 L688.9 3059.9 L689.1 3060.9 L689.3 3061.7 L689.6 3062.4 L689.8 3062.8 L690 3062.9 L690.3 3062.6 L690.6 3061.8 L690.9 3060.6 L691.2 3059 L691.5 3057.2 L691.8 3055.2 L692.1 3053 L692.4 3050.8 L692.7 3048.6 L692.9 3046.6 L693.2 3043.5 L693.5 3040.3 L693.8 3036.8 L694 3033.1 L694.2 3029.3 L694.4 3025.5 L694.5 3021.6 L694.7 3017.6 L694.9 3013.7 L695.1 3009.8 L695.3 3005.5 L695.5 3001.1 L695.7 2996.7 L695.9 2992.2 L696.1 2987.7 L696.3 2983.1 L696.6 2978.6 L696.8 2974.2 L697 2969.8 L697.3 2965.5 L697.5 2961.6 L697.8 2957.7 L698 2953.9 L698.3 2950 L698.6 2946.2 L698.8 2942.5 L699.2 2938.9 L699.5 2935.3 L699.9 2931.9 L700.3 2928.6 L700.6 2926.1 L701 2923.8 L701.4 2921.4 L701.7 2919.2 L702.2 2917 L702.6 2914.8 L703 2912.7 L703.6 2910.6 L704.1 2908.6 L704.7 2906.5 L705.3 2904.6 L705.9 2902.7 L706.5 2900.8 L707.1 2899 L707.8 2897.1 L708.5 2895.4 L709.3 2893.6 L710.2 2891.9 L711.1 2890.3 L712.1 2888.8 L713.2 2887.4 L714.3 2886 L715.5 2884.7 L716.7 2883.4 L718 2882.2 L719.4 2881 L720.8 2879.9 L722.3 2878.8 L723.8 2877.9 L725.4 2877 L727.3 2876.1 L729.2 2875.4 L731.2 2874.7 L733.2 2874.2 L735.4 2873.7 L737.6 2873.3 L739.9 2872.9 L742.3 2872.6 L744.9 2872.3 L747.5 2871.9 L752.3 2871.4 L758.2 2870.9 L764.9 2870.6 L771.9 2870.3 L778.9 2870.1 L780.5 2870 L781.5 2870 L782.5 2869.9 L783.5 2869.9 L784.5 2869.8 L785.5 2869.8 L786.5 2869.7 L787.5 2869.6 L788.5 2869.6 L789.5 2869.5 L790.5 2869.4 L791.5 2869.4 L792.5 2869.3 L793.5 2869.3 L794.5 2869.2 L795.5 2869.2 L796.5 2869.2 L797.5 2869.2 L798.5 2869.2 L799.5 2869.2 L800.5 2869.2 L801.5 2869.2 L802.5 2869.2 L803.5 2869.2 L804.5 2869.2 L805.5 2869.2 L806.5 2869.2 L807.5 2869.2 L808.5 2869.3 L809.5 2869.3 L810.5 2869.3 L811.5 2869.3 L812.5 2869.3 L813.5 2869.4 L814.5 2869.4 L815.5 2869.4 L816.5 2869.5 L817.5 2869.5 L818.5 2869.5 L819.5 2869.6 L820.5 2869.6 L821.5 2869.7 L822.5 2869.7 L823.5 2869.8 L824.5 2869.8 L825.5 2869.9 L826.5 2870 L827.5 2870.1 L828.5 2870.1 L829.5 2870.2 L830.5 2870.3 L831.5 2870.4 L832.5 2870.5 L833.5 2870.6 L834.5 2870.7 L835.5 2870.9 L836.5 2871 L837.5 2871.2 L838.5 2871.3 L839.5 2871.5 L840.5 2871.7 L841.5 2871.9 L842.5 2872.1 L843.5 2872.4 L844.5 2872.6 L845.5 2872.9 L846.5 2873.2 L847.5 2873.6 L848.5 2873.9 L849.5 2874.3 L850.5 2874.8 L851.5 2875.3 L852.5 2875.9 L853.5 2876.5 L854.5 2877.2 L855.5 2878 L856.5 2878.8 L857.5 2879.8 L858.5 2880.9 L859.5 2882.2 L860.5 2883.6 L861.5 2885.2 L862.5 2887.1 L863.5 2889.3 L864.5 2891.8 L865.5 2894.7 L866.5 2898 L867.5 2901.9 L868.5 2906.4 L869.5 2911.6 L870.5 2917.5 L871.5 2924.1 L872.5 2931.2 L873.5 2938.7 L874.5 2946 L875.5 2952.5 L876.5 2957.2 L877.5 2959.5 L878.5 2959 L879.5 2955.7 L880.5 2950.2 L881.5 2943.3 L882.5 2935.9 L883.5 2928.4 L884.5 2921.4 L885.5 2915.1 L886.5 2909.4 L887.5 2904.5 L888.5 2900.2 L889.5 2896.5 L890.5 2893.3 L891.5 2890.6 L892.5 2888.2 L893.5 2886.1 L894.5 2884.3 L895.5 2882.7 L896.5 2881.4 L897.5 2880.1 L898.5 2879.1 L899.5 2878.1 L900.5 2877.2 L901.5 2876.5 L902.5 2875.8 L903.5 2875.2 L904.5 2874.6 L905.5 2874.1 L906.5 2873.7 L907.5 2873.2 L908.5 2872.8 L909.5 2872.5 L910.5 2872.2 L911.5 2871.9 L912.5 2871.6 L913.5 2871.3 L914.5 2871.1 L915.5 2870.9 L916.5 2870.7 L917.5 2870.5 L918.5 2870.3 L919.5 2870.1 L920.5 2869.9 L921.5 2869.8 L922.5 2869.6 L923.5 2869.5 L924.5 2869.4 L925.5 2869.2 L926.5 2869.1 L927.5 2869 L928.5 2868.9 L929.5 2868.8 L930.5 2868.7 L931.5 2868.6 L932.5 2868.5 L933.5 2868.4 L934.5 2868.3 L935.5 2868.2 L936.5 2868.1 L937.5 2868 L938.5 2867.9 L939.5 2867.8 L940.5 2867.7 L941.5 2867.6 L942.5 2867.5 L943.5 2867.4 L944.5 2867.3 L945.5 2867.1 L946.5 2867 L947.5 2866.9 L948.5 2866.7 L949.5 2866.6 L950.5 2866.4 L951.5 2866.2 L952.5 2866 L953.5 2865.8 L954.5 2865.5 L955.5 2865.2 L956.5 2864.9 L957.5 2864.5 L958.5 2864 L959.5 2863.5 L960.5 2863 L961.5 2862.4 L962.5 2861.8 L963.5 2861.3 L964.5 2860.9 L965.5 2860.8 L966.5 2860.9 L967.5 2861.2 L968.5 2861.6 L969.5 2862 L970.5 2862.4 L971.5 2862.8 L972.5 2863.2 L973.5 2863.4 L974.5 2863.7 L975.5 2863.8 L976.5 2864 L977.5 2864 L978.5 2864.1 L979.5 2864.1 L980.5 2864.1 L981.5 2864.1 L982.5 2864 L983.5 2863.9 L984.5 2863.8 L985.5 2863.7 L986.5 2863.6 L987.5 2863.4 L988.5 2863.3 L989.5 2863.1 L990.5 2862.9 L991.5 2862.7 L992.5 2862.4 L993.5 2862.1 L994.5 2861.8 L995.5 2861.5 L996.5 2861.1 L997.5 2860.7 L998.5 2860.3 L999.5 2859.8 L1000.5 2859.2 L1001.5 2858.7 L1002.5 2858 L1003.5 2857.3 L1004.5 2856.5 L1005.5 2855.6 L1006.5 2854.7 L1007.5 2853.6 L1008.5 2852.5 L1009.5 2851.2 L1010.5 2849.9 L1011.5 2848.5 L1012.5 2847 L1013.5 2845.4 L1014.5 2843.9 L1015.5 2842.4 L1016.5 2841 L1017.5 2839.7 L1018.5 2838.8 L1019.5 2838 L1020.5 2837.7 L1021.5 2837.6 L1022.5 2837.8 L1023.5 2838.3 L1024.5 2839 L1025.5 2839.7 L1026.5 2840.4 L1027.5 2841 L1028.5 2841.5 L1029.5 2841.7 L1030.5 2841.6 L1031.5 2841.1 L1032.5 2840.2 L1033.5 2839 L1034.5 2837.5 L1035.5 2836 L1036.5 2834.8 L1037.5 2834.5 L1038.5 2835.2 L1039.5 2837 L1040.5 2839.4 L1041.5 2842.1 L1042.5 2844.6 L1043.5 2846.9 L1044.5 2848.8 L1045.5 2850.4 L1046.5 2851.7 L1047.5 2852.7 L1048.5 2853.6 L1049.5 2854.2 L1050.5 2854.7 L1051.5 2855 L1052.5 2855.2 L1053.5 2855.3 L1054.5 2855.3 L1055.5 2855.3 L1056.5 2855.1 L1057.5 2854.8 L1058.5 2854.5 L1059.5 2854 L1060.5 2853.4 L1061.5 2852.8 L1062.5 2852 L1063.5 2851 L1064.5 2849.9 L1065.5 2848.7 L1066.5 2847.2 L1067.5 2845.4 L1068.5 2843.4 L1069.5 2841.1 L1070.5 2838.4 L1071.5 2835.2 L1072.5 2831.5 L1073.5 2827.3 L1074.5 2822.5 L1075.5 2816.9 L1076.5 2810.8 L1077.5 2804.1 L1078.5 2797.2 L1079.5 2790.5 L1080.5 2784.5 L1081.5 2780.1 L1082.5 2777.8 L1083.5 2778.1 L1084.5 2780.9 L1085.5 2785.7 L1086.5 2791.9 L1087.5 2798.8 L1088.5 2805.7 L1089.5 2812.3 L1090.5 2818.4 L1091.5 2823.8 L1092.5 2828.6 L1093.5 2832.8 L1094.5 2836.4 L1095.5 2839.5 L1096.5 2842.2 L1097.5 2844.6 L1098.5 2846.6 L1099.5 2848.3 L1100.5 2849.8 L1101.5 2851.1 L1102.5 2852.3 L1103.5 2853.3 L1104.5 2854.1 L1105.5 2854.9 L1106.5 2855.5 L1107.5 2856.1 L1108.5 2856.5 L1109.5 2856.9 L1110.5 2857.2 L1111.5 2857.4 L1112.5 2857.6 L1113.5 2857.7 L1114.5 2857.7 L1115.5 2857.6 L1116.5 2857.5 L1117.5 2857.2 L1118.5 2856.9 L1119.5 2856.4 L1120.5 2855.9 L1121.5 2855.2 L1122.5 2854.3 L1123.5 2853.4 L1124.5 2852.2 L1125.5 2851 L1126.5 2849.8 L1127.5 2848.6 L1128.5 2847.6 L1129.5 2846.8 L1130.5 2846.5 L1131.5 2846.7 L1132.5 2847.3 L1133.5 2848.4 L1134.5 2849.7 L1135.5 2851.2 L1136.5 2852.7 L1137.5 2854.2 L1138.5 2855.6 L1139.5 2856.8 L1140.5 2857.9 L1141.5 2858.9 L1142.5 2859.8 L1143.5 2860.6 L1144.5 2861.3 L1145.5 2861.9 L1146.5 2862.4 L1147.5 2862.9 L1148.5 2863.4 L1149.5 2863.8 L1150.5 2864.2 L1151.5 2864.6 L1152.5 2865 L1153.5 2865.3 L1154.5 2865.7 L1155.5 2866 L1156.5 2866.4 L1157.5 2866.7 L1158.5 2867.1 L1159.5 2867.5 L1160.5 2867.9 L1161.5 2868.4 L1162.5 2868.9 L1163.5 2869.5 L1164.5 2870.1 L1165.5 2870.9 L1166.5 2871.7 L1167.5 2872.7 L1168.5 2873.8 L1169.5 2875.1 L1170.5 2876.6 L1171.5 2878.3 L1172.5 2880.1 L1173.5 2882 L1174.5 2883.8 L1175.5 2885.3 L1176.5 2886.2 L1177.5 2886.2 L1178.5 2885.4 L1179.5 2883.8 L1180.5 2881.5 L1181.5 2878.8 L1182.5 2875.9 L1183.5 2873 L1184.5 2870.1 L1185.5 2867.4 L1186.5 2865.1 L1187.5 2863.4 L1188.5 2862.4 L1189.5 2862.2 L1190.5 2862.5 L1191.5 2863.1 L1192.5 2863.7 L1193.5 2864.4 L1194.5 2864.9 L1195.5 2865.4 L1196.5 2865.7 L1197.5 2866 L1198.5 2866.2 L1199.5 2866.4 L1200.5 2866.5 L1201.5 2866.6 L1202.5 2866.7 L1203.5 2866.8 L1204.5 2866.8 L1205.5 2866.9 L1206.5 2866.9 L1207.5 2866.9 L1208.5 2866.9 L1209.5 2866.9 L1210.5 2866.9 L1211.5 2866.8 L1212.5 2866.7 L1213.5 2866.7 L1214.5 2866.5 L1215.5 2866.4 L1216.5 2866.2 L1217.5 2865.9 L1218.5 2865.7 L1219.5 2865.4 L1220.5 2865.1 L1221.5 2864.9 L1222.5 2864.8 L1223.5 2865 L1224.5 2865.6 L1225.5 2866.4 L1226.5 2867.5 L1227.5 2868.7 L1228.5 2870 L1229.5 2871.2 L1230.5 2872.1 L1231.5 2872.9 L1232.5 2873.4 L1233.5 2873.6 L1234.5 2873.4 L1235.5 2872.9 L1236.5 2872.1 L1237.5 2871 L1238.5 2869.7 L1239.5 2868.3 L1240.5 2867 L1241.5 2865.8 L1242.5 2864.9 L1243.5 2864.3 L1244.5 2864.2 L1245.5 2864.5 L1246.5 2865.4 L1247.5 2866.7 L1248.5 2868.5 L1249.5 2870.6 L1250.5 2872.8 L1251.5 2874.5 L1252.5 2875.2 L1253.5 2873.9 L1254.5 2870.4 L1255.5 2864.6 L1256.5 2857.1 L1257.5 2848.6 L1258.5 2839.4 L1259.5 2829.7 L1260.5 2819.5 L1261.5 2808.8 L1262.5 2797.6 L1263.5 2786 L1264.5 2774.3 L1265.5 2763.3 L1266.5 2753.8 L1267.5 2746.9 L1268.5 2743.7 L1269.5 2744.4 L1270.5 2748.9 L1271.5 2756.4 L1272.5 2765.7 L1273.5 2775.9 L1274.5 2786.1 L1275.5 2795.7 L1276.5 2804.4 L1277.5 2812.3 L1278.5 2819.1 L1279.5 2825.2 L1280.5 2830.4 L1281.5 2835 L1282.5 2838.9 L1283.5 2842.4 L1284.5 2845.5 L1285.5 2848.3 L1286.5 2850.7 L1287.5 2852.9 L1288.5 2854.9 L1289.5 2856.8 L1290.5 2858.5 L1291.5 2860.1 L1292.5 2861.7 L1293.5 2863.1 L1294.5 2864.5 L1295.5 2865.9 L1296.5 2867.3 L1297.5 2868.7 L1298.5 2870 L1299.5 2871.3 L1300.5 2872.7 L1301.5 2874 L1302.5 2875.3 L1303.5 2876.5 L1304.5 2877.6 L1305.5 2878.7 L1306.5 2879.6 L1307.5 2880.3 L1308.5 2880.8 L1309.5 2881.1 L1310.5 2881.1 L1311.5 2880.9 L1312.5 2880.4 L1313.5 2879.8 L1314.5 2878.9 L1315.5 2878 L1316.5 2876.9 L1317.5 2875.7 L1318.5 2874.5 L1319.5 2873.3 L1320.5 2872 L1321.5 2870.8 L1322.5 2869.5 L1323.5 2868.2 L1324.5 2867 L1325.5 2865.7 L1326.5 2864.3 L1327.5 2863 L1328.5 2861.6 L1329.5 2860.2 L1330.5 2858.6 L1331.5 2857 L1332.5 2855.3 L1333.5 2853.5 L1334.5 2851.5 L1335.5 2849.4 L1336.5 2847.1 L1337.5 2844.7 L1338.5 2842.2 L1339.5 2839.7 L1340.5 2837.1 L1341.5 2834.7 L1342.5 2832.5 L1343.5 2830.6 L1344.5 2829.2 L1345.5 2828.4 L1346.5 2828.3 L1347.5 2828.8 L1348.5 2829.9 L1349.5 2831.6 L1350.5 2833.6 L1351.5 2835.9 L1352.5 2838.3 L1353.5 2840.7 L1354.5 2843 L1355.5 2845.3 L1356.5 2847.4 L1357.5 2849.3 L1358.5 2851.1 L1359.5 2852.8 L1360.5 2854.3 L1361.5 2855.7 L1362.5 2857 L1363.5 2858.2 L1364.5 2859.3 L1365.5 2860.4 L1366.5 2861.4 L1367.5 2862.3 L1368.5 2863.3 L1369.5 2864.2 L1370.5 2865.2 L1371.5 2866.2 L1372.5 2867.3 L1373.5 2868.5 L1374.5 2869.8 L1375.5 2871.2 L1376.5 2872.9 L1377.5 2874.8 L1378.5 2877.1 L1379.5 2879.7 L1380.5 2882.8 L1381.5 2886.3 L1382.5 2890.1 L1383.5 2893.8 L1384.5 2896.9 L1385.5 2898.7 L1386.5 2898.8 L1387.5 2897.2 L1388.5 2894.4 L1389.5 2890.9 L1390.5 2887.4 L1391.5 2884.2 L1392.5 2881.4 L1393.5 2879 L1394.5 2877.1 L1395.5 2875.4 L1396.5 2874.1 L1397.5 2873 L1398.5 2872.1 L1399.5 2871.3 L1400.5 2870.7 L1401.5 2870.1 L1402.5 2869.7 L1403.5 2869.3 L1404.5 2868.9 L1405.5 2868.6 L1406.5 2868.4 L1407.5 2868.1 L1408.5 2867.9 L1409.5 2867.8 L1410.5 2867.6 L1411.5 2867.4 L1412.5 2867.3 L1413.5 2867.2 L1414.5 2867 L1415.5 2866.9 L1416.5 2866.8 L1417.5 2866.7 L1418.5 2866.6 L1419.5 2866.5 L1420.5 2866.4 L1421.5 2866.3 L1422.5 2866.2 L1423.5 2866.1 L1424.5 2866 L1425.5 2865.8 L1426.5 2865.7 L1427.5 2865.6 L1428.5 2865.5 L1429.5 2865.3 L1430.5 2865.2 L1431.5 2865 L1432.5 2864.8 L1433.5 2864.6 L1434.5 2864.4 L1435.5 2864.2 L1436.5 2863.9 L1437.5 2863.6 L1438.5 2863.3 L1439.5 2863 L1440.5 2862.6 L1441.5 2862.2 L1442.5 2861.7 L1443.5 2861.1 L1444.5 2860.5 L1445.5 2859.8 L1446.5 2859 L1447.5 2858.1 L1448.5 2857 L1449.5 2855.8 L1450.5 2854.5 L1451.5 2852.9 L1452.5 2851 L1453.5 2849 L1454.5 2846.6 L1455.5 2844 L1456.5 2841.1 L1457.5 2838 L1458.5 2834.9 L1459.5 2831.9 L1460.5 2829.4 L1461.5 2827.6 L1462.5 2826.8 L1463.5 2827.4 L1464.5 2829.3 L1465.5 2832.4 L1466.5 2836.5 L1467.5 2841.1 L1468.5 2846 L1469.5 2850.9 L1470.5 2855.6 L1471.5 2860 L1472.5 2864 L1473.5 2867.4 L1474.5 2870.1 L1475.5 2872.1 L1476.5 2873.3 L1477.5 2873.8 L1478.5 2873.6 L1479.5 2872.8 L1480.5 2871.5 L1481.5 2869.8 L1482.5 2867.8 L1483.5 2865.6 L1484.5 2863.4 L1485.5 2861.1 L1486.5 2858.9 L1487.5 2856.8 L1488.5 2854.9 L1489.5 2853.2 L1490.5 2852 L1491.5 2851.2 L1492.5 2850.8 L1493.5 2851 L1494.5 2851.5 L1495.5 2852.3 L1496.5 2853.3 L1497.5 2854.5 L1498.5 2855.7 L1499.5 2856.9 L1500.5 2858.1 L1501.5 2859.3 L1502.5 2860.4 L1503.5 2861.4 L1504.5 2862.4 L1505.5 2863.4 L1506.5 2864.3 L1507.5 2865.2 L1508.5 2866.1 L1509.5 2867.1 L1510.5 2868 L1511.5 2869.1 L1512.5 2870.1 L1513.5 2871.1 L1514.5 2872 L1515.5 2872.7 L1516.5 2873 L1517.5 2873 L1518.5 2872.8 L1519.5 2872.3 L1520.5 2871.9 L1521.5 2871.4 L1522.5 2871 L1523.5 2870.8 L1524.5 2870.5 L1525.5 2870.4 L1526.5 2870.3 L1527.5 2870.3 L1528.5 2870.4 L1529.5 2870.4 L1530.5 2870.5 L1531.5 2870.7 L1532.5 2870.9 L1533.5 2871.1 L1534.5 2871.4 L1535.5 2871.7 L1536.5 2872 L1537.5 2872.4 L1538.5 2872.9 L1539.5 2873.4 L1540.5 2873.9 L1541.5 2874.5 L1542.5 2875.2 L1543.5 2876 L1544.5 2876.9 L1545.5 2877.9 L1546.5 2879 L1547.5 2880.1 L1548.5 2881.4 L1549.5 2882.8 L1550.5 2884.2 L1551.5 2885.6 L1552.5 2887 L1553.5 2888.2 L1554.5 2889.2 L1555.5 2889.8 L1556.5 2890.1 L1557.5 2889.9 L1558.5 2889.4 L1559.5 2888.5 L1560.5 2887.3 L1561.5 2886 L1562.5 2884.5 L1563.5 2883.1 L1564.5 2881.6 L1565.5 2880.2 L1566.5 2878.9 L1567.5 2877.7 L1568.5 2876.6 L1569.5 2875.5 L1570.5 2874.6 L1571.5 2873.7 L1572.5 2872.8 L1573.5 2871.9 L1574.5 2871.1 L1575.5 2870.2 L1576.5 2869.3 L1577.5 2868.3 L1578.5 2867.3 L1579.5 2866.2 L1580.5 2864.9 L1581.5 2863.6 L1582.5 2862.4 L1583.5 2861.4 L1584.5 2860.9 L1585.5 2860.9 L1586.5 2861.4 L1587.5 2862.2 L1588.5 2863.1 L1589.5 2864 L1590.5 2864.9 L1591.5 2865.5 L1592.5 2866.1 L1593.5 2866.6 L1594.5 2866.9 L1595.5 2867.3 L1596.5 2867.5 L1597.5 2867.7 L1598.5 2867.9 L1599.5 2868 L1600.5 2868.1 L1601.5 2868.3 L1602.5 2868.3 L1603.5 2868.4 L1604.5 2868.5 L1605.5 2868.6 L1606.5 2868.7 L1607.5 2868.7 L1608.5 2868.8 L1609.5 2868.9 L1610.5 2868.9 L1611.5 2869 L1612.5 2869.1 L1613.5 2869.1 L1614.5 2869.2 L1615.5 2869.3 L1616.5 2869.4 L1617.5 2869.5 L1618.5 2869.6 L1619.5 2869.8 L1620.5 2869.9 L1621.5 2870.1 L1622.5 2870.3 L1623.5 2870.5 L1624.5 2870.7 L1625.5 2871 L1626.5 2871.3 L1627.5 2871.6 L1628.5 2872 L1629.5 2872.5 L1630.5 2873 L1631.5 2873.7 L1632.5 2874.5 L1633.5 2875.4 L1634.5 2876.5 L1635.5 2877.9 L1636.5 2879.6 L1637.5 2881.6 L1638.5 2884 L1639.5 2886.9 L1640.5 2890.1 L1641.5 2893.6 L1642.5 2896.9 L1643.5 2899.4 L1644.5 2900.4 L1645.5 2899.8 L1646.5 2897.6 L1647.5 2894.4 L1648.5 2891 L1649.5 2887.7 L1650.5 2884.8 L1651.5 2882.3 L1652.5 2880.3 L1653.5 2878.6 L1654.5 2877.2 L1655.5 2876.1 L1656.5 2875.1 L1657.5 2874.4 L1658.5 2873.8 L1659.5 2873.2 L1660.5 2872.8 L1661.5 2872.5 L1662.5 2872.2 L1663.5 2871.9 L1664.5 2871.7 L1665.5 2871.6 L1666.5 2871.4 L1667.5 2871.3 L1668.5 2871.3 L1669.5 2871.2 L1670.5 2871.2 L1671.5 2871.2 L1672.5 2871.2 L1673.5 2871.3 L1674.5 2871.4 L1675.5 2871.4 L1676.5 2871.6 L1677.5 2871.7 L1678.5 2871.9 L1679.5 2872.1 L1680.5 2872.3 L1681.5 2872.5 L1682.5 2872.8 L1683.5 2873.2 L1684.5 2873.6 L1685.5 2874 L1686.5 2874.5 L1687.5 2875 L1688.5 2875.6 L1689.5 2876.3 L1690.5 2877 L1691.5 2877.7 L1692.5 2878.5 L1693.5 2879.2 L1694.5 2879.9 L1695.5 2880.4 L1696.5 2880.9 L1697.5 2881.1 L1698.5 2881.1 L1699.5 2881 L1700.5 2880.6 L1701.5 2880.1 L1702.5 2879.5 L1703.5 2878.9 L1704.5 2878.2 L1705.5 2877.5 L1706.5 2876.9 L1707.5 2876.3 L1708.5 2875.7 L1709.5 2875.2 L1710.5 2874.8 L1711.5 2874.4 L1712.5 2874.1 L1713.5 2873.8 L1714.5 2873.6 L1715.5 2873.4 L1716.5 2873.3 L1717.5 2873.2 L1718.5 2873.1 L1719.5 2873.1 L1720.5 2873.1 L1721.5 2873.1 L1722.5 2873.2 L1723.5 2873.3 L1724.5 2873.4 L1725.5 2873.5 L1726.5 2873.7 L1727.5 2874 L1728.5 2874.2 L1729.5 2874.6 L1730.5 2874.9 L1731.5 2875.3 L1732.5 2875.8 L1733.5 2876.3 L1734.5 2876.8 L1735.5 2877.5 L1736.5 2878.1 L1737.5 2878.8 L1738.5 2879.6 L1739.5 2880.4 L1740.5 2881.3 L1741.5 2882.1 L1742.5 2882.9 L1743.5 2883.7 L1744.5 2884.4 L1745.5 2885 L1746.5 2885.4 L1747.5 2885.6 L1748.5 2885.6 L1749.5 2885.4 L1750.5 2885 L1751.5 2884.5 L1752.5 2883.8 L1753.5 2883 L1754.5 2882.1 L1755.5 2881.2 L1756.5 2880.3 L1757.5 2879.4 L1758.5 2878.6 L1759.5 2877.7 L1760.5 2877 L1761.5 2876.3 L1762.5 2875.6 L1763.5 2875 L1764.5 2874.4 L1765.5 2873.9 L1766.5 2873.5 L1767.5 2873 L1768.5 2872.6 L1769.5 2872.3 L1770.5 2871.9 L1771.5 2871.6 L1772.5 2871.3 L1773.5 2871.1 L1774.5 2870.8 L1775.5 2870.6 L1776.5 2870.4 L1777.5 2870.2 L1778.5 2870 L1779.5 2869.8 L1780.5 2869.6 L1781.5 2869.5 L1782.5 2869.3 L1783.5 2869.1 L1784.5 2869 L1785.5 2868.8 L1786.5 2868.7 L1787.5 2868.5 L1788.5 2868.4 L1789.5 2868.2 L1790.5 2868.1 L1791.5 2867.9 L1792.5 2867.7 L1793.5 2867.5 L1794.5 2867.3 L1795.5 2867.1 L1796.5 2866.9 L1797.5 2866.6 L1798.5 2866.3 L1799.5 2866 L1800.5 2865.6 L1801.5 2865.2 L1802.5 2864.7 L1803.5 2864.2 L1804.5 2863.6 L1805.5 2863 L1806.5 2862.3 L1807.5 2861.7 L1808.5 2861 L1809.5 2860.4 L1810.5 2860 L1811.5 2859.8 L1812.5 2859.9 L1813.5 2860.1 L1814.5 2860.6 L1815.5 2861.1 L1816.5 2861.8 L1817.5 2862.4 L1818.5 2863 L1819.5 2863.6 L1820.5 2864.1 L1821.5 2864.6 L1822.5 2865 L1823.5 2865.4 L1824.5 2865.7 L1825.5 2865.9 L1826.5 2866.2 L1827.5 2866.4 L1828.5 2866.6 L1829.5 2866.7 L1830.5 2866.9 L1831.5 2867 L1832.5 2867.2 L1833.5 2867.3 L1834.5 2867.4 L1835.5 2867.5 L1836.5 2867.6 L1837.5 2867.7 L1838.5 2867.8 L1839.5 2867.8 L1840.5 2867.9 L1841.5 2868 L1842.5 2868.1 L1843.5 2868.2 L1844.5 2868.3 L1845.5 2868.4 L1846.5 2868.5 L1847.5 2868.6 L1848.5 2868.8 L1849.5 2868.9 L1850.5 2869.1 L1851.5 2869.2 L1852.5 2869.4 L1853.5 2869.6 L1854.5 2869.9 L1855.5 2870.2 L1856.5 2870.5 L1857.5 2870.8 L1858.5 2871.2 L1859.5 2871.6 L1860.5 2872.1 L1861.5 2872.7 L1862.5 2873.3 L1863.5 2873.9 L1864.5 2874.6 L1865.5 2875.2 L1866.5 2875.8 L1867.5 2876.2 L1868.5 2876.5 L1869.5 2876.6 L1870.5 2876.5 L1871.5 2876.2 L1872.5 2875.7 L1873.5 2875.1 L1874.5 2874.5 L1875.5 2873.8 L1876.5 2873.2 L1877.5 2872.6 L1878.5 2872.1 L1879.5 2871.6 L1880.5 2871.1 L1881.5 2870.7 L1882.5 2870.3 L1883.5 2870 L1884.5 2869.7 L1885.5 2869.5 L1886.5 2869.3 L1887.5 2869.1 L1888.5 2868.9 L1889.5 2868.7 L1890.5 2868.6 L1891.5 2868.5 L1892.5 2868.3 L1893.5 2868.2 L1894.5 2868.1 L1895.5 2868 L1896.5 2867.9 L1897.5 2867.8 L1898.5 2867.8 L1899.5 2867.7 L1900.5 2867.6 L1901.5 2867.5 L1902.5 2867.5 L1903.5 2867.4 L1904.5 2867.3 L1905.5 2867.3 L1906.5 2867.2 L1907.5 2867.1 L1908.5 2867 L1909.5 2867 L1910.5 2866.9 L1911.5 2866.8 L1912.5 2866.8 L1913.5 2866.7 L1914.5 2866.6 L1915.5 2866.5 L1916.5 2866.4 L1917.5 2866.3 L1918.5 2866.2 L1919.5 2866.1 L1920.5 2866 L1921.5 2865.9 L1922.5 2865.8 L1923.5 2865.7 L1924.5 2865.5 L1925.5 2865.4 L1926.5 2865.2 L1927.5 2865 L1928.5 2864.8 L1929.5 2864.6 L1930.5 2864.3 L1931.5 2864.1 L1932.5 2863.8 L1933.5 2863.4 L1934.5 2863.1 L1935.5 2862.7 L1936.5 2862.2 L1937.5 2861.7 L1938.5 2861.1 L1939.5 2860.5 L1940.5 2859.8 L1941.5 2859 L1942.5 2858.1 L1943.5 2857.1 L1944.5 2856 L1945.5 2854.8 L1946.5 2853.5 L1947.5 2852.2 L1948.5 2850.8 L1949.5 2849.5 L1950.5 2848.3 L1951.5 2847.3 L1952.5 2846.6 L1953.5 2846.3 L1954.5 2846.4 L1955.5 2846.8 L1956.5 2847.7 L1957.5 2848.7 L1958.5 2850 L1959.5 2851.3 L1960.5 2852.7 L1961.5 2854 L1962.5 2855.2 L1963.5 2856.4 L1964.5 2857.4 L1965.5 2858.4 L1966.5 2859.2 L1967.5 2860 L1968.5 2860.6 L1969.5 2861.3 L1970.5 2861.8 L1971.5 2862.3 L1972.5 2862.7 L1973.5 2863.1 L1974.5 2863.4 L1975.5 2863.7 L1976.5 2864 L1977.5 2864.3 L1978.5 2864.5 L1979.5 2864.7 L1980.5 2864.9 L1981.5 2865 L1982.5 2865.2 L1983.5 2865.3 L1984.5 2865.5 L1985.5 2865.6 L1986.5 2865.7 L1987.5 2865.8 L1988.5 2865.9 L1989.5 2866 L1990.5 2866.1 L1991.5 2866.1 L1992.5 2866.2 L1993.5 2866.3 L1994.5 2866.3 L1995.5 2866.4 L1996.5 2866.4 L1997.5 2866.5 L1998.5 2866.5 L1999.5 2866.6 L2000.5 2866.6 L2001.5 2866.6 L2002.5 2866.7 L2003.5 2866.7 L2004.5 2866.7 L2005.5 2866.8 L2006.5 2866.8 L2007.5 2866.8 L2008.5 2866.9 L2009.5 2866.9 L2010.5 2866.9 L2011.5 2866.9 L2012.5 2866.9 L2013.5 2867 L2014.5 2867 L2015.5 2867 L2016.5 2867 L2017.5 2867 L2018.5 2867 L2019.5 2867.1 L2020.5 2867.1 L2021.5 2867.1 L2022.5 2867.1 L2023.5 2867.1 L2024.5 2867.1 L2025.5 2867.1 L2026.5 2867.2 L2027.5 2867.2 L2028.5 2867.2" fill="none" stroke="#0000FF" stroke-width="6.3" stroke-linejoin="round" stroke-linecap="round"/>
<path d="M278.9 3287.5 L279.9 3287.5 L280.9 3287.5 L281.9 3287.5 L282.9 3287.5 L283.9 3287.5 L284.9 3287.5 L285.9 3287.5 L286.9 3287.5 L287.9 3287.5 L288.9 3287.5 L289.9 3287.5 L290.9 3287.5 L291.9 3287.5 L292.9 3287.5 L293.9 3287.5 L294.9 3287.5 L295.9 3287.5 L296.9 3287.5 L297.9 3287.5 L298.9 3287.5 L299.9 3287.5 L300.9 3287.5 L301.9 3287.5 L302.9 3287.5 L303.9 3287.5 L304.9 3287.5 L305.9 3287.5 L306.9 3287.5 L307.9 3287.5 L308.9 3287.5 L309.9 3287.5 L310.9 3287.5 L311.9 3287.5 L312.9 3287.5 L313.9 3287.5 L314.9 3287.5 L315.9 3287.5 L316.9 3287.5 L317.9 3287.5 L318.9 3287.5 L319.9 3287.5 L320.9 3287.5 L321.9 3287.5 L322.9 3287.5 L323.9 3287.5 L324.9 3287.5 L325.9 3287.5 L326.9 3287.5 L327.9 3287.5 L328.9 3287.5 L329.9 3287.5 L330.9 3287.5 L331.9 3287.5 L332.9 3287.5 L333.9 3287.5 L334.9 3287.5 L335.9 3287.5 L336.9 3287.5 L337.9 3287.5 L338.9 3287.5 L339.9 3287.5 L340.9 3287.5 L341.9 3287.5 L342.9 3287.5 L343.9 3287.5 L344.9 3287.5 L345.9 3287.5 L346.9 3287.5 L347.9 3287.5 L348.9 3287.5 L349.9 3287.5 L350.9 3287.5 L351.9 3287.5 L352.9 3287.5 L353.9 3287.5 L354.9 3287.5 L355.9 3287.5 L356.9 3287.5 L357.9 3287.5 L358.9 3287.5 L359.9 3287.5 L360.9 3287.5 L361.9 3287.5 L362.9 3287.5 L363.9 3287.5 L364.9 3287.5 L365.9 3287.5 L366.9 3287.5 L367.9 3287.5 L368.9 3287.5 L369.9 3287.5 L370.9 3287.5 L371.9 3287.5 L372.9 3287.5 L373.9 3287.5 L374.9 3287.5 L375.9 3287.5 L376.9 3287.5 L377.9 3287.5 L378.9 3287.5 L379.9 3287.5 L380.9 3287.5 L381.9 3287.5 L382.9 3287.5 L383.9 3287.5 L384.9 3287.5 L385.9 3287.5 L386.9 3287.5 L387.9 3287.5 L388.9 3287.5 L389.9 3287.5 L390.9 3287.5 L391.9 3287.5 L392.9 3287.5 L393.9 3287.5 L394.9 3287.5 L395.9 3287.5 L396.9 3287.5 L397.9 3287.5 L398.9 3287.5 L399.9 3287.4 L400.9 3287.4 L401.9 3287.4 L402.9 3287.4 L403.9 3287.4 L404.9 3287.4 L405.9 3287.4 L406.9 3287.4 L407.9 3287.4 L408.9 3287.4 L409.9 3287.4 L410.9 3287.4 L411.9 3287.4 L412.9 3287.4 L413.9 3287.4 L414.9 3287.4 L415.9 3287.4 L416.9 3287.4 L417.9 3287.4 L418.9 3287.4 L419.9 3287.4 L420.9 3287.4 L421.9 3287.4 L422.9 3287.4 L423.9 3287.4 L424.9 3287.4 L425.9 3287.4 L426.9 3287.4 L427.9 3287.4 L428.9 3287.4 L429.9 3287.4 L430.9 3287.4 L431.9 3287.4 L432.9 3287.4 L433.9 3287.4 L434.9 3287.4 L435.9 3287.4 L436.9 3287.4 L437.9 3287.4 L438.9 3287.4 L439.9 3287.4 L440.9 3287.4 L441.9 3287.4 L442.9 3287.4 L443.9 3287.4 L444.9 3287.4 L445.9 3287.4 L446.9 3287.4 L447.9 3287.4 L448.9 3287.4 L449.9 3287.4 L450.9 3287.4 L451.9 3287.4 L452.9 3287.4 L453.9 3287.4 L454.9 3287.4 L455.9 3287.4 L456.9 3287.4 L457.9 3287.4 L458.9 3287.4 L459.9 3287.4 L460.9 3287.4 L461.9 3287.4 L462.9 3287.4 L463.9 3287.4 L464.9 3287.4 L465.9 3287.4 L466.9 3287.4 L467.9 3287.4 L468.9 3287.4 L469.9 3287.4 L470.9 3287.4 L471.9 3287.4 L472.9 3287.4 L473.9 3287.4 L474.9 3287.4 L475.9 3287.4 L476.9 3287.4 L477.9 3287.4 L478.9 3287.4 L479.9 3287.4 L480.9 3287.4 L481.9 3287.4 L482.9 3287.4 L483.9 3287.4 L484.9 3287.4 L485.9 3287.4 L486.9 3287.4 L487.9 3287.4 L488.9 3287.4 L489.9 3287.4 L490.9 3287.4 L491.9 3287.4 L492.9 3287.4 L493.9 3287.4 L494.9 3287.4 L495.9 3287.4 L496.9 3287.4 L497.9 3287.4 L498.9 3287.3 L499.9 3287.3 L500.9 3287.3 L501.9 3287.3 L502.9 3287.3 L503.9 3287.3 L504.9 3287.3 L505.9 3287.3 L506.9 3287.3 L507.9 3287.3 L508.9 3287.3 L509.9 3287.3 L510.9 3287.3 L511.9 3287.3 L512.9 3287.3 L513.9 3287.3 L514.9 3287.3 L515.9 3287.3 L516.9 3287.3 L517.9 3287.3 L518.9 3287.3 L519.9 3287.3 L520.9 3287.3 L521.9 3287.3 L522.9 3287.3 L523.9 3287.3 L524.9 3287.3 L525.9 3287.3 L526.9 3287.3 L527.9 3287.3 L528.9 3287.3 L529.9 3287.2 L530.9 3287.2 L531.9 3287.2 L532.9 3287.2 L533.9 3287.2 L534.9 3287.2 L535.9 3287.2 L536.9 3287.2 L537.9 3287.2 L538.9 3287.2 L539.9 3287.2 L540.9 3287.2 L541.9 3287.2 L542.9 3287.2 L543.9 3287.2 L544.9 3287.2 L545.9 3287.1 L546.9 3287.1 L547.9 3287.1 L548.9 3287.1 L549.9 3287.1 L550.9 3287.1 L551.9 3287.1 L552.9 3287.1 L553.9 3287.1 L554.9 3287.1 L555.9 3287.1 L556.9 3287 L557.9 3287 L558.9 3287 L559.9 3287 L560.9 3287 L561.9 3287 L562.9 3287 L563.9 3287 L564.9 3287 L565.9 3286.9 L566.9 3286.9 L567.9 3286.9 L568.9 3286.9 L569.9 3286.9 L570.9 3286.9 L571.9 3286.8 L572.9 3286.8 L573.9 3286.8 L574.9 3286.8 L575.9 3286.8 L576.9 3286.7 L577.9 3286.7 L578.9 3286.7 L579.9 3286.7 L580.9 3286.6 L581.9 3286.6 L582.9 3286.6 L583.9 3286.6 L584.9 3286.5 L585.9 3286.5 L586.9 3286.5 L587.9 3286.4 L588.9 3286.4 L589.9 3286.4 L590.9 3286.3 L591.9 3286.3 L592.9 3286.2 L593.9 3286.2 L594.9 3286.1 L595.9 3286.1 L596.9 3286 L597.9 3286 L598.9 3285.9 L599.9 3285.9 L600.9 3285.8 L601.9 3285.8 L602.9 3285.7 L603.9 3285.7 L604.9 3285.7 L605.9 3285.7 L606.9 3285.8 L607.9 3285.8 L608.9 3285.8 L609.9 3285.8 L610.9 3285.8 L611.9 3285.8 L612.9 3285.8 L613.9 3285.8 L614.9 3285.8 L615.9 3285.7 L616.9 3285.7 L617.9 3285.6 L618.9 3285.5 L619.9 3285.3 L621 3285.1 L624 3284.5 L626.5 3283.7 L628.1 3283.1 L629.6 3282.4 L631.1 3281.6 L632.5 3280.8 L633.8 3280 L635.1 3279.1 L636.3 3278.1 L637.5 3277.1 L638.7 3276 L639.8 3274.9 L640.9 3273.7 L642 3272.4 L643 3271 L643.9 3269.5 L644.9 3268.1 L645.7 3266.5 L646.5 3264.9 L647.3 3263.3 L648 3261.7 L648.7 3260.1 L649.4 3258.3 L649.9 3256.6 L650.5 3254.8 L650.9 3252.9 L651.3 3251 L651.7 3249.1 L652.1 3247.2 L652.4 3245.1 L652.8 3243 L653.1 3240.9 L653.5 3238 L653.9 3235 L654.2 3231.9 L654.5 3228.7 L654.7 3225.4 L655 3222 L655.2 3218.6 L655.5 3215.3 L655.7 3211.9 L656 3208.5 L656.3 3204.9 L656.6 3201.1 L656.9 3197.3 L657.2 3193.5 L657.5 3189.6 L657.8 3185.8 L658.1 3182.1 L658.4 3178.4 L658.7 3174.9 L659 3171.6 L659.2 3169.1 L659.4 3166.6 L659.5 3164.1 L659.6 3161.6 L659.8 3159.3 L660 3157 L660.2 3154.9 L660.4 3152.9 L660.8 3151.1 L661.2 3149.5 L661.5 3148.7 L661.8 3147.8 L662.2 3147 L662.5 3146.2 L662.9 3145.5 L663.3 3144.8 L663.6 3144.3 L664 3143.9 L664.3 3143.6 L664.6 3143.6 L665 3144 L665.4 3145.1 L665.7 3146.6 L666 3148.6 L666.2 3151 L666.4 3153.5 L666.5 3156.2 L666.7 3158.9 L666.9 3161.6 L667.1 3164.2 L667.4 3167.9 L667.7 3172 L667.9 3176.3 L668.1 3180.7 L668.4 3185.3 L668.6 3190 L668.7 3194.7 L668.9 3199.4 L669.1 3204 L669.3 3208.5 L669.5 3212.9 L669.6 3217.3 L669.8 3221.8 L670 3226.2 L670.1 3230.6 L670.2 3235 L670.4 3239.4 L670.5 3243.9 L670.7 3248.3 L670.8 3252.7 L671 3257.1 L671.1 3261.6 L671.3 3266 L671.4 3270.4 L671.6 3274.8 L671.7 3279.3 L671.9 3283.7 L672 3288.1 L672.2 3292.6 L672.3 3297 L672.4 3301.4 L672.6 3305.9 L672.7 3310.3 L672.9 3314.7 L673 3319.2 L673.1 3323.6 L673.3 3328 L673.4 3332.4 L673.6 3336.9 L673.7 3341.3 L673.8 3345.7 L674 3350.1 L674.2 3354.6 L674.3 3359 L674.5 3363.4 L674.6 3367.8 L674.8 3372.2 L674.9 3376.7 L675.1 3381.1 L675.2 3385.5 L675.3 3389.9 L675.5 3394.3 L675.6 3398.8 L675.7 3403.2 L675.8 3407.6 L675.9 3412 L676.1 3416.5 L676.2 3420.9 L676.3 3425.3 L676.4 3429.8 L676.5 3434.8 L676.6 3440.4 L676.6 3446.3 L676.7 3452.4 L676.7 3458.3 L676.8 3463.8 L676.9 3468.5 L677 3472.2 L677.2 3474.6 L677.4 3475.5 L677.6 3474.9 L677.9 3473.4 L678.2 3470.9 L678.5 3467.8 L678.8 3464.2 L679.2 3460.3 L679.5 3456.2 L679.8 3452.1 L680.1 3448.1 L680.4 3444.5 L680.7 3440.4 L680.9 3436.1 L681.1 3431.7 L681.3 3427.2 L681.5 3422.6 L681.7 3418 L681.9 3413.4 L682.1 3408.9 L682.3 3404.5 L682.6 3400.2 L682.8 3396.3 L683.1 3392.5 L683.3 3388.6 L683.5 3384.8 L683.8 3381 L684.1 3377.3 L684.4 3373.6 L684.7 3370.1 L685.1 3366.7 L685.5 3363.4 L685.9 3360.9 L686.2 3358.4 L686.6 3355.9 L687 3353.4 L687.4 3351 L687.8 3348.8 L688.3 3346.6 L688.8 3344.7 L689.4 3342.9 L690 3341.3 L690.4 3340.5 L690.8 3339.6 L691.2 3338.8 L691.7 3338 L692.2 3337.2 L692.6 3336.6 L693.1 3336.1 L693.5 3335.7 L694 3335.5 L694.4 3335.4 L694.9 3335.6 L695.4 3336.1 L695.9 3336.9 L696.3 3337.9 L696.8 3339 L697.2 3340.3 L697.7 3341.6 L698.1 3343 L698.4 3344.4 L698.8 3345.7 L699.3 3347.7 L699.7 3350 L700 3352.4 L700.3 3354.9 L700.6 3357.5 L700.8 3360.2 L701 3362.9 L701.3 3365.6 L701.5 3368.2 L701.8 3370.8 L702.1 3373.5 L702.4 3376.5 L702.7 3379.5 L702.9 3382.6 L703.2 3385.7 L703.5 3388.6 L703.8 3391.3 L704.1 3393.7 L704.4 3395.7 L704.7 3397.3 L704.8 3397.7 L704.9 3398.2 L705 3398.6 L705.1 3399 L705.3 3399.3 L705.4 3399.6 L705.5 3399.9 L705.6 3400 L705.8 3400.2 L705.9 3400.2 L706.3 3399.9 L706.7 3399.2 L707.2 3398.2 L707.7 3396.8 L708.2 3395.1 L708.7 3393.3 L709.3 3391.4 L709.8 3389.4 L710.2 3387.4 L710.6 3385.5 L711.1 3382.5 L711.5 3379.2 L711.8 3375.6 L712.1 3371.8 L712.3 3367.9 L712.5 3363.9 L712.7 3359.9 L713 3356 L713.2 3352.2 L713.6 3348.6 L714 3345.5 L714.3 3342.3 L714.6 3339.2 L715 3336.2 L715.4 3333.1 L715.8 3330.1 L716.2 3327.2 L716.8 3324.4 L717.3 3321.7 L718 3319.1 L718.6 3317.1 L719.1 3315.1 L719.7 3313.1 L720.3 3311.2 L721 3309.4 L721.7 3307.6 L722.5 3305.9 L723.3 3304.3 L724.3 3302.8 L725.4 3301.4 L726.5 3300.2 L727.8 3299.1 L729.1 3298 L730.5 3297 L732 3296.2 L733.5 3295.3 L735.1 3294.6 L736.8 3293.9 L738.4 3293.2 L740.1 3292.6 L742.1 3292 L744.1 3291.5 L746.1 3291.1 L748.2 3290.8 L750.4 3290.5 L752.7 3290.3 L754.9 3290.1 L757.3 3290 L759.7 3289.8 L762.2 3289.6 L765.9 3289.3 L770.3 3289.1 L775.2 3288.9 L780.9 3288.7 L781.9 3288.6 L782.9 3288.6 L783.9 3288.6 L784.9 3288.6 L785.9 3288.5 L786.9 3288.5 L787.9 3288.5 L788.9 3288.5 L789.9 3288.4 L790.9 3288.4 L791.9 3288.4 L792.9 3288.4 L793.9 3288.4 L794.9 3288.4 L795.9 3288.4 L796.9 3288.4 L797.9 3288.4 L798.9 3288.4 L799.9 3288.4 L800.9 3288.4 L801.9 3288.3 L802.9 3288.3 L803.9 3288.3 L804.9 3288.3 L805.9 3288.3 L806.9 3288.3 L807.9 3288.3 L808.9 3288.3 L809.9 3288.3 L810.9 3288.3 L811.9 3288.3 L812.9 3288.3 L813.9 3288.3 L814.9 3288.4 L815.9 3288.4 L816.9 3288.4 L817.9 3288.4 L818.9 3288.4 L819.9 3288.4 L820.9 3288.4 L821.9 3288.4 L822.9 3288.4 L823.9 3288.4 L824.9 3288.5 L825.9 3288.5 L826.9 3288.5 L827.9 3288.5 L828.9 3288.5 L829.9 3288.6 L830.9 3288.6 L831.9 3288.6 L832.9 3288.6 L833.9 3288.7 L834.9 3288.7 L835.9 3288.7 L836.9 3288.8 L837.9 3288.8 L838.9 3288.8 L839.9 3288.9 L840.9 3288.9 L841.9 3289 L842.9 3289 L843.9 3289.1 L844.9 3289.1 L845.9 3289.2 L846.9 3289.3 L847.9 3289.3 L848.9 3289.4 L849.9 3289.5 L850.9 3289.6 L851.9 3289.7 L852.9 3289.8 L853.9 3289.9 L854.9 3290 L855.9 3290.1 L856.9 3290.2 L857.9 3290.4 L858.9 3290.5 L859.9 3290.7 L860.9 3290.9 L861.9 3291.1 L862.9 3291.3 L863.9 3291.6 L864.9 3291.8 L865.9 3292.1 L866.9 3292.5 L867.9 3292.8 L868.9 3293.2 L869.9 3293.7 L870.9 3294.2 L871.9 3294.7 L872.9 3295.4 L873.9 3296.1 L874.9 3296.9 L875.9 3297.8 L876.9 3298.8 L877.9 3300.1 L878.9 3301.5 L879.9 3303.1 L880.9 3305.1 L881.9 3307.3 L882.9 3310.1 L883.9 3313.3 L884.9 3317.2 L885.9 3321.8 L886.9 3327.4 L887.9 3334.2 L888.9 3342.1 L889.9 3351.3 L890.9 3361.5 L891.9 3371.9 L892.9 3381.4 L893.9 3388.2 L894.9 3390.7 L895.9 3388.2 L896.9 3381.4 L897.9 3371.9 L898.9 3361.4 L899.9 3351.3 L900.9 3342.1 L901.9 3334.1 L902.9 3327.4 L903.9 3321.7 L904.9 3317.1 L905.9 3313.2 L906.9 3309.9 L907.9 3307.2 L908.9 3304.9 L909.9 3303 L910.9 3301.3 L911.9 3299.9 L912.9 3298.7 L913.9 3297.6 L914.9 3296.6 L915.9 3295.8 L916.9 3295.1 L917.9 3294.5 L918.9 3293.9 L919.9 3293.4 L920.9 3292.9 L921.9 3292.5 L922.9 3292.1 L923.9 3291.8 L924.9 3291.5 L925.9 3291.2 L926.9 3290.9 L927.9 3290.7 L928.9 3290.5 L929.9 3290.3 L930.9 3290.1 L931.9 3289.9 L932.9 3289.7 L933.9 3289.6 L934.9 3289.4 L935.9 3289.3 L936.9 3289.2 L937.9 3289 L938.9 3288.9 L939.9 3288.8 L940.9 3288.7 L941.9 3288.6 L942.9 3288.5 L943.9 3288.3 L944.9 3288.2 L945.9 3288.1 L946.9 3288 L947.9 3287.9 L948.9 3287.8 L949.9 3287.6 L950.9 3287.5 L951.9 3287.3 L952.9 3287.1 L953.9 3287 L954.9 3286.7 L955.9 3286.5 L956.9 3286.2 L957.9 3285.9 L958.9 3285.5 L959.9 3285.1 L960.9 3284.6 L961.9 3284.1 L962.9 3283.5 L963.9 3282.8 L964.9 3282.2 L965.9 3281.7 L966.9 3281.3 L967.9 3281.1 L968.9 3281.2 L969.9 3281.6 L970.9 3282.3 L971.9 3283 L972.9 3283.9 L973.9 3284.8 L974.9 3285.7 L975.9 3286.5 L976.9 3287.2 L977.9 3287.9 L978.9 3288.6 L979.9 3289.2 L980.9 3289.8 L981.9 3290.3 L982.9 3290.7 L983.9 3291.1 L984.9 3291.4 L985.9 3291.6 L986.9 3291.6 L987.9 3291.6 L988.9 3291.4 L989.9 3291 L990.9 3290.5 L991.9 3289.8 L992.9 3288.9 L993.9 3287.8 L994.9 3286.5 L995.9 3285 L996.9 3283.3 L997.9 3281.5 L998.9 3279.6 L999.9 3277.8 L1000.9 3276.5 L1001.9 3275.7 L1002.9 3275.7 L1003.9 3276.3 L1004.9 3277.1 L1005.9 3278.1 L1006.9 3278.9 L1007.9 3279.5 L1008.9 3280 L1009.9 3280.3 L1010.9 3280.4 L1011.9 3280.4 L1012.9 3280.2 L1013.9 3280 L1014.9 3279.6 L1015.9 3279.1 L1016.9 3278.4 L1017.9 3277.6 L1018.9 3276.7 L1019.9 3275.6 L1020.9 3274.2 L1021.9 3272.6 L1022.9 3270.6 L1023.9 3268.3 L1024.9 3265.4 L1025.9 3262.1 L1026.9 3258.4 L1027.9 3254.3 L1028.9 3250.3 L1029.9 3247 L1030.9 3245 L1031.9 3244.6 L1032.9 3245.6 L1033.9 3247.4 L1034.9 3249.4 L1035.9 3251.1 L1036.9 3252.1 L1037.9 3252.6 L1038.9 3252.4 L1039.9 3251.8 L1040.9 3250.9 L1041.9 3249.8 L1042.9 3249 L1043.9 3248.5 L1044.9 3248.6 L1045.9 3249.1 L1046.9 3250.2 L1047.9 3251.4 L1048.9 3252.7 L1049.9 3253.8 L1050.9 3254.7 L1051.9 3255.1 L1052.9 3255.2 L1053.9 3254.8 L1054.9 3253.9 L1055.9 3252.7 L1056.9 3251.2 L1057.9 3249.4 L1058.9 3247.8 L1059.9 3246.4 L1060.9 3245.6 L1061.9 3245.6 L1062.9 3246.3 L1063.9 3247.8 L1064.9 3249.6 L1065.9 3251.7 L1066.9 3253.7 L1067.9 3255.5 L1068.9 3257.1 L1069.9 3258.3 L1070.9 3259.2 L1071.9 3259.7 L1072.9 3259.9 L1073.9 3259.7 L1074.9 3259.2 L1075.9 3258.3 L1076.9 3257.1 L1077.9 3255.4 L1078.9 3253.4 L1079.9 3250.9 L1080.9 3247.8 L1081.9 3244.2 L1082.9 3240.1 L1083.9 3235.3 L1084.9 3229.9 L1085.9 3224 L1086.9 3217.7 L1087.9 3211.5 L1088.9 3205.7 L1089.9 3201 L1090.9 3197.9 L1091.9 3196.9 L1092.9 3198.1 L1093.9 3201.5 L1094.9 3206.5 L1095.9 3212.6 L1096.9 3219.2 L1097.9 3225.7 L1098.9 3232 L1099.9 3237.7 L1100.9 3242.9 L1101.9 3247.5 L1102.9 3251.6 L1103.9 3255.1 L1104.9 3258.2 L1105.9 3260.9 L1106.9 3263.3 L1107.9 3265.3 L1108.9 3267.1 L1109.9 3268.7 L1110.9 3270.1 L1111.9 3271.3 L1112.9 3272.3 L1113.9 3273.3 L1114.9 3274.1 L1115.9 3274.8 L1116.9 3275.4 L1117.9 3276 L1118.9 3276.5 L1119.9 3276.9 L1120.9 3277.2 L1121.9 3277.5 L1122.9 3277.7 L1123.9 3277.9 L1124.9 3278 L1125.9 3278 L1126.9 3278 L1127.9 3277.9 L1128.9 3277.7 L1129.9 3277.4 L1130.9 3277.1 L1131.9 3276.6 L1132.9 3276 L1133.9 3275.2 L1134.9 3274.3 L1135.9 3273.2 L1136.9 3271.9 L1137.9 3270.3 L1138.9 3268.5 L1139.9 3266.5 L1140.9 3264.4 L1141.9 3262.4 L1142.9 3260.6 L1143.9 3259.4 L1144.9 3259 L1145.9 3259.4 L1146.9 3260.7 L1147.9 3262.6 L1148.9 3264.9 L1149.9 3267.2 L1150.9 3269.4 L1151.9 3271.5 L1152.9 3273.3 L1153.9 3274.9 L1154.9 3276.3 L1155.9 3277.6 L1156.9 3278.6 L1157.9 3279.5 L1158.9 3280.3 L1159.9 3281 L1160.9 3281.6 L1161.9 3282.2 L1162.9 3282.6 L1163.9 3283.1 L1164.9 3283.5 L1165.9 3283.9 L1166.9 3284.2 L1167.9 3284.5 L1168.9 3284.8 L1169.9 3285.1 L1170.9 3285.4 L1171.9 3285.7 L1172.9 3286 L1173.9 3286.3 L1174.9 3286.7 L1175.9 3287 L1176.9 3287.4 L1177.9 3287.8 L1178.9 3288.2 L1179.9 3288.7 L1180.9 3289.3 L1181.9 3290 L1182.9 3290.8 L1183.9 3291.8 L1184.9 3292.9 L1185.9 3294.3 L1186.9 3295.9 L1187.9 3297.9 L1188.9 3300.1 L1189.9 3302.5 L1190.9 3304.9 L1191.9 3306.9 L1192.9 3308 L1193.9 3307.9 L1194.9 3306.6 L1195.9 3304.6 L1196.9 3302.2 L1197.9 3299.8 L1198.9 3297.7 L1199.9 3295.8 L1200.9 3294.3 L1201.9 3293 L1202.9 3291.9 L1203.9 3291 L1204.9 3290.3 L1205.9 3289.6 L1206.9 3289.1 L1207.9 3288.6 L1208.9 3288.2 L1209.9 3287.9 L1210.9 3287.6 L1211.9 3287.4 L1212.9 3287.3 L1213.9 3287.1 L1214.9 3287 L1215.9 3287 L1216.9 3286.9 L1217.9 3286.9 L1218.9 3286.9 L1219.9 3286.9 L1220.9 3286.9 L1221.9 3286.9 L1222.9 3286.9 L1223.9 3286.9 L1224.9 3286.9 L1225.9 3286.9 L1226.9 3286.9 L1227.9 3286.9 L1228.9 3287 L1229.9 3287 L1230.9 3287 L1231.9 3287 L1232.9 3287.1 L1233.9 3287.1 L1234.9 3287.2 L1235.9 3287.2 L1236.9 3287.3 L1237.9 3287.4 L1238.9 3287.5 L1239.9 3287.7 L1240.9 3287.8 L1241.9 3288 L1242.9 3288.3 L1243.9 3288.6 L1244.9 3288.9 L1245.9 3289.4 L1246.9 3290 L1247.9 3290.7 L1248.9 3291.5 L1249.9 3292.5 L1250.9 3293.6 L1251.9 3294.6 L1252.9 3295.4 L1253.9 3295.8 L1254.9 3295.7 L1255.9 3294.9 L1256.9 3293.8 L1257.9 3292.4 L1258.9 3291.1 L1259.9 3289.9 L1260.9 3288.8 L1261.9 3287.8 L1262.9 3286.9 L1263.9 3286.1 L1264.9 3285.4 L1265.9 3284.6 L1266.9 3283.9 L1267.9 3283.2 L1268.9 3282.5 L1269.9 3281.7 L1270.9 3280.8 L1271.9 3279.8 L1272.9 3278.7 L1273.9 3277.5 L1274.9 3276.1 L1275.9 3274.4 L1276.9 3272.5 L1277.9 3270.2 L1278.9 3267.4 L1279.9 3264 L1280.9 3260 L1281.9 3255 L1282.9 3248.9 L1283.9 3241.7 L1284.9 3233.2 L1285.9 3223.5 L1286.9 3213.5 L1287.9 3204.4 L1288.9 3198 L1289.9 3196.2 L1290.9 3199.5 L1291.9 3207 L1292.9 3216.9 L1293.9 3227.4 L1294.9 3237.4 L1295.9 3246.2 L1296.9 3253.8 L1297.9 3260.2 L1298.9 3265.6 L1299.9 3270.2 L1300.9 3274.2 L1301.9 3277.7 L1302.9 3280.9 L1303.9 3283.7 L1304.9 3286.4 L1305.9 3288.9 L1306.9 3291.3 L1307.9 3293.6 L1308.9 3295.8 L1309.9 3298 L1310.9 3300.1 L1311.9 3302 L1312.9 3303.8 L1313.9 3305.3 L1314.9 3306.4 L1315.9 3307.2 L1316.9 3307.6 L1317.9 3307.5 L1318.9 3307 L1319.9 3306.2 L1320.9 3305.1 L1321.9 3303.8 L1322.9 3302.4 L1323.9 3301 L1324.9 3299.5 L1325.9 3298.1 L1326.9 3296.7 L1327.9 3295.4 L1328.9 3294.1 L1329.9 3293 L1330.9 3291.9 L1331.9 3290.9 L1332.9 3289.9 L1333.9 3289 L1334.9 3288.1 L1335.9 3287.3 L1336.9 3286.5 L1337.9 3285.7 L1338.9 3284.9 L1339.9 3284.1 L1340.9 3283.3 L1341.9 3282.5 L1342.9 3281.6 L1343.9 3280.7 L1344.9 3279.8 L1345.9 3278.8 L1346.9 3277.8 L1347.9 3276.6 L1348.9 3275.4 L1349.9 3274 L1350.9 3272.5 L1351.9 3270.9 L1352.9 3269.1 L1353.9 3267.2 L1354.9 3265 L1355.9 3262.6 L1356.9 3260.1 L1357.9 3257.3 L1358.9 3254.3 L1359.9 3251.2 L1360.9 3248 L1361.9 3244.9 L1362.9 3242 L1363.9 3239.4 L1364.9 3237.4 L1365.9 3236.1 L1366.9 3235.7 L1367.9 3236.1 L1368.9 3237.3 L1369.9 3239.3 L1370.9 3241.9 L1371.9 3244.8 L1372.9 3247.9 L1373.9 3251 L1374.9 3254.1 L1375.9 3257 L1376.9 3259.8 L1377.9 3262.3 L1378.9 3264.7 L1379.9 3266.8 L1380.9 3268.8 L1381.9 3270.5 L1382.9 3272.2 L1383.9 3273.6 L1384.9 3275 L1385.9 3276.2 L1386.9 3277.4 L1387.9 3278.5 L1388.9 3279.5 L1389.9 3280.5 L1390.9 3281.4 L1391.9 3282.4 L1392.9 3283.4 L1393.9 3284.4 L1394.9 3285.4 L1395.9 3286.5 L1396.9 3287.7 L1397.9 3289.1 L1398.9 3290.7 L1399.9 3292.5 L1400.9 3294.5 L1401.9 3297 L1402.9 3299.8 L1403.9 3302.9 L1404.9 3306.2 L1405.9 3309.3 L1406.9 3311.8 L1407.9 3313.1 L1408.9 3313 L1409.9 3311.4 L1410.9 3308.8 L1411.9 3305.8 L1412.9 3302.8 L1413.9 3300 L1414.9 3297.7 L1415.9 3295.7 L1416.9 3294 L1417.9 3292.7 L1418.9 3291.5 L1419.9 3290.6 L1420.9 3289.8 L1421.9 3289.1 L1422.9 3288.5 L1423.9 3288.1 L1424.9 3287.6 L1425.9 3287.3 L1426.9 3286.9 L1427.9 3286.6 L1428.9 3286.4 L1429.9 3286.1 L1430.9 3285.9 L1431.9 3285.7 L1432.9 3285.5 L1433.9 3285.3 L1434.9 3285.1 L1435.9 3284.9 L1436.9 3284.7 L1437.9 3284.5 L1438.9 3284.3 L1439.9 3284.1 L1440.9 3283.8 L1441.9 3283.6 L1442.9 3283.4 L1443.9 3283.1 L1444.9 3282.8 L1445.9 3282.6 L1446.9 3282.2 L1447.9 3281.9 L1448.9 3281.6 L1449.9 3281.2 L1450.9 3280.7 L1451.9 3280.3 L1452.9 3279.8 L1453.9 3279.2 L1454.9 3278.6 L1455.9 3277.9 L1456.9 3277.1 L1457.9 3276.3 L1458.9 3275.3 L1459.9 3274.2 L1460.9 3273 L1461.9 3271.7 L1462.9 3270.2 L1463.9 3268.4 L1464.9 3266.5 L1465.9 3264.3 L1466.9 3261.8 L1467.9 3259 L1468.9 3255.8 L1469.9 3252.3 L1470.9 3248.5 L1471.9 3244.4 L1472.9 3240 L1473.9 3235.7 L1474.9 3231.6 L1475.9 3228 L1476.9 3225.4 L1477.9 3224.2 L1478.9 3224.7 L1479.9 3227.2 L1480.9 3231.5 L1481.9 3237.5 L1482.9 3244.9 L1483.9 3253.5 L1484.9 3262.8 L1485.9 3272.5 L1486.9 3282.4 L1487.9 3291.9 L1488.9 3300.5 L1489.9 3307.4 L1490.9 3312.2 L1491.9 3314.4 L1492.9 3314.2 L1493.9 3312.2 L1494.9 3309 L1495.9 3305.2 L1496.9 3301.4 L1497.9 3297.8 L1498.9 3294.5 L1499.9 3291.5 L1500.9 3288.9 L1501.9 3286.4 L1502.9 3284.1 L1503.9 3282 L1504.9 3279.9 L1505.9 3277.8 L1506.9 3275.7 L1507.9 3273.6 L1508.9 3271.4 L1509.9 3269.3 L1510.9 3267.3 L1511.9 3265.6 L1512.9 3264.3 L1513.9 3263.5 L1514.9 3263.4 L1515.9 3263.9 L1516.9 3264.9 L1517.9 3266.4 L1518.9 3268.1 L1519.9 3269.8 L1520.9 3271.6 L1521.9 3273.2 L1522.9 3274.8 L1523.9 3276.1 L1524.9 3277.4 L1525.9 3278.4 L1526.9 3279.4 L1527.9 3280.3 L1528.9 3281 L1529.9 3281.7 L1530.9 3282.3 L1531.9 3282.8 L1532.9 3283.3 L1533.9 3283.7 L1534.9 3284.1 L1535.9 3284.5 L1536.9 3284.8 L1537.9 3285.1 L1538.9 3285.4 L1539.9 3285.7 L1540.9 3286 L1541.9 3286.2 L1542.9 3286.5 L1543.9 3286.7 L1544.9 3286.9 L1545.9 3287.2 L1546.9 3287.4 L1547.9 3287.6 L1548.9 3287.9 L1549.9 3288.1 L1550.9 3288.4 L1551.9 3288.6 L1552.9 3288.9 L1553.9 3289.2 L1554.9 3289.5 L1555.9 3289.8 L1556.9 3290.2 L1557.9 3290.6 L1558.9 3291 L1559.9 3291.4 L1560.9 3291.9 L1561.9 3292.4 L1562.9 3293 L1563.9 3293.6 L1564.9 3294.2 L1565.9 3295 L1566.9 3295.8 L1567.9 3296.6 L1568.9 3297.4 L1569.9 3298.3 L1570.9 3299.2 L1571.9 3300.1 L1572.9 3300.9 L1573.9 3301.5 L1574.9 3302 L1575.9 3302.4 L1576.9 3302.5 L1577.9 3302.3 L1578.9 3302 L1579.9 3301.4 L1580.9 3300.8 L1581.9 3300 L1582.9 3299.2 L1583.9 3298.3 L1584.9 3297.4 L1585.9 3296.6 L1586.9 3295.8 L1587.9 3295 L1588.9 3294.2 L1589.9 3293.5 L1590.9 3292.7 L1591.9 3292 L1592.9 3291.2 L1593.9 3290.4 L1594.9 3289.4 L1595.9 3288.4 L1596.9 3287.2 L1597.9 3285.9 L1598.9 3284.4 L1599.9 3283.1 L1600.9 3282 L1601.9 3281.5 L1602.9 3281.7 L1603.9 3282.8 L1604.9 3284.3 L1605.9 3286.1 L1606.9 3287.8 L1607.9 3289.3 L1608.9 3290.5 L1609.9 3291.4 L1610.9 3292.1 L1611.9 3292.5 L1612.9 3292.7 L1613.9 3292.7 L1614.9 3292.6 L1615.9 3292.4 L1616.9 3292.2 L1617.9 3291.9 L1618.9 3291.6 L1619.9 3291.3 L1620.9 3291 L1621.9 3290.6 L1622.9 3290.3 L1623.9 3290 L1624.9 3289.7 L1625.9 3289.4 L1626.9 3289.1 L1627.9 3288.8 L1628.9 3288.4 L1629.9 3288.1 L1630.9 3287.8 L1631.9 3287.4 L1632.9 3287 L1633.9 3286.6 L1634.9 3286.1 L1635.9 3285.6 L1636.9 3285 L1637.9 3284.4 L1638.9 3283.7 L1639.9 3282.9 L1640.9 3281.9 L1641.9 3280.9 L1642.9 3279.8 L1643.9 3278.6 L1644.9 3277.4 L1645.9 3276.3 L1646.9 3275.3 L1647.9 3274.6 L1648.9 3274.5 L1649.9 3275.3 L1650.9 3277.1 L1651.9 3280.2 L1652.9 3284.6 L1653.9 3290.3 L1654.9 3297.2 L1655.9 3305.1 L1656.9 3313.7 L1657.9 3322.5 L1658.9 3331 L1659.9 3338.4 L1660.9 3344 L1661.9 3347 L1662.9 3347.4 L1663.9 3345.3 L1664.9 3341.3 L1665.9 3336.3 L1666.9 3330.9 L1667.9 3325.7 L1668.9 3320.8 L1669.9 3316.5 L1670.9 3312.7 L1671.9 3309.5 L1672.9 3306.7 L1673.9 3304.4 L1674.9 3302.4 L1675.9 3300.7 L1676.9 3299.3 L1677.9 3298 L1678.9 3297 L1679.9 3296.1 L1680.9 3295.3 L1681.9 3294.6 L1682.9 3294 L1683.9 3293.5 L1684.9 3293.1 L1685.9 3292.7 L1686.9 3292.4 L1687.9 3292.1 L1688.9 3291.8 L1689.9 3291.6 L1690.9 3291.4 L1691.9 3291.2 L1692.9 3291.1 L1693.9 3291 L1694.9 3290.9 L1695.9 3290.8 L1696.9 3290.8 L1697.9 3290.7 L1698.9 3290.7 L1699.9 3290.8 L1700.9 3290.8 L1701.9 3290.9 L1702.9 3291 L1703.9 3291.2 L1704.9 3291.4 L1705.9 3291.6 L1706.9 3291.9 L1707.9 3292.3 L1708.9 3292.8 L1709.9 3293.4 L1710.9 3294.2 L1711.9 3295.1 L1712.9 3296.2 L1713.9 3297.5 L1714.9 3298.9 L1715.9 3300.2 L1716.9 3301.2 L1717.9 3301.7 L1718.9 3301.5 L1719.9 3300.7 L1720.9 3299.5 L1721.9 3298.2 L1722.9 3296.9 L1723.9 3295.7 L1724.9 3294.8 L1725.9 3294 L1726.9 3293.4 L1727.9 3292.9 L1728.9 3292.5 L1729.9 3292.3 L1730.9 3292.1 L1731.9 3292 L1732.9 3291.9 L1733.9 3291.9 L1734.9 3292 L1735.9 3292.2 L1736.9 3292.4 L1737.9 3292.7 L1738.9 3293.1 L1739.9 3293.7 L1740.9 3294.3 L1741.9 3295.1 L1742.9 3296.1 L1743.9 3297.3 L1744.9 3298.7 L1745.9 3300.1 L1746.9 3301.4 L1747.9 3302.5 L1748.9 3303 L1749.9 3302.9 L1750.9 3302.3 L1751.9 3301.4 L1752.9 3300.6 L1753.9 3299.9 L1754.9 3299.5 L1755.9 3299.4 L1756.9 3299.5 L1757.9 3299.9 L1758.9 3300.5 L1759.9 3301.4 L1760.9 3302.3 L1761.9 3303.2 L1762.9 3303.9 L1763.9 3304.3 L1764.9 3304.3 L1765.9 3303.8 L1766.9 3302.8 L1767.9 3301.6 L1768.9 3300.2 L1769.9 3298.8 L1770.9 3297.5 L1771.9 3296.3 L1772.9 3295.3 L1773.9 3294.3 L1774.9 3293.5 L1775.9 3292.8 L1776.9 3292.2 L1777.9 3291.7 L1778.9 3291.3 L1779.9 3290.9 L1780.9 3290.5 L1781.9 3290.2 L1782.9 3290 L1783.9 3289.7 L1784.9 3289.5 L1785.9 3289.3 L1786.9 3289.1 L1787.9 3289 L1788.9 3288.8 L1789.9 3288.7 L1790.9 3288.6 L1791.9 3288.5 L1792.9 3288.4 L1793.9 3288.2 L1794.9 3288.1 L1795.9 3288 L1796.9 3288 L1797.9 3287.9 L1798.9 3287.8 L1799.9 3287.7 L1800.9 3287.6 L1801.9 3287.5 L1802.9 3287.4 L1803.9 3287.3 L1804.9 3287.2 L1805.9 3287.1 L1806.9 3287 L1807.9 3286.9 L1808.9 3286.7 L1809.9 3286.6 L1810.9 3286.5 L1811.9 3286.3 L1812.9 3286.1 L1813.9 3285.9 L1814.9 3285.7 L1815.9 3285.5 L1816.9 3285.2 L1817.9 3284.9 L1818.9 3284.6 L1819.9 3284.2 L1820.9 3283.7 L1821.9 3283.2 L1822.9 3282.7 L1823.9 3282 L1824.9 3281.4 L1825.9 3280.6 L1826.9 3279.8 L1827.9 3279 L1828.9 3278.2 L1829.9 3277.5 L1830.9 3277 L1831.9 3276.7 L1832.9 3276.7 L1833.9 3276.9 L1834.9 3277.4 L1835.9 3278 L1836.9 3278.8 L1837.9 3279.6 L1838.9 3280.4 L1839.9 3281.2 L1840.9 3281.9 L1841.9 3282.5 L1842.9 3283.1 L1843.9 3283.6 L1844.9 3284 L1845.9 3284.4 L1846.9 3284.8 L1847.9 3285.1 L1848.9 3285.4 L1849.9 3285.6 L1850.9 3285.8 L1851.9 3286 L1852.9 3286.2 L1853.9 3286.4 L1854.9 3286.5 L1855.9 3286.7 L1856.9 3286.8 L1857.9 3286.9 L1858.9 3287.1 L1859.9 3287.2 L1860.9 3287.3 L1861.9 3287.4 L1862.9 3287.5 L1863.9 3287.7 L1864.9 3287.8 L1865.9 3288 L1866.9 3288.1 L1867.9 3288.3 L1868.9 3288.5 L1869.9 3288.7 L1870.9 3288.9 L1871.9 3289.2 L1872.9 3289.5 L1873.9 3289.8 L1874.9 3290.2 L1875.9 3290.7 L1876.9 3291.2 L1877.9 3291.8 L1878.9 3292.6 L1879.9 3293.4 L1880.9 3294.3 L1881.9 3295.2 L1882.9 3296.1 L1883.9 3296.9 L1884.9 3297.4 L1885.9 3297.6 L1886.9 3297.3 L1887.9 3296.8 L1888.9 3296 L1889.9 3295.1 L1890.9 3294.1 L1891.9 3293.2 L1892.9 3292.4 L1893.9 3291.7 L1894.9 3291.1 L1895.9 3290.6 L1896.9 3290.2 L1897.9 3289.8 L1898.9 3289.4 L1899.9 3289.2 L1900.9 3288.9 L1901.9 3288.7 L1902.9 3288.5 L1903.9 3288.4 L1904.9 3288.2 L1905.9 3288.1 L1906.9 3287.9 L1907.9 3287.8 L1908.9 3287.7 L1909.9 3287.6 L1910.9 3287.5 L1911.9 3287.5 L1912.9 3287.4 L1913.9 3287.3 L1914.9 3287.2 L1915.9 3287.2 L1916.9 3287.1 L1917.9 3287 L1918.9 3286.9 L1919.9 3286.9 L1920.9 3286.8 L1921.9 3286.7 L1922.9 3286.6 L1923.9 3286.5 L1924.9 3286.5 L1925.9 3286.4 L1926.9 3286.3 L1927.9 3286.2 L1928.9 3286.1 L1929.9 3285.9 L1930.9 3285.8 L1931.9 3285.7 L1932.9 3285.5 L1933.9 3285.3 L1934.9 3285.2 L1935.9 3285 L1936.9 3284.7 L1937.9 3284.5 L1938.9 3284.2 L1939.9 3283.9 L1940.9 3283.6 L1941.9 3283.2 L1942.9 3282.7 L1943.9 3282.2 L1944.9 3281.7 L1945.9 3281 L1946.9 3280.3 L1947.9 3279.4 L1948.9 3278.5 L1949.9 3277.4 L1950.9 3276.2 L1951.9 3274.8 L1952.9 3273.4 L1953.9 3271.9 L1954.9 3270.4 L1955.9 3269 L1956.9 3267.8 L1957.9 3266.9 L1958.9 3266.6 L1959.9 3266.7 L1960.9 3267.4 L1961.9 3268.4 L1962.9 3269.8 L1963.9 3271.3 L1964.9 3272.8 L1965.9 3274.2 L1966.9 3275.6 L1967.9 3276.9 L1968.9 3278 L1969.9 3279 L1970.9 3279.9 L1971.9 3280.7 L1972.9 3281.3 L1973.9 3281.9 L1974.9 3282.4 L1975.9 3282.9 L1976.9 3283.3 L1977.9 3283.7 L1978.9 3284 L1979.9 3284.3 L1980.9 3284.5 L1981.9 3284.7 L1982.9 3284.9 L1983.9 3285.1 L1984.9 3285.3 L1985.9 3285.4 L1986.9 3285.6 L1987.9 3285.7 L1988.9 3285.8 L1989.9 3285.9 L1990.9 3286 L1991.9 3286.1 L1992.9 3286.2 L1993.9 3286.2 L1994.9 3286.3 L1995.9 3286.4 L1996.9 3286.4 L1997.9 3286.5 L1998.9 3286.5 L1999.9 3286.6 L2000.9 3286.6 L2001.9 3286.6 L2002.9 3286.7 L2003.9 3286.7 L2004.9 3286.8 L2005.9 3286.8 L2006.9 3286.8 L2007.9 3286.8 L2008.9 3286.9 L2009.9 3286.9 L2010.9 3286.9 L2011.9 3286.9 L2012.9 3287 L2013.9 3287 L2014.9 3287 L2015.9 3287 L2016.9 3287 L2017.9 3287 L2018.9 3287.1 L2019.9 3287.1 L2020.9 3287.1 L2021.9 3287.1 L2022.9 3287.1 L2023.9 3287.1 L2024.9 3287.1 L2025.9 3287.1 L2026.9 3287.2 L2027.9 3287.2" fill="none" stroke="#FF0000" stroke-width="6.3" stroke-linejoin="round" stroke-linecap="round"/>
<path d="M278.9 3744 L279.9 3744 L280.9 3744 L281.9 3744 L282.9 3744 L283.9 3744 L284.9 3744 L285.9 3744 L286.9 3744 L287.9 3744 L288.9 3744 L289.9 3744 L290.9 3744 L291.9 3744 L292.9 3744 L293.9 3744 L294.9 3744 L295.9 3744 L296.9 3744 L297.9 3744 L298.9 3744 L299.9 3744 L300.9 3744 L301.9 3744 L302.9 3744 L303.9 3744 L304.9 3744 L305.9 3744 L306.9 3744 L307.9 3744 L308.9 3744 L309.9 3744 L310.9 3744 L311.9 3744 L312.9 3744 L313.9 3744 L314.9 3744 L315.9 3744 L316.9 3744 L317.9 3744 L318.9 3744.1 L319.9 3744.1 L320.9 3744.1 L321.9 3744.1 L322.9 3744.1 L323.9 3744.1 L324.9 3744.1 L325.9 3744.1 L326.9 3744.1 L327.9 3744.1 L328.9 3744.1 L329.9 3744.1 L330.9 3744.1 L331.9 3744.1 L332.9 3744.1 L333.9 3744.1 L334.9 3744.1 L335.9 3744.1 L336.9 3744.1 L337.9 3744.1 L338.9 3744.1 L339.9 3744.1 L340.9 3744.1 L341.9 3744.1 L342.9 3744.1 L343.9 3744.1 L344.9 3744.1 L345.9 3744.1 L346.9 3744.1 L347.9 3744.1 L348.9 3744.1 L349.9 3744.1 L350.9 3744.1 L351.9 3744.1 L352.9 3744.1 L353.9 3744.1 L354.9 3744.1 L355.9 3744.1 L356.9 3744.1 L357.9 3744.1 L358.9 3744.1 L359.9 3744.1 L360.9 3744.1 L361.9 3744.1 L362.9 3744.1 L363.9 3744.1 L364.9 3744.1 L365.9 3744.1 L366.9 3744.1 L367.9 3744.1 L368.9 3744.1 L369.9 3744.1 L370.9 3744.1 L371.9 3744.1 L372.9 3744.1 L373.9 3744.1 L374.9 3744.1 L375.9 3744.1 L376.9 3744.1 L377.9 3744.1 L378.9 3744.1 L379.9 3744.1 L380.9 3744.1 L381.9 3744.1 L382.9 3744.1 L383.9 3744.1 L384.9 3744.1 L385.9 3744.1 L386.9 3744.1 L387.9 3744.1 L388.9 3744.1 L389.9 3744.1 L390.9 3744.1 L391.9 3744.1 L392.9 3744.1 L393.9 3744.1 L394.9 3744.1 L395.9 3744.1 L396.9 3744.1 L397.9 3744.1 L398.9 3744.1 L399.9 3744.1 L400.9 3744.1 L401.9 3744.1 L402.9 3744.1 L403.9 3744.1 L404.9 3744.1 L405.9 3744.1 L406.9 3744.1 L407.9 3744.1 L408.9 3744.1 L409.9 3744.1 L410.9 3744.1 L411.9 3744.1 L412.9 3744.1 L413.9 3744.1 L414.9 3744.1 L415.9 3744.1 L416.9 3744.1 L417.9 3744.1 L418.9 3744.1 L419.9 3744.1 L420.9 3744.1 L421.9 3744.1 L422.9 3744.1 L423.9 3744.1 L424.9 3744.1 L425.9 3744.1 L426.9 3744.1 L427.9 3744.1 L428.9 3744.1 L429.9 3744.1 L430.9 3744.1 L431.9 3744.1 L432.9 3744.1 L433.9 3744.1 L434.9 3744.1 L435.9 3744.1 L436.9 3744.1 L437.9 3744.1 L438.9 3744.1 L439.9 3744.1 L440.9 3744.1 L441.9 3744.1 L442.9 3744.1 L443.9 3744.1 L444.9 3744.1 L445.9 3744.1 L446.9 3744.1 L447.9 3744.1 L448.9 3744.1 L449.9 3744.1 L450.9 3744.1 L451.9 3744.1 L452.9 3744.1 L453.9 3744.1 L454.9 3744.1 L455.9 3744.1 L456.9 3744.1 L457.9 3744.1 L458.9 3744.1 L459.9 3744.1 L460.9 3744.1 L461.9 3744.1 L462.9 3744.1 L463.9 3744.1 L464.9 3744.1 L465.9 3744.2 L466.9 3744.2 L467.9 3744.2 L468.9 3744.2 L469.9 3744.2 L470.9 3744.2 L471.9 3744.2 L472.9 3744.2 L473.9 3744.2 L474.9 3744.2 L475.9 3744.2 L476.9 3744.2 L477.9 3744.2 L478.9 3744.2 L479.9 3744.2 L480.9 3744.2 L481.9 3744.2 L482.9 3744.2 L483.9 3744.2 L484.9 3744.2 L485.9 3744.2 L486.9 3744.2 L487.9 3744.2 L488.9 3744.2 L489.9 3744.2 L490.9 3744.2 L491.9 3744.2 L492.9 3744.2 L493.9 3744.2 L494.9 3744.2 L495.9 3744.2 L496.9 3744.2 L497.9 3744.2 L498.9 3744.2 L499.9 3744.2 L500.9 3744.2 L501.9 3744.2 L502.9 3744.2 L503.9 3744.2 L504.9 3744.2 L505.9 3744.2 L506.9 3744.2 L507.9 3744.2 L508.9 3744.2 L509.9 3744.2 L510.9 3744.2 L511.9 3744.2 L512.9 3744.2 L513.9 3744.2 L514.9 3744.2 L515.9 3744.2 L516.9 3744.2 L517.9 3744.3 L518.9 3744.3 L519.9 3744.3 L520.9 3744.3 L521.9 3744.3 L522.9 3744.3 L523.9 3744.3 L524.9 3744.3 L525.9 3744.3 L526.9 3744.3 L527.9 3744.3 L528.9 3744.3 L529.9 3744.3 L530.9 3744.3 L531.9 3744.3 L532.9 3744.3 L533.9 3744.3 L534.9 3744.3 L535.9 3744.3 L536.9 3744.3 L537.9 3744.3 L538.9 3744.3 L539.9 3744.3 L540.9 3744.3 L541.9 3744.3 L542.9 3744.3 L543.9 3744.3 L544.9 3744.3 L545.9 3744.3 L546.9 3744.3 L547.9 3744.4 L548.9 3744.4 L549.9 3744.4 L550.9 3744.4 L551.9 3744.4 L552.9 3744.4 L553.9 3744.4 L554.9 3744.4 L555.9 3744.4 L556.9 3744.4 L557.9 3744.4 L558.9 3744.4 L559.9 3744.4 L560.9 3744.4 L561.9 3744.4 L562.9 3744.4 L563.9 3744.4 L564.9 3744.4 L565.9 3744.4 L566.9 3744.4 L567.9 3744.4 L568.9 3744.4 L569.9 3744.5 L570.9 3744.5 L571.9 3744.5 L572.9 3744.5 L573.9 3744.5 L574.9 3744.5 L575.9 3744.5 L576.9 3744.5 L577.9 3744.5 L578.9 3744.5 L579.9 3744.5 L580.9 3744.5 L581.9 3744.5 L582.9 3744.5 L583.9 3744.5 L584.9 3744.5 L585.9 3744.5 L586.9 3744.5 L587.9 3744.5 L588.9 3744.6 L589.9 3744.6 L590.9 3744.6 L591.9 3744.6 L592.9 3744.6 L593.9 3744.6 L594.9 3744.6 L595.9 3744.6 L596.9 3744.6 L597.9 3744.6 L598.9 3744.6 L599.9 3744.6 L600.9 3744.6 L601.9 3744.6 L602.9 3744.5 L603.9 3744.5 L604.9 3744.5 L605.9 3744.4 L606.9 3744.4 L607.9 3744.3 L608.9 3744.3 L609.9 3744.2 L610.9 3744.1 L611.9 3744.1 L612.9 3744 L613.9 3743.9 L614.9 3743.9 L615.9 3743.8 L616.9 3743.7 L617.9 3743.6 L618.9 3743.5 L619.9 3743.4 L621 3743.3 L623.3 3743 L625 3742.7 L626.7 3742.3 L628.4 3741.9 L630 3741.4 L631.6 3740.9 L633.2 3740.4 L634.7 3739.8 L636.1 3739.1 L637.5 3738.3 L638.8 3737.5 L639.9 3736.7 L641 3735.8 L642.1 3734.8 L643.1 3733.8 L644 3732.7 L644.9 3731.6 L645.7 3730.4 L646.6 3729.2 L647.3 3727.9 L648.1 3726.6 L648.9 3725 L649.7 3723.3 L650.4 3721.6 L651.1 3719.8 L651.7 3717.9 L652.2 3716 L652.8 3714 L653.3 3712 L653.8 3710 L654.3 3708 L654.8 3705.7 L655.3 3703.3 L655.7 3700.9 L656.1 3698.5 L656.5 3696 L656.9 3693.5 L657.2 3691 L657.5 3688.4 L657.9 3685.8 L658.2 3683.2 L658.6 3680.3 L658.9 3677.3 L659.2 3674.2 L659.5 3671.2 L659.9 3668.1 L660.1 3665 L660.4 3661.8 L660.7 3658.6 L661 3655.4 L661.3 3652.1 L661.6 3648.3 L661.8 3644.2 L662.1 3639.9 L662.3 3635.5 L662.5 3631.2 L662.7 3627 L663 3623 L663.4 3619.3 L663.8 3616 L664.4 3613.3 L664.7 3612.1 L665.1 3610.9 L665.5 3609.7 L665.9 3608.5 L666.4 3607.5 L666.8 3606.6 L667.2 3605.8 L667.6 3605.2 L668 3604.9 L668.3 3604.8 L668.7 3605.1 L669 3605.9 L669.3 3607.1 L669.5 3608.6 L669.8 3610.5 L670 3612.5 L670.2 3614.6 L670.3 3616.8 L670.5 3619 L670.7 3621.1 L671 3624.7 L671.2 3628.8 L671.4 3633.1 L671.5 3637.7 L671.7 3642.4 L671.8 3647.4 L671.9 3652.4 L672 3657.5 L672.1 3662.6 L672.2 3667.6 L672.4 3673.5 L672.5 3679.5 L672.7 3685.6 L672.9 3691.8 L673 3698.1 L673.2 3704.5 L673.3 3710.9 L673.5 3717.2 L673.6 3723.5 L673.8 3729.8 L674 3736 L674.1 3742.2 L674.2 3748.4 L674.4 3754.6 L674.5 3760.9 L674.6 3767.1 L674.8 3773.3 L675 3779.5 L675.1 3785.7 L675.3 3791.9 L675.5 3798.1 L675.7 3804.3 L675.9 3810.5 L676.1 3816.7 L676.4 3823 L676.6 3829.2 L676.8 3835.4 L677.1 3841.6 L677.3 3847.8 L677.6 3854 L677.9 3860.3 L678.2 3866.6 L678.5 3872.9 L678.8 3879.3 L679.1 3885.6 L679.4 3891.9 L679.8 3898.1 L680.1 3904.3 L680.4 3910.3 L680.7 3916.1 L680.9 3921.2 L681.1 3926.3 L681.3 3931.5 L681.5 3936.7 L681.7 3941.7 L681.9 3946.5 L682.1 3951.1 L682.4 3955.4 L682.7 3959.3 L683.1 3962.7 L683.3 3964.4 L683.6 3966.1 L683.8 3967.8 L684.1 3969.4 L684.4 3971 L684.6 3972.3 L684.9 3973.5 L685.2 3974.4 L685.4 3974.9 L685.7 3975.1 L686.1 3974.6 L686.5 3973.2 L686.9 3971 L687.2 3968.3 L687.6 3965 L688 3961.5 L688.3 3957.8 L688.7 3954.1 L689 3950.4 L689.3 3947.1 L689.6 3942.9 L689.9 3938.6 L690.2 3934 L690.4 3929.4 L690.6 3924.6 L690.8 3919.8 L691 3914.9 L691.2 3910.1 L691.4 3905.3 L691.6 3900.6 L691.8 3895.9 L692 3891.2 L692.3 3886.5 L692.5 3881.8 L692.7 3877 L692.9 3872.3 L693.1 3867.7 L693.4 3863 L693.6 3858.5 L693.9 3854 L694.2 3850 L694.4 3845.9 L694.7 3842 L695 3838 L695.3 3834.1 L695.6 3830.2 L695.9 3826.4 L696.2 3822.6 L696.6 3818.9 L697 3815.2 L697.4 3811.9 L697.8 3808.6 L698.1 3805.4 L698.6 3802.2 L699 3799 L699.4 3795.8 L699.9 3792.8 L700.5 3789.8 L701.1 3786.9 L701.7 3784.1 L702.3 3781.8 L702.8 3779.6 L703.4 3777.4 L703.9 3775.3 L704.6 3773.2 L705.2 3771.1 L706 3769.2 L706.8 3767.3 L707.7 3765.6 L708.7 3763.9 L709.7 3762.5 L710.7 3761.2 L711.8 3760 L713 3758.8 L714.2 3757.7 L715.5 3756.6 L716.9 3755.7 L718.2 3754.7 L719.6 3753.8 L721.1 3753 L722.7 3752.2 L724.4 3751.4 L726.1 3750.8 L727.9 3750.2 L729.8 3749.7 L731.7 3749.2 L733.6 3748.8 L735.6 3748.4 L737.7 3748 L739.8 3747.6 L742.6 3747.2 L745.5 3746.8 L748.5 3746.5 L751.7 3746.2 L754.8 3746 L758.1 3745.9 L761.3 3745.7 L764.5 3745.6 L767.7 3745.4 L770.8 3745.3 L774 3745.2 L777.6 3745 L780.9 3744.9 L781.9 3744.9 L782.9 3744.9 L783.9 3744.9 L784.9 3744.9 L785.9 3744.9 L786.9 3744.9 L787.9 3744.9 L788.9 3745 L789.9 3745 L790.9 3745 L791.9 3745 L792.9 3745 L793.9 3745.1 L794.9 3745.1 L795.9 3745.1 L796.9 3745.1 L797.9 3745.1 L798.9 3745.1 L799.9 3745.1 L800.9 3745.1 L801.9 3745.1 L802.9 3745.1 L803.9 3745.1 L804.9 3745 L805.9 3745 L806.9 3745 L807.9 3745 L808.9 3745 L809.9 3745 L810.9 3745 L811.9 3745 L812.9 3745 L813.9 3745 L814.9 3745 L815.9 3745 L816.9 3745 L817.9 3745 L818.9 3745 L819.9 3745 L820.9 3745 L821.9 3745.1 L822.9 3745.1 L823.9 3745.1 L824.9 3745.1 L825.9 3745.1 L826.9 3745.1 L827.9 3745.1 L828.9 3745.2 L829.9 3745.2 L830.9 3745.2 L831.9 3745.2 L832.9 3745.3 L833.9 3745.3 L834.9 3745.4 L835.9 3745.4 L836.9 3745.4 L837.9 3745.5 L838.9 3745.6 L839.9 3745.6 L840.9 3745.7 L841.9 3745.8 L842.9 3745.9 L843.9 3745.9 L844.9 3746.1 L845.9 3746.2 L846.9 3746.3 L847.9 3746.4 L848.9 3746.6 L849.9 3746.8 L850.9 3747 L851.9 3747.2 L852.9 3747.5 L853.9 3747.8 L854.9 3748.1 L855.9 3748.5 L856.9 3748.9 L857.9 3749.4 L858.9 3750 L859.9 3750.7 L860.9 3751.6 L861.9 3752.6 L862.9 3753.7 L863.9 3755.1 L864.9 3756.8 L865.9 3758.9 L866.9 3761.4 L867.9 3764.4 L868.9 3768 L869.9 3772.2 L870.9 3776.8 L871.9 3781.4 L872.9 3785.5 L873.9 3788.1 L874.9 3788.5 L875.9 3786.7 L876.9 3783.1 L877.9 3778.6 L878.9 3773.9 L879.9 3769.6 L880.9 3765.7 L881.9 3762.5 L882.9 3759.7 L883.9 3757.5 L884.9 3755.6 L885.9 3754.1 L886.9 3752.8 L887.9 3751.7 L888.9 3750.8 L889.9 3750.1 L890.9 3749.4 L891.9 3748.9 L892.9 3748.4 L893.9 3747.9 L894.9 3747.6 L895.9 3747.2 L896.9 3747 L897.9 3746.7 L898.9 3746.5 L899.9 3746.3 L900.9 3746.1 L901.9 3745.9 L902.9 3745.8 L903.9 3745.6 L904.9 3745.5 L905.9 3745.4 L906.9 3745.3 L907.9 3745.2 L908.9 3745.1 L909.9 3745 L910.9 3744.9 L911.9 3744.9 L912.9 3744.8 L913.9 3744.7 L914.9 3744.7 L915.9 3744.6 L916.9 3744.5 L917.9 3744.5 L918.9 3744.4 L919.9 3744.4 L920.9 3744.3 L921.9 3744.3 L922.9 3744.3 L923.9 3744.2 L924.9 3744.2 L925.9 3744.1 L926.9 3744.1 L927.9 3744.1 L928.9 3744 L929.9 3744 L930.9 3744 L931.9 3743.9 L932.9 3743.9 L933.9 3743.9 L934.9 3743.9 L935.9 3743.8 L936.9 3743.8 L937.9 3743.8 L938.9 3743.7 L939.9 3743.7 L940.9 3743.7 L941.9 3743.7 L942.9 3743.6 L943.9 3743.6 L944.9 3743.6 L945.9 3743.5 L946.9 3743.5 L947.9 3743.5 L948.9 3743.5 L949.9 3743.4 L950.9 3743.4 L951.9 3743.4 L952.9 3743.3 L953.9 3743.3 L954.9 3743.3 L955.9 3743.3 L956.9 3743.2 L957.9 3743.2 L958.9 3743.2 L959.9 3743.1 L960.9 3743.1 L961.9 3743.1 L962.9 3743 L963.9 3743 L964.9 3743 L965.9 3743 L966.9 3742.9 L967.9 3742.9 L968.9 3742.9 L969.9 3742.9 L970.9 3742.8 L971.9 3742.8 L972.9 3742.8 L973.9 3742.8 L974.9 3742.8 L975.9 3742.8 L976.9 3742.9 L977.9 3742.9 L978.9 3743 L979.9 3743.1 L980.9 3743.3 L981.9 3743.5 L982.9 3743.7 L983.9 3744.1 L984.9 3744.5 L985.9 3745 L986.9 3745.6 L987.9 3746.2 L988.9 3746.6 L989.9 3746.7 L990.9 3746.3 L991.9 3745.4 L992.9 3744.1 L993.9 3742.5 L994.9 3740.8 L995.9 3739.1 L996.9 3737.2 L997.9 3735.3 L998.9 3733.2 L999.9 3731 L1000.9 3728.6 L1001.9 3726 L1002.9 3723.5 L1003.9 3721.2 L1004.9 3719.5 L1005.9 3718.5 L1006.9 3718.5 L1007.9 3719.5 L1008.9 3721 L1009.9 3722.9 L1010.9 3724.8 L1011.9 3726.6 L1012.9 3728.1 L1013.9 3729.4 L1014.9 3730.5 L1015.9 3731.3 L1016.9 3731.9 L1017.9 3732.4 L1018.9 3732.7 L1019.9 3732.9 L1020.9 3733 L1021.9 3732.9 L1022.9 3732.8 L1023.9 3732.6 L1024.9 3732.3 L1025.9 3732 L1026.9 3731.5 L1027.9 3731 L1028.9 3730.4 L1029.9 3729.6 L1030.9 3728.8 L1031.9 3727.9 L1032.9 3726.8 L1033.9 3725.6 L1034.9 3724.2 L1035.9 3722.7 L1036.9 3720.9 L1037.9 3718.9 L1038.9 3716.6 L1039.9 3714.1 L1040.9 3711.2 L1041.9 3707.8 L1042.9 3704.1 L1043.9 3699.8 L1044.9 3694.9 L1045.9 3689.5 L1046.9 3683.5 L1047.9 3676.8 L1048.9 3669.7 L1049.9 3662.4 L1050.9 3655 L1051.9 3648.2 L1052.9 3642.5 L1053.9 3638.5 L1054.9 3636.6 L1055.9 3637.1 L1056.9 3640 L1057.9 3644.8 L1058.9 3651.1 L1059.9 3658.2 L1060.9 3665.6 L1061.9 3672.9 L1062.9 3679.9 L1063.9 3686.3 L1064.9 3692.2 L1065.9 3697.4 L1066.9 3702 L1067.9 3706.1 L1068.9 3709.8 L1069.9 3713 L1070.9 3715.8 L1071.9 3718.3 L1072.9 3720.5 L1073.9 3722.5 L1074.9 3724.2 L1075.9 3725.8 L1076.9 3727.2 L1077.9 3728.4 L1078.9 3729.5 L1079.9 3730.6 L1080.9 3731.5 L1081.9 3732.3 L1082.9 3733.1 L1083.9 3733.8 L1084.9 3734.4 L1085.9 3735 L1086.9 3735.5 L1087.9 3736 L1088.9 3736.4 L1089.9 3736.9 L1090.9 3737.2 L1091.9 3737.6 L1092.9 3737.9 L1093.9 3738.3 L1094.9 3738.5 L1095.9 3738.8 L1096.9 3739.1 L1097.9 3739.3 L1098.9 3739.5 L1099.9 3739.8 L1100.9 3740 L1101.9 3740.1 L1102.9 3740.3 L1103.9 3740.5 L1104.9 3740.7 L1105.9 3740.8 L1106.9 3741 L1107.9 3741.1 L1108.9 3741.3 L1109.9 3741.4 L1110.9 3741.5 L1111.9 3741.6 L1112.9 3741.8 L1113.9 3741.9 L1114.9 3742 L1115.9 3742.1 L1116.9 3742.2 L1117.9 3742.3 L1118.9 3742.4 L1119.9 3742.5 L1120.9 3742.6 L1121.9 3742.7 L1122.9 3742.8 L1123.9 3742.9 L1124.9 3743 L1125.9 3743.2 L1126.9 3743.3 L1127.9 3743.4 L1128.9 3743.5 L1129.9 3743.6 L1130.9 3743.7 L1131.9 3743.8 L1132.9 3744 L1133.9 3744.1 L1134.9 3744.2 L1135.9 3744.4 L1136.9 3744.5 L1137.9 3744.7 L1138.9 3744.9 L1139.9 3745 L1140.9 3745.2 L1141.9 3745.4 L1142.9 3745.7 L1143.9 3745.9 L1144.9 3746.2 L1145.9 3746.5 L1146.9 3746.8 L1147.9 3747.1 L1148.9 3747.5 L1149.9 3747.9 L1150.9 3748.4 L1151.9 3749 L1152.9 3749.5 L1153.9 3750.2 L1154.9 3751 L1155.9 3751.8 L1156.9 3752.8 L1157.9 3753.9 L1158.9 3755.2 L1159.9 3756.6 L1160.9 3758.2 L1161.9 3760.1 L1162.9 3762.1 L1163.9 3764.4 L1164.9 3767 L1165.9 3769.7 L1166.9 3772.4 L1167.9 3775.1 L1168.9 3777.5 L1169.9 3779.3 L1170.9 3780.4 L1171.9 3780.6 L1172.9 3779.8 L1173.9 3778.3 L1174.9 3776 L1175.9 3773.5 L1176.9 3770.7 L1177.9 3768 L1178.9 3765.4 L1179.9 3762.9 L1180.9 3760.8 L1181.9 3758.8 L1182.9 3757.1 L1183.9 3755.6 L1184.9 3754.2 L1185.9 3753.1 L1186.9 3752 L1187.9 3751.1 L1188.9 3750.3 L1189.9 3749.6 L1190.9 3749 L1191.9 3748.4 L1192.9 3747.9 L1193.9 3747.4 L1194.9 3747 L1195.9 3746.6 L1196.9 3746.2 L1197.9 3745.9 L1198.9 3745.5 L1199.9 3745.2 L1200.9 3744.9 L1201.9 3744.6 L1202.9 3744.4 L1203.9 3744.1 L1204.9 3743.8 L1205.9 3743.5 L1206.9 3743.1 L1207.9 3742.8 L1208.9 3742.4 L1209.9 3742.1 L1210.9 3741.7 L1211.9 3741.3 L1212.9 3741 L1213.9 3740.8 L1214.9 3740.8 L1215.9 3740.9 L1216.9 3741.1 L1217.9 3741.4 L1218.9 3741.8 L1219.9 3742.1 L1220.9 3742.5 L1221.9 3742.9 L1222.9 3743.3 L1223.9 3743.8 L1224.9 3744.2 L1225.9 3744.7 L1226.9 3745.3 L1227.9 3746 L1228.9 3746.7 L1229.9 3747.6 L1230.9 3748.5 L1231.9 3749.5 L1232.9 3750.5 L1233.9 3751.5 L1234.9 3752.3 L1235.9 3752.9 L1236.9 3753 L1237.9 3752.8 L1238.9 3752.3 L1239.9 3751.5 L1240.9 3750.7 L1241.9 3750 L1242.9 3749.4 L1243.9 3749.1 L1244.9 3749.2 L1245.9 3749.6 L1246.9 3750.4 L1247.9 3751.6 L1248.9 3753.1 L1249.9 3754.5 L1250.9 3755.4 L1251.9 3755.2 L1252.9 3753.1 L1253.9 3749.1 L1254.9 3743.2 L1255.9 3735.9 L1256.9 3727.8 L1257.9 3719.2 L1258.9 3710.4 L1259.9 3701.4 L1260.9 3692.1 L1261.9 3682.6 L1262.9 3673 L1263.9 3663.3 L1264.9 3654 L1265.9 3645.3 L1266.9 3638 L1267.9 3632.5 L1268.9 3629.5 L1269.9 3629.2 L1270.9 3631.5 L1271.9 3636.2 L1272.9 3642.5 L1273.9 3649.9 L1274.9 3657.8 L1275.9 3665.6 L1276.9 3673.1 L1277.9 3680.1 L1278.9 3686.5 L1279.9 3692.2 L1280.9 3697.3 L1281.9 3701.9 L1282.9 3705.8 L1283.9 3709.4 L1284.9 3712.4 L1285.9 3715.2 L1286.9 3717.6 L1287.9 3719.7 L1288.9 3721.6 L1289.9 3723.2 L1290.9 3724.7 L1291.9 3726 L1292.9 3727.2 L1293.9 3728.2 L1294.9 3729.1 L1295.9 3729.9 L1296.9 3730.6 L1297.9 3731.3 L1298.9 3731.8 L1299.9 3732.3 L1300.9 3732.7 L1301.9 3733.1 L1302.9 3733.4 L1303.9 3733.6 L1304.9 3733.7 L1305.9 3733.8 L1306.9 3733.7 L1307.9 3733.6 L1308.9 3733.4 L1309.9 3733 L1310.9 3732.6 L1311.9 3732.1 L1312.9 3731.5 L1313.9 3731.1 L1314.9 3731 L1315.9 3731.1 L1316.9 3731.6 L1317.9 3732.2 L1318.9 3732.8 L1319.9 3733.4 L1320.9 3734 L1321.9 3734.4 L1322.9 3734.7 L1323.9 3734.9 L1324.9 3735 L1325.9 3735 L1326.9 3734.9 L1327.9 3734.8 L1328.9 3734.6 L1329.9 3734.4 L1330.9 3734.1 L1331.9 3733.7 L1332.9 3733.2 L1333.9 3732.6 L1334.9 3732 L1335.9 3731.2 L1336.9 3730.3 L1337.9 3729.3 L1338.9 3728.1 L1339.9 3726.8 L1340.9 3725.2 L1341.9 3723.4 L1342.9 3721.4 L1343.9 3719 L1344.9 3716.4 L1345.9 3713.4 L1346.9 3710 L1347.9 3706.4 L1348.9 3702.5 L1349.9 3698.5 L1350.9 3694.6 L1351.9 3691.2 L1352.9 3688.5 L1353.9 3686.9 L1354.9 3686.7 L1355.9 3687.7 L1356.9 3690.1 L1357.9 3693.4 L1358.9 3697.3 L1359.9 3701.5 L1360.9 3705.8 L1361.9 3709.9 L1362.9 3713.8 L1363.9 3717.4 L1364.9 3720.6 L1365.9 3723.6 L1366.9 3726.2 L1367.9 3728.6 L1368.9 3730.8 L1369.9 3732.9 L1370.9 3734.8 L1371.9 3736.5 L1372.9 3738.2 L1373.9 3739.9 L1374.9 3741.5 L1375.9 3743.2 L1376.9 3744.9 L1377.9 3746.7 L1378.9 3748.7 L1379.9 3750.7 L1380.9 3753 L1381.9 3755.6 L1382.9 3758.5 L1383.9 3761.7 L1384.9 3765.3 L1385.9 3769.3 L1386.9 3773.5 L1387.9 3777.9 L1388.9 3782 L1389.9 3785.5 L1390.9 3787.8 L1391.9 3788.6 L1392.9 3787.8 L1393.9 3785.6 L1394.9 3782.3 L1395.9 3778.5 L1396.9 3774.6 L1397.9 3770.8 L1398.9 3767.3 L1399.9 3764.2 L1400.9 3761.5 L1401.9 3759.2 L1402.9 3757.2 L1403.9 3755.5 L1404.9 3754 L1405.9 3752.8 L1406.9 3751.7 L1407.9 3750.8 L1408.9 3750 L1409.9 3749.3 L1410.9 3748.7 L1411.9 3748.2 L1412.9 3747.8 L1413.9 3747.4 L1414.9 3747 L1415.9 3746.7 L1416.9 3746.4 L1417.9 3746.2 L1418.9 3745.9 L1419.9 3745.7 L1420.9 3745.6 L1421.9 3745.4 L1422.9 3745.2 L1423.9 3745.1 L1424.9 3745 L1425.9 3744.9 L1426.9 3744.8 L1427.9 3744.7 L1428.9 3744.6 L1429.9 3744.5 L1430.9 3744.4 L1431.9 3744.4 L1432.9 3744.3 L1433.9 3744.3 L1434.9 3744.2 L1435.9 3744.1 L1436.9 3744.1 L1437.9 3744 L1438.9 3744 L1439.9 3744 L1440.9 3743.9 L1441.9 3743.9 L1442.9 3743.8 L1443.9 3743.8 L1444.9 3743.8 L1445.9 3743.7 L1446.9 3743.7 L1447.9 3743.7 L1448.9 3743.6 L1449.9 3743.6 L1450.9 3743.5 L1451.9 3743.5 L1452.9 3743.5 L1453.9 3743.4 L1454.9 3743.4 L1455.9 3743.3 L1456.9 3743.3 L1457.9 3743.3 L1458.9 3743.2 L1459.9 3743.2 L1460.9 3743.1 L1461.9 3743 L1462.9 3743 L1463.9 3742.9 L1464.9 3742.9 L1465.9 3742.8 L1466.9 3742.7 L1467.9 3742.6 L1468.9 3742.5 L1469.9 3742.4 L1470.9 3742.3 L1471.9 3742.2 L1472.9 3742 L1473.9 3741.9 L1474.9 3741.7 L1475.9 3741.5 L1476.9 3741.3 L1477.9 3741.1 L1478.9 3740.8 L1479.9 3740.5 L1480.9 3740.1 L1481.9 3739.7 L1482.9 3739.3 L1483.9 3738.8 L1484.9 3738.2 L1485.9 3737.5 L1486.9 3736.6 L1487.9 3735.7 L1488.9 3734.5 L1489.9 3733.2 L1490.9 3731.6 L1491.9 3729.7 L1492.9 3727.4 L1493.9 3724.8 L1494.9 3721.8 L1495.9 3718.6 L1496.9 3715.2 L1497.9 3712 L1498.9 3709.4 L1499.9 3708 L1500.9 3708 L1501.9 3709.5 L1502.9 3712.1 L1503.9 3715.3 L1504.9 3718.8 L1505.9 3722.1 L1506.9 3725.1 L1507.9 3727.8 L1508.9 3730.1 L1509.9 3732 L1510.9 3733.7 L1511.9 3735.1 L1512.9 3736.3 L1513.9 3737.3 L1514.9 3738.2 L1515.9 3738.9 L1516.9 3739.6 L1517.9 3740.2 L1518.9 3740.7 L1519.9 3741.2 L1520.9 3741.6 L1521.9 3742 L1522.9 3742.3 L1523.9 3742.7 L1524.9 3743 L1525.9 3743.2 L1526.9 3743.5 L1527.9 3743.8 L1528.9 3744 L1529.9 3744.3 L1530.9 3744.5 L1531.9 3744.8 L1532.9 3745 L1533.9 3745.3 L1534.9 3745.5 L1535.9 3745.8 L1536.9 3746.1 L1537.9 3746.4 L1538.9 3746.7 L1539.9 3747 L1540.9 3747.4 L1541.9 3747.7 L1542.9 3748.1 L1543.9 3748.6 L1544.9 3749.1 L1545.9 3749.6 L1546.9 3750.2 L1547.9 3750.9 L1548.9 3751.6 L1549.9 3752.4 L1550.9 3753.4 L1551.9 3754.4 L1552.9 3755.6 L1553.9 3757 L1554.9 3758.5 L1555.9 3760.3 L1556.9 3762.4 L1557.9 3764.8 L1558.9 3767.5 L1559.9 3770.7 L1560.9 3774.3 L1561.9 3778.4 L1562.9 3783 L1563.9 3788 L1564.9 3793.4 L1565.9 3798.7 L1566.9 3803.7 L1567.9 3807.8 L1568.9 3810.3 L1569.9 3810.8 L1570.9 3809 L1571.9 3805 L1572.9 3799.1 L1573.9 3792 L1574.9 3784 L1575.9 3775.6 L1576.9 3767.1 L1577.9 3758.6 L1578.9 3750.2 L1579.9 3741.9 L1580.9 3733.8 L1581.9 3726 L1582.9 3719 L1583.9 3713.2 L1584.9 3709 L1585.9 3706.9 L1586.9 3706.7 L1587.9 3708.3 L1588.9 3711.1 L1589.9 3714.5 L1590.9 3718.1 L1591.9 3721.6 L1592.9 3724.7 L1593.9 3727.5 L1594.9 3730 L1595.9 3732 L1596.9 3733.8 L1597.9 3735.3 L1598.9 3736.5 L1599.9 3737.6 L1600.9 3738.5 L1601.9 3739.2 L1602.9 3739.9 L1603.9 3740.4 L1604.9 3740.9 L1605.9 3741.3 L1606.9 3741.7 L1607.9 3742 L1608.9 3742.2 L1609.9 3742.5 L1610.9 3742.7 L1611.9 3742.8 L1612.9 3743 L1613.9 3743.1 L1614.9 3743.3 L1615.9 3743.4 L1616.9 3743.5 L1617.9 3743.6 L1618.9 3743.6 L1619.9 3743.7 L1620.9 3743.8 L1621.9 3743.8 L1622.9 3743.9 L1623.9 3743.9 L1624.9 3744 L1625.9 3744 L1626.9 3744.1 L1627.9 3744.1 L1628.9 3744.1 L1629.9 3744.2 L1630.9 3744.2 L1631.9 3744.2 L1632.9 3744.3 L1633.9 3744.3 L1634.9 3744.3 L1635.9 3744.3 L1636.9 3744.4 L1637.9 3744.4 L1638.9 3744.4 L1639.9 3744.4 L1640.9 3744.5 L1641.9 3744.5 L1642.9 3744.5 L1643.9 3744.5 L1644.9 3744.6 L1645.9 3744.6 L1646.9 3744.6 L1647.9 3744.6 L1648.9 3744.7 L1649.9 3744.7 L1650.9 3744.7 L1651.9 3744.7 L1652.9 3744.8 L1653.9 3744.8 L1654.9 3744.8 L1655.9 3744.8 L1656.9 3744.9 L1657.9 3744.9 L1658.9 3744.9 L1659.9 3745 L1660.9 3745 L1661.9 3745.1 L1662.9 3745.1 L1663.9 3745.2 L1664.9 3745.2 L1665.9 3745.2 L1666.9 3745.3 L1667.9 3745.4 L1668.9 3745.4 L1669.9 3745.5 L1670.9 3745.5 L1671.9 3745.6 L1672.9 3745.7 L1673.9 3745.8 L1674.9 3745.9 L1675.9 3745.9 L1676.9 3746 L1677.9 3746.2 L1678.9 3746.3 L1679.9 3746.4 L1680.9 3746.5 L1681.9 3746.7 L1682.9 3746.8 L1683.9 3747 L1684.9 3747.2 L1685.9 3747.4 L1686.9 3747.6 L1687.9 3747.8 L1688.9 3748.1 L1689.9 3748.3 L1690.9 3748.7 L1691.9 3749 L1692.9 3749.4 L1693.9 3749.8 L1694.9 3750.3 L1695.9 3750.8 L1696.9 3751.4 L1697.9 3752 L1698.9 3752.8 L1699.9 3753.6 L1700.9 3754.5 L1701.9 3755.6 L1702.9 3756.8 L1703.9 3758.1 L1704.9 3759.6 L1705.9 3761.2 L1706.9 3763.1 L1707.9 3765.1 L1708.9 3767.3 L1709.9 3769.5 L1710.9 3771.8 L1711.9 3774 L1712.9 3776 L1713.9 3777.6 L1714.9 3778.6 L1715.9 3779 L1716.9 3778.6 L1717.9 3777.6 L1718.9 3776 L1719.9 3774 L1720.9 3771.8 L1721.9 3769.5 L1722.9 3767.2 L1723.9 3765 L1724.9 3763 L1725.9 3761.1 L1726.9 3759.5 L1727.9 3758 L1728.9 3756.6 L1729.9 3755.4 L1730.9 3754.4 L1731.9 3753.4 L1732.9 3752.6 L1733.9 3751.8 L1734.9 3751.1 L1735.9 3750.5 L1736.9 3750 L1737.9 3749.5 L1738.9 3749 L1739.9 3748.6 L1740.9 3748.2 L1741.9 3747.9 L1742.9 3747.5 L1743.9 3747.2 L1744.9 3746.9 L1745.9 3746.6 L1746.9 3746.3 L1747.9 3746 L1748.9 3745.7 L1749.9 3745.4 L1750.9 3745.1 L1751.9 3744.7 L1752.9 3744.3 L1753.9 3743.9 L1754.9 3743.4 L1755.9 3742.8 L1756.9 3742.1 L1757.9 3741.5 L1758.9 3740.9 L1759.9 3740.4 L1760.9 3740.2 L1761.9 3740.3 L1762.9 3740.7 L1763.9 3741.2 L1764.9 3741.7 L1765.9 3742.2 L1766.9 3742.6 L1767.9 3742.9 L1768.9 3743.2 L1769.9 3743.4 L1770.9 3743.6 L1771.9 3743.8 L1772.9 3743.9 L1773.9 3744 L1774.9 3744 L1775.9 3744.1 L1776.9 3744.1 L1777.9 3744.2 L1778.9 3744.2 L1779.9 3744.2 L1780.9 3744.2 L1781.9 3744.3 L1782.9 3744.3 L1783.9 3744.3 L1784.9 3744.3 L1785.9 3744.3 L1786.9 3744.3 L1787.9 3744.3 L1788.9 3744.3 L1789.9 3744.3 L1790.9 3744.2 L1791.9 3744.2 L1792.9 3744.2 L1793.9 3744.2 L1794.9 3744.2 L1795.9 3744.2 L1796.9 3744.2 L1797.9 3744.2 L1798.9 3744.2 L1799.9 3744.2 L1800.9 3744.1 L1801.9 3744.1 L1802.9 3744.1 L1803.9 3744.1 L1804.9 3744.1 L1805.9 3744.1 L1806.9 3744 L1807.9 3744 L1808.9 3744 L1809.9 3744 L1810.9 3743.9 L1811.9 3743.9 L1812.9 3743.9 L1813.9 3743.8 L1814.9 3743.8 L1815.9 3743.7 L1816.9 3743.7 L1817.9 3743.6 L1818.9 3743.6 L1819.9 3743.5 L1820.9 3743.4 L1821.9 3743.3 L1822.9 3743.2 L1823.9 3743 L1824.9 3742.9 L1825.9 3742.7 L1826.9 3742.4 L1827.9 3742.1 L1828.9 3741.8 L1829.9 3741.4 L1830.9 3741 L1831.9 3740.5 L1832.9 3740 L1833.9 3739.6 L1834.9 3739.2 L1835.9 3739 L1836.9 3739.1 L1837.9 3739.3 L1838.9 3739.7 L1839.9 3740.2 L1840.9 3740.7 L1841.9 3741.2 L1842.9 3741.6 L1843.9 3742 L1844.9 3742.3 L1845.9 3742.6 L1846.9 3742.8 L1847.9 3743 L1848.9 3743.2 L1849.9 3743.3 L1850.9 3743.5 L1851.9 3743.6 L1852.9 3743.7 L1853.9 3743.8 L1854.9 3743.8 L1855.9 3743.9 L1856.9 3744 L1857.9 3744.1 L1858.9 3744.1 L1859.9 3744.2 L1860.9 3744.3 L1861.9 3744.3 L1862.9 3744.4 L1863.9 3744.5 L1864.9 3744.5 L1865.9 3744.6 L1866.9 3744.7 L1867.9 3744.8 L1868.9 3744.9 L1869.9 3745 L1870.9 3745.1 L1871.9 3745.2 L1872.9 3745.3 L1873.9 3745.5 L1874.9 3745.7 L1875.9 3745.9 L1876.9 3746.1 L1877.9 3746.3 L1878.9 3746.6 L1879.9 3746.9 L1880.9 3747.3 L1881.9 3747.7 L1882.9 3748.2 L1883.9 3748.7 L1884.9 3749.3 L1885.9 3749.8 L1886.9 3750.5 L1887.9 3751 L1888.9 3751.6 L1889.9 3752 L1890.9 3752.2 L1891.9 3752.3 L1892.9 3752.1 L1893.9 3751.8 L1894.9 3751.3 L1895.9 3750.8 L1896.9 3750.1 L1897.9 3749.5 L1898.9 3748.9 L1899.9 3748.4 L1900.9 3747.9 L1901.9 3747.4 L1902.9 3747 L1903.9 3746.7 L1904.9 3746.3 L1905.9 3746.1 L1906.9 3745.8 L1907.9 3745.6 L1908.9 3745.4 L1909.9 3745.2 L1910.9 3745 L1911.9 3744.9 L1912.9 3744.8 L1913.9 3744.6 L1914.9 3744.5 L1915.9 3744.4 L1916.9 3744.3 L1917.9 3744.2 L1918.9 3744.1 L1919.9 3744.1 L1920.9 3744 L1921.9 3743.9 L1922.9 3743.8 L1923.9 3743.8 L1924.9 3743.7 L1925.9 3743.6 L1926.9 3743.6 L1927.9 3743.5 L1928.9 3743.4 L1929.9 3743.4 L1930.9 3743.3 L1931.9 3743.2 L1932.9 3743.2 L1933.9 3743.1 L1934.9 3743 L1935.9 3743 L1936.9 3742.9 L1937.9 3742.8 L1938.9 3742.7 L1939.9 3742.6 L1940.9 3742.5 L1941.9 3742.4 L1942.9 3742.3 L1943.9 3742.2 L1944.9 3742.1 L1945.9 3741.9 L1946.9 3741.8 L1947.9 3741.7 L1948.9 3741.5 L1949.9 3741.3 L1950.9 3741.1 L1951.9 3740.9 L1952.9 3740.7 L1953.9 3740.4 L1954.9 3740.2 L1955.9 3739.9 L1956.9 3739.5 L1957.9 3739.2 L1958.9 3738.8 L1959.9 3738.3 L1960.9 3737.8 L1961.9 3737.3 L1962.9 3736.7 L1963.9 3736 L1964.9 3735.2 L1965.9 3734.3 L1966.9 3733.4 L1967.9 3732.3 L1968.9 3731.1 L1969.9 3729.7 L1970.9 3728.3 L1971.9 3726.7 L1972.9 3725.1 L1973.9 3723.4 L1974.9 3721.7 L1975.9 3720.2 L1976.9 3718.9 L1977.9 3717.9 L1978.9 3717.4 L1979.9 3717.3 L1980.9 3717.8 L1981.9 3718.7 L1982.9 3719.9 L1983.9 3721.4 L1984.9 3723 L1985.9 3724.7 L1986.9 3726.4 L1987.9 3727.9 L1988.9 3729.4 L1989.9 3730.8 L1990.9 3732 L1991.9 3733.1 L1992.9 3734.1 L1993.9 3735 L1994.9 3735.8 L1995.9 3736.5 L1996.9 3737.1 L1997.9 3737.6 L1998.9 3738.1 L1999.9 3738.6 L2000.9 3739 L2001.9 3739.4 L2002.9 3739.7 L2003.9 3740 L2004.9 3740.3 L2005.9 3740.5 L2006.9 3740.7 L2007.9 3740.9 L2008.9 3741.1 L2009.9 3741.3 L2010.9 3741.4 L2011.9 3741.6 L2012.9 3741.7 L2013.9 3741.8 L2014.9 3742 L2015.9 3742.1 L2016.9 3742.2 L2017.9 3742.2 L2018.9 3742.3 L2019.9 3742.4 L2020.9 3742.5 L2021.9 3742.5 L2022.9 3742.6 L2023.9 3742.7 L2024.9 3742.7 L2025.9 3742.8 L2026.9 3742.8 L2027.9 3742.9" fill="none" stroke="#9B00DB" stroke-width="6.3" stroke-linejoin="round" stroke-linecap="round"/>
<line x1="277.4" y1="44.1" x2="277.4" y2="4056" stroke="#383838" stroke-width="6.5" stroke-linecap="butt"/>
<line x1="2029" y1="44.1" x2="2029" y2="4056" stroke="#383838" stroke-width="6.5" stroke-linecap="butt"/>
<line x1="274.2" y1="47.3" x2="2032.2" y2="47.3" stroke="#383838" stroke-width="6.2" stroke-linecap="butt"/>
<line x1="274.2" y1="2136.2" x2="2032.2" y2="2136.2" stroke="#383838" stroke-width="6.5" stroke-linecap="butt"/>
<line x1="274.2" y1="2151.5" x2="2032.2" y2="2151.5" stroke="#383838" stroke-width="6.5" stroke-linecap="butt"/>
<line x1="274.2" y1="4052.6" x2="2032.2" y2="4052.6" stroke="#111" stroke-width="7.2" stroke-linecap="butt"/>
<line x1="277.5" y1="4052.6" x2="277.5" y2="4068.5" stroke="#111" stroke-width="4.6" stroke-linecap="butt"/>
<line x1="389.2" y1="4052.6" x2="389.2" y2="4062.5" stroke="#111" stroke-width="4.6" stroke-linecap="butt"/>
<line x1="499.8" y1="4052.6" x2="499.8" y2="4068.5" stroke="#111" stroke-width="4.6" stroke-linecap="butt"/>
<line x1="609" y1="4052.6" x2="609" y2="4062.5" stroke="#111" stroke-width="4.6" stroke-linecap="butt"/>
<line x1="718.6" y1="4052.6" x2="718.6" y2="4068.5" stroke="#111" stroke-width="4.6" stroke-linecap="butt"/>
<line x1="827.4" y1="4052.6" x2="827.4" y2="4062.5" stroke="#111" stroke-width="4.6" stroke-linecap="butt"/>
<line x1="935.7" y1="4052.6" x2="935.7" y2="4068.5" stroke="#111" stroke-width="4.6" stroke-linecap="butt"/>
<line x1="1046" y1="4052.6" x2="1046" y2="4062.5" stroke="#111" stroke-width="4.6" stroke-linecap="butt"/>
<line x1="1154.7" y1="4052.6" x2="1154.7" y2="4068.5" stroke="#111" stroke-width="4.6" stroke-linecap="butt"/>
<line x1="1264.2" y1="4052.6" x2="1264.2" y2="4062.5" stroke="#111" stroke-width="4.6" stroke-linecap="butt"/>
<line x1="1373.3" y1="4052.6" x2="1373.3" y2="4068.5" stroke="#111" stroke-width="4.6" stroke-linecap="butt"/>
<line x1="1482.3" y1="4052.6" x2="1482.3" y2="4062.5" stroke="#111" stroke-width="4.6" stroke-linecap="butt"/>
<line x1="1591.7" y1="4052.6" x2="1591.7" y2="4068.5" stroke="#111" stroke-width="4.6" stroke-linecap="butt"/>
<line x1="1701.2" y1="4052.6" x2="1701.2" y2="4062.5" stroke="#111" stroke-width="4.6" stroke-linecap="butt"/>
<line x1="1809.4" y1="4052.6" x2="1809.4" y2="4068.5" stroke="#111" stroke-width="4.6" stroke-linecap="butt"/>
<line x1="1919.7" y1="4052.6" x2="1919.7" y2="4062.5" stroke="#111" stroke-width="4.6" stroke-linecap="butt"/>
<line x1="2028.9" y1="4052.6" x2="2028.9" y2="4068.5" stroke="#111" stroke-width="4.6" stroke-linecap="butt"/>
<line x1="246.5" y1="150.3" x2="277.4" y2="150.3" stroke="#111" stroke-width="4.6" stroke-linecap="butt"/>
<line x1="246.5" y1="264.8" x2="277.4" y2="264.8" stroke="#111" stroke-width="4.6" stroke-linecap="butt"/>
<line x1="246.5" y1="379.3" x2="277.4" y2="379.3" stroke="#111" stroke-width="4.6" stroke-linecap="butt"/>
<line x1="246.5" y1="493.8" x2="277.4" y2="493.8" stroke="#111" stroke-width="4.6" stroke-linecap="butt"/>
<line x1="246.5" y1="608.3" x2="277.4" y2="608.3" stroke="#111" stroke-width="4.6" stroke-linecap="butt"/>
<line x1="260.5" y1="207.6" x2="277.4" y2="207.6" stroke="#111" stroke-width="4.6" stroke-linecap="butt"/>
<line x1="260.5" y1="322.1" x2="277.4" y2="322.1" stroke="#111" stroke-width="4.6" stroke-linecap="butt"/>
<line x1="260.5" y1="436.6" x2="277.4" y2="436.6" stroke="#111" stroke-width="4.6" stroke-linecap="butt"/>
<line x1="260.5" y1="551" x2="277.4" y2="551" stroke="#111" stroke-width="4.6" stroke-linecap="butt"/>
<line x1="2029" y1="803.3" x2="2054.5" y2="803.3" stroke="#111" stroke-width="4.6" stroke-linecap="butt"/>
<line x1="2029" y1="918" x2="2054.5" y2="918" stroke="#111" stroke-width="4.6" stroke-linecap="butt"/>
<line x1="2029" y1="1033.3" x2="2054.5" y2="1033.3" stroke="#111" stroke-width="4.6" stroke-linecap="butt"/>
<line x1="2029" y1="1147.4" x2="2054.5" y2="1147.4" stroke="#111" stroke-width="4.6" stroke-linecap="butt"/>
<line x1="2029" y1="860.9" x2="2043" y2="860.9" stroke="#111" stroke-width="4.6" stroke-linecap="butt"/>
<line x1="2029" y1="975" x2="2043" y2="975" stroke="#111" stroke-width="4.6" stroke-linecap="butt"/>
<line x1="2029" y1="1089.8" x2="2043" y2="1089.8" stroke="#111" stroke-width="4.6" stroke-linecap="butt"/>
<line x1="246.5" y1="1312.8" x2="277.4" y2="1312.8" stroke="#111" stroke-width="4.6" stroke-linecap="butt"/>
<line x1="246.5" y1="1427.2" x2="277.4" y2="1427.2" stroke="#111" stroke-width="4.6" stroke-linecap="butt"/>
<line x1="246.5" y1="1542" x2="277.4" y2="1542" stroke="#111" stroke-width="4.6" stroke-linecap="butt"/>
<line x1="246.5" y1="1657" x2="277.4" y2="1657" stroke="#111" stroke-width="4.6" stroke-linecap="butt"/>
<line x1="260.5" y1="1369.6" x2="277.4" y2="1369.6" stroke="#111" stroke-width="4.6" stroke-linecap="butt"/>
<line x1="260.5" y1="1484.6" x2="277.4" y2="1484.6" stroke="#111" stroke-width="4.6" stroke-linecap="butt"/>
<line x1="260.5" y1="1599.6" x2="277.4" y2="1599.6" stroke="#111" stroke-width="4.6" stroke-linecap="butt"/>
<line x1="2029" y1="1804.7" x2="2054.5" y2="1804.7" stroke="#111" stroke-width="4.6" stroke-linecap="butt"/>
<line x1="2029" y1="2063" x2="2054.5" y2="2063" stroke="#111" stroke-width="4.6" stroke-linecap="butt"/>
<line x1="2029" y1="1934.6" x2="2043" y2="1934.6" stroke="#111" stroke-width="4.6" stroke-linecap="butt"/>
<line x1="2029" y1="2319.1" x2="2054.5" y2="2319.1" stroke="#111" stroke-width="4.6" stroke-linecap="butt"/>
<line x1="2029" y1="2449.6" x2="2054.5" y2="2449.6" stroke="#111" stroke-width="4.6" stroke-linecap="butt"/>
<line x1="2029" y1="2579" x2="2054.5" y2="2579" stroke="#111" stroke-width="4.6" stroke-linecap="butt"/>
<line x1="2029" y1="2383.6" x2="2043" y2="2383.6" stroke="#111" stroke-width="4.6" stroke-linecap="butt"/>
<line x1="2029" y1="2513.9" x2="2043" y2="2513.9" stroke="#111" stroke-width="4.6" stroke-linecap="butt"/>
<line x1="246.5" y1="2690.9" x2="277.4" y2="2690.9" stroke="#111" stroke-width="4.6" stroke-linecap="butt"/>
<line x1="246.5" y1="2866.1" x2="277.4" y2="2866.1" stroke="#111" stroke-width="4.6" stroke-linecap="butt"/>
<line x1="246.5" y1="3039" x2="277.4" y2="3039" stroke="#111" stroke-width="4.6" stroke-linecap="butt"/>
<line x1="260.5" y1="2779.7" x2="277.4" y2="2779.7" stroke="#111" stroke-width="4.6" stroke-linecap="butt"/>
<line x1="260.5" y1="2952.7" x2="277.4" y2="2952.7" stroke="#111" stroke-width="4.6" stroke-linecap="butt"/>
<line x1="2029" y1="3118.1" x2="2054.5" y2="3118.1" stroke="#111" stroke-width="4.6" stroke-linecap="butt"/>
<line x1="2029" y1="3292.6" x2="2054.5" y2="3292.6" stroke="#111" stroke-width="4.6" stroke-linecap="butt"/>
<line x1="2029" y1="3466.4" x2="2054.5" y2="3466.4" stroke="#111" stroke-width="4.6" stroke-linecap="butt"/>
<line x1="2029" y1="3206" x2="2043" y2="3206" stroke="#111" stroke-width="4.6" stroke-linecap="butt"/>
<line x1="2029" y1="3379.3" x2="2043" y2="3379.3" stroke="#111" stroke-width="4.6" stroke-linecap="butt"/>
<line x1="246.5" y1="3566.5" x2="277.4" y2="3566.5" stroke="#111" stroke-width="4.6" stroke-linecap="butt"/>
<line x1="246.5" y1="3743.3" x2="277.4" y2="3743.3" stroke="#111" stroke-width="4.6" stroke-linecap="butt"/>
<line x1="246.5" y1="3921.1" x2="277.4" y2="3921.1" stroke="#111" stroke-width="4.6" stroke-linecap="butt"/>
<line x1="260.5" y1="3654.5" x2="277.4" y2="3654.5" stroke="#111" stroke-width="4.6" stroke-linecap="butt"/>
<line x1="260.5" y1="3831.2" x2="277.4" y2="3831.2" stroke="#111" stroke-width="4.6" stroke-linecap="butt"/>
<text transform="translate(151.4 171.4) scale(1 1.035)" font-size="57.5" fill="#3b3331">4.0</text>
<text transform="translate(153.6 281.9) scale(1 1.035)" font-size="57.5" fill="#3b3331">3.0</text>
<text transform="translate(157.6 395.6) scale(1 1.035)" font-size="57.5" fill="#3b3331">2.0</text>
<text transform="translate(157 513) scale(1 1.035)" font-size="57.5" fill="#3b3331">1.0</text>
<text transform="translate(161.9 624.1) scale(1 1.035)" font-size="57.5" fill="#3b3331">0.0</text>
<text transform="translate(2077.8 824.9) scale(1 1.035)" font-size="57.5" fill="#3b3331">3.0</text>
<text transform="translate(2077.1 933.4) scale(1 1.035)" font-size="57.5" fill="#3b3331">2.0</text>
<text transform="translate(2075.1 1052.2) scale(1 1.035)" font-size="57.5" fill="#3b3331">1.0</text>
<text transform="translate(2076.8 1164.3) scale(1 1.035)" font-size="57.5" fill="#3b3331">0.0</text>
<text transform="translate(156.2 1331.6) scale(1 1.035)" font-size="57.5" fill="#3b3331">3.0</text>
<text transform="translate(153.8 1446.4) scale(1 1.035)" font-size="57.5" fill="#3b3331">2.0</text>
<text transform="translate(154 1560.2) scale(1 1.035)" font-size="57.5" fill="#3b3331">1.0</text>
<text transform="translate(153.8 1670.4) scale(1 1.035)" font-size="57.5" fill="#3b3331">0.0</text>
<text transform="translate(2074.6 1828.4) scale(1 1.035)" font-size="57.5" fill="#3b3331">1.0</text>
<text transform="translate(2073.7 1958.8) scale(1 1.035)" font-size="57.5" fill="#3b3331">0.5</text>
<text transform="translate(2077.3 2084.5) scale(1 1.035)" font-size="57.5" fill="#3b3331">0.0</text>
<text transform="translate(2087.6 2332.4) scale(1 1.035)" font-size="57.5" fill="#3b3331">0.1</text>
<text transform="translate(2086.7 2468) scale(1 1.035)" font-size="57.5" fill="#3b3331">0.0</text>
<text transform="translate(2062.8 2599.4) scale(1 1.035)" font-size="57.5" fill="#3b3331">−0.1</text>
<text transform="translate(162.1 2710.9) scale(1 1.035)" font-size="57.5" fill="#3b3331">0.1</text>
<text transform="translate(163.7 2884.4) scale(1 1.035)" font-size="57.5" fill="#3b3331">0.0</text>
<text transform="translate(126.6 3058.9) scale(1 1.035)" font-size="57.5" fill="#3b3331">−0.1</text>
<text transform="translate(2087.6 3134.9) scale(1 1.035)" font-size="57.5" fill="#3b3331">0.1</text>
<text transform="translate(2088.3 3311.4) scale(1 1.035)" font-size="57.5" fill="#3b3331">0.0</text>
<text transform="translate(2060.7 3487.9) scale(1 1.035)" font-size="57.5" fill="#3b3331">−0.1</text>
<text transform="translate(155.4 3587.1) scale(1 1.035)" font-size="57.5" fill="#3b3331">0.1</text>
<text transform="translate(155.9 3763.3) scale(1 1.035)" font-size="57.5" fill="#3b3331">0.0</text>
<text transform="translate(123.6 3940.6) scale(1 1.035)" font-size="57.5" fill="#3b3331">−0.1</text>
<text transform="translate(249 4135.2) scale(1 1.035)" font-size="57.5" fill="#3b3331">1800</text>
<text transform="translate(444.4 4140.8) scale(1 1.035)" font-size="57.5" fill="#3b3331">1700</text>
<text transform="translate(669.5 4141.5) scale(1 1.035)" font-size="57.5" fill="#3b3331">1600</text>
<text transform="translate(889.3 4139.8) scale(1 1.035)" font-size="57.5" fill="#3b3331">1500</text>
<text transform="translate(1099.1 4139.8) scale(1 1.035)" font-size="57.5" fill="#3b3331">1400</text>
<text transform="translate(1322.2 4138.5) scale(1 1.035)" font-size="57.5" fill="#3b3331">1300</text>
<text transform="translate(1542.5 4145) scale(1 1.035)" font-size="57.5" fill="#3b3331">1200</text>
<text transform="translate(1759.3 4145) scale(1 1.035)" font-size="57.5" fill="#3b3331">1100</text>
<text transform="translate(1978.3 4143.9) scale(1 1.035)" font-size="57.5" fill="#3b3331">1000</text>
<text transform="translate(911.8 4244.5) scale(1 1.035)" font-size="57" fill="#3b3331">Wavenumber / cm<tspan font-size="44" dx="-3" dy="-23">-1</tspan></text>
<text transform="translate(1368.3 385) scale(1 1.035)" font-size="62.7" fill="#9B00DB">simpilified</text>
<text transform="translate(1384.9 891.8) scale(1 1.035)" font-size="62.7" fill="#FF0000">LANL2DZ/def2-TZVP</text>
<text transform="translate(1361 1416.5) scale(1 1.035)" font-size="62.7" fill="#0000FF">6-311++G(d,p)</text>
<text transform="translate(1272 1859) scale(1 1.035)" font-size="62.7" fill="#3b3331">salen-chxn-Ni(II) IR exp.</text>
<text transform="translate(1202.3 2273.3) scale(1 1.035)" font-size="62.7" fill="#3b3331">salen-chxn-Ni(II) VCD exp.</text>
<text transform="translate(1563.3 2701.9) scale(1 1.035)" font-size="62.7" fill="#0000FF">6-311++G(d,p)</text>
<text transform="translate(1374.8 3138.3) scale(1 1.035)" font-size="62.7" fill="#FF0000">LANL2DZ/def2-TZVP</text>
<text transform="translate(1676.8 3613.7) scale(1 1.035)" font-size="62.7" fill="#9B00DB">simpilified</text>
<text transform="translate(104.5,0) rotate(-90) scale(1 1.035)" font-size="57.5" fill="#3b3331"><tspan x="-520.2" y="0" font-family="Liberation Serif, serif">ε</tspan><tspan x="-480.8" y="0">x 10</tspan><tspan x="-373.6" y="-17">3</tspan><tspan x="-326.8" y="0">(a.u.)</tspan></text>
<text transform="translate(2227.3,0) rotate(-90) scale(1 1.035)" font-size="57.5" fill="#3b3331"><tspan x="-1133" y="0" font-family="Liberation Serif, serif">ε</tspan><tspan x="-1093.6" y="0">x 10</tspan><tspan x="-986.4" y="-17">3</tspan><tspan x="-939.7" y="0">(a.u.)</tspan></text>
<text transform="translate(94.9,0) rotate(-90) scale(1 1.035)" font-size="57.5" fill="#3b3331"><tspan x="-1650.5" y="0" font-family="Liberation Serif, serif">ε</tspan><tspan x="-1611.1" y="0">x 10</tspan><tspan x="-1503.9" y="-17">3</tspan><tspan x="-1457.2" y="0">(a.u.)</tspan></text>
<text transform="translate(93,0) rotate(-90) scale(1 1.035)" font-size="57.5" fill="#3b3331"><tspan x="-2970.8" y="0">Δ</tspan><tspan font-family="Liberation Serif, serif">ε</tspan> (a.u.)</text>
<text transform="translate(2232.5,0) rotate(-90) scale(1 1.035)" font-size="57.5" fill="#3b3331"><tspan x="-3401.5" y="0">Δ</tspan><tspan font-family="Liberation Serif, serif">ε</tspan> (a.u.)</text>
<text transform="translate(110.8,0) rotate(-90) scale(1 1.035)" font-size="57.5" fill="#3b3331"><tspan x="-3836.6" y="0">Δ</tspan><tspan font-family="Liberation Serif, serif">ε</tspan> (a.u.)</text>
<text transform="translate(2234.6,0) rotate(-90) scale(1 1.035)" font-size="44.5" fill="#3b3331"><tspan x="-2109" y="0"><tspan font-family="Liberation Serif, serif">ε</tspan> x 10</tspan><tspan dy="-14">3</tspan><tspan dy="14"> / M</tspan><tspan dy="-14">−1</tspan><tspan dy="14">cm</tspan><tspan dy="-14">−1</tspan></text>
<text transform="translate(2238.8,0) rotate(-90) scale(1 1.035)" font-size="44.5" fill="#3b3331"><tspan x="-2576" y="0">Δ<tspan font-family="Liberation Serif, serif">ε</tspan> / M</tspan><tspan dy="-14">−1</tspan><tspan dy="14">cm</tspan><tspan dy="-14">−1</tspan></text>
</svg></body></html>
